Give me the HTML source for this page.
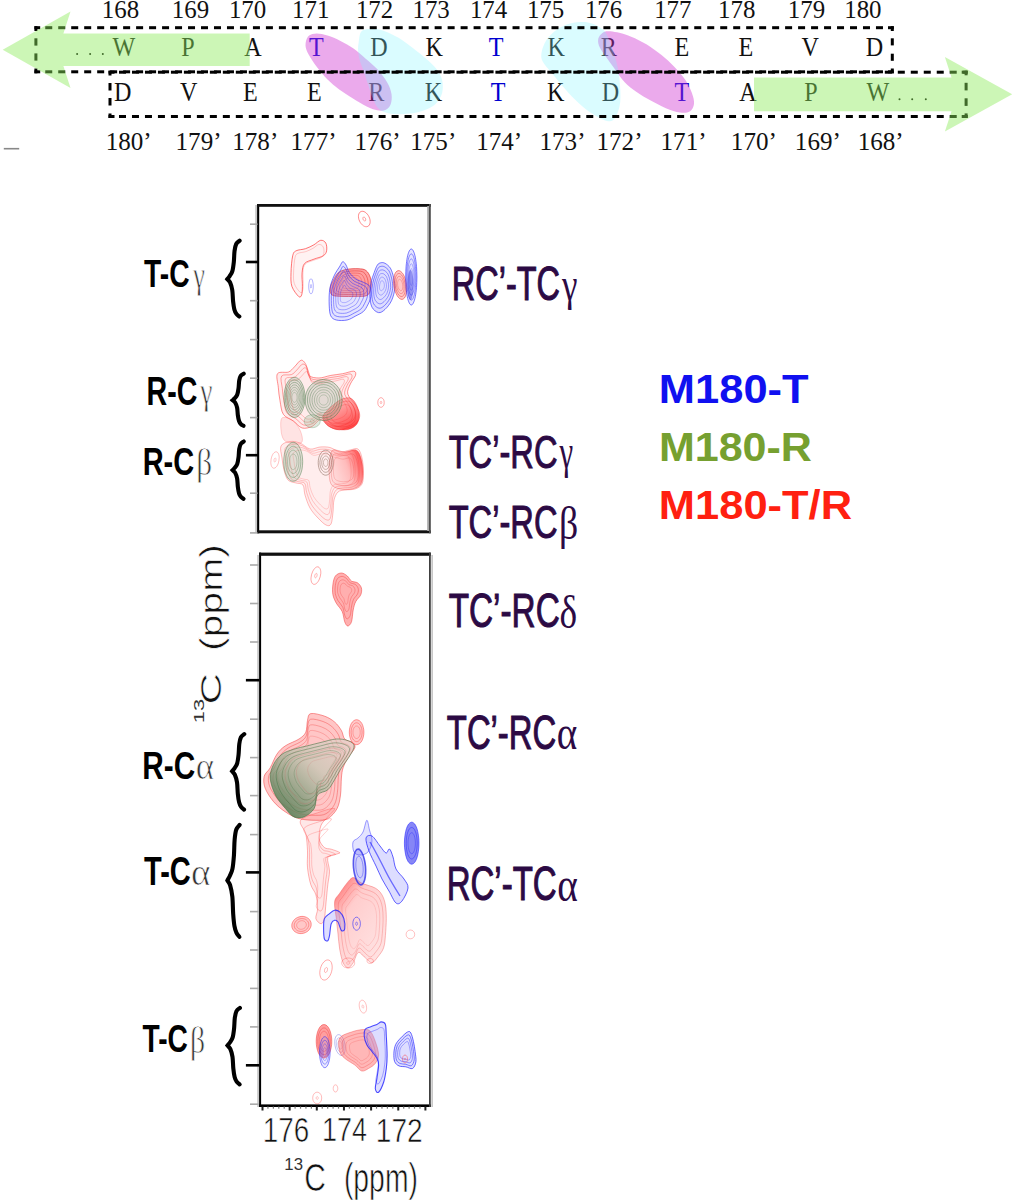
<!DOCTYPE html>
<html><head><meta charset="utf-8"><style>
html,body{margin:0;padding:0;background:#fff;}
body{width:1015px;height:1200px;position:relative;overflow:hidden;}
.t{position:absolute;left:0;top:0;white-space:pre;line-height:1;font-size:100px;transform-origin:0 0;}
svg{position:absolute;left:0;top:0;}
</style></head><body>
<svg width="1015" height="1200" viewBox="0 0 1015 1200"><rect x="255.2" y="205" width="1.9" height="328" fill="#c8c8c8"/><rect x="257.1" y="204" width="2.1" height="329.3" fill="#000"/><rect x="257.1" y="204" width="173.7" height="2.8" fill="#111"/><rect x="257.1" y="530.3" width="173.7" height="3" fill="#111"/><rect x="427.2" y="206" width="1.8" height="325" fill="#a8a8a8"/><rect x="429" y="204" width="1.8" height="329.3" fill="#505050"/><rect x="257.2" y="555" width="1.9" height="552" fill="#c8c8c8"/><rect x="259.1" y="552.6" width="2.0" height="554.4" fill="#000"/><rect x="259.1" y="552.6" width="171.7" height="3.2" fill="#111"/><rect x="259.1" y="1104.4" width="171.7" height="2.6" fill="#000"/><rect x="429" y="552.6" width="1.8" height="554.4" fill="#404040"/><rect x="431.3" y="555" width="1.7" height="552" fill="#c8c8c8"/><rect x="250" y="223.40" width="7.5" height="1.6" fill="#aaa"/><rect x="250" y="299.90" width="7.5" height="1.6" fill="#aaa"/><rect x="250" y="338.80" width="7.5" height="1.6" fill="#aaa"/><rect x="250" y="377.40" width="7.5" height="1.6" fill="#aaa"/><rect x="250" y="416.80" width="7.5" height="1.6" fill="#aaa"/><rect x="250" y="492.40" width="7.5" height="1.6" fill="#aaa"/><rect x="250" y="532.10" width="7.5" height="1.6" fill="#aaa"/><rect x="245.9" y="260.70" width="12" height="2.6" fill="#000"/><rect x="245.9" y="453.90" width="12" height="2.6" fill="#000"/><rect x="250" y="564.20" width="8.5" height="1.6" fill="#aaa"/><rect x="250" y="602.70" width="8.5" height="1.6" fill="#aaa"/><rect x="250" y="641.20" width="8.5" height="1.6" fill="#aaa"/><rect x="250" y="718.40" width="8.5" height="1.6" fill="#aaa"/><rect x="250" y="756.80" width="8.5" height="1.6" fill="#aaa"/><rect x="250" y="794.80" width="8.5" height="1.6" fill="#aaa"/><rect x="250" y="833.80" width="8.5" height="1.6" fill="#aaa"/><rect x="250" y="910.80" width="8.5" height="1.6" fill="#aaa"/><rect x="250" y="949.20" width="8.5" height="1.6" fill="#aaa"/><rect x="250" y="987.60" width="8.5" height="1.6" fill="#aaa"/><rect x="250" y="1026.10" width="8.5" height="1.6" fill="#aaa"/><rect x="250" y="1103.40" width="8.5" height="1.6" fill="#aaa"/><rect x="245.9" y="678.90" width="13.5" height="2.6" fill="#000"/><rect x="245.9" y="871.10" width="13.5" height="2.6" fill="#000"/><rect x="245.9" y="1064.00" width="13.5" height="2.6" fill="#000"/><rect x="261.50" y="1106.5" width="2" height="4" fill="#222"/><rect x="267.33" y="1106.5" width="1.2" height="2.2" fill="#777"/><rect x="272.76" y="1106.5" width="1.2" height="2.2" fill="#777"/><rect x="278.19" y="1106.5" width="1.2" height="2.2" fill="#777"/><rect x="283.62" y="1106.5" width="1.2" height="2.2" fill="#777"/><rect x="288.65" y="1106.5" width="2" height="4" fill="#222"/><rect x="294.48" y="1106.5" width="1.2" height="2.2" fill="#777"/><rect x="299.91" y="1106.5" width="1.2" height="2.2" fill="#777"/><rect x="305.34" y="1106.5" width="1.2" height="2.2" fill="#777"/><rect x="310.77" y="1106.5" width="1.2" height="2.2" fill="#777"/><rect x="315.80" y="1106.5" width="2" height="4" fill="#222"/><rect x="321.63" y="1106.5" width="1.2" height="2.2" fill="#777"/><rect x="327.06" y="1106.5" width="1.2" height="2.2" fill="#777"/><rect x="332.49" y="1106.5" width="1.2" height="2.2" fill="#777"/><rect x="337.92" y="1106.5" width="1.2" height="2.2" fill="#777"/><rect x="342.95" y="1106.5" width="2" height="4" fill="#222"/><rect x="348.78" y="1106.5" width="1.2" height="2.2" fill="#777"/><rect x="354.21" y="1106.5" width="1.2" height="2.2" fill="#777"/><rect x="359.64" y="1106.5" width="1.2" height="2.2" fill="#777"/><rect x="365.07" y="1106.5" width="1.2" height="2.2" fill="#777"/><rect x="370.10" y="1106.5" width="2" height="4" fill="#222"/><rect x="375.93" y="1106.5" width="1.2" height="2.2" fill="#777"/><rect x="381.36" y="1106.5" width="1.2" height="2.2" fill="#777"/><rect x="386.79" y="1106.5" width="1.2" height="2.2" fill="#777"/><rect x="392.22" y="1106.5" width="1.2" height="2.2" fill="#777"/><rect x="397.25" y="1106.5" width="2" height="4" fill="#222"/><rect x="403.08" y="1106.5" width="1.2" height="2.2" fill="#777"/><rect x="408.51" y="1106.5" width="1.2" height="2.2" fill="#777"/><rect x="413.94" y="1106.5" width="1.2" height="2.2" fill="#777"/><rect x="419.37" y="1106.5" width="1.2" height="2.2" fill="#777"/><rect x="424.40" y="1106.5" width="2" height="4" fill="#222"/><path d="M369.0,216.8 C369.5,217.8 369.8,218.8 370.0,219.8 C370.2,220.8 370.2,221.8 370.1,222.7 C370.0,223.6 369.7,224.4 369.3,225.0 C368.9,225.6 368.4,226.2 367.8,226.4 C367.2,226.7 366.4,226.8 365.7,226.7 C365.0,226.6 364.2,226.3 363.4,225.8 C362.7,225.3 361.9,224.6 361.3,223.9 C360.6,223.1 360.0,222.1 359.6,221.2 C359.1,220.2 358.8,219.2 358.6,218.2 C358.4,217.2 358.4,216.2 358.5,215.3 C358.6,214.4 358.9,213.6 359.3,213.0 C359.7,212.4 360.2,211.8 360.8,211.6 C361.4,211.3 362.2,211.2 362.9,211.3 C363.6,211.4 364.4,211.7 365.2,212.2 C365.9,212.7 366.7,213.4 367.3,214.1 C368.0,214.9 368.6,215.9 369.0,216.8Z" fill="none" stroke="#ff3030" stroke-width="0.8" stroke-opacity="0.70"/><path d="M365.5,218.5 C365.6,218.7 365.7,219.0 365.7,219.2 C365.8,219.4 365.8,219.7 365.7,219.9 C365.7,220.1 365.6,220.4 365.6,220.5 C365.5,220.7 365.3,220.8 365.2,220.9 C365.0,220.9 364.8,221.0 364.6,220.9 C364.5,220.9 364.3,220.8 364.1,220.7 C363.9,220.6 363.7,220.4 363.5,220.2 C363.4,220.0 363.2,219.8 363.1,219.5 C363.0,219.3 362.9,219.0 362.9,218.8 C362.8,218.6 362.8,218.3 362.9,218.1 C362.9,217.9 363.0,217.6 363.0,217.5 C363.1,217.3 363.3,217.2 363.4,217.1 C363.6,217.1 363.8,217.0 364.0,217.1 C364.1,217.1 364.3,217.2 364.5,217.3 C364.7,217.4 364.9,217.6 365.1,217.8 C365.2,218.0 365.4,218.2 365.5,218.5Z" fill="none" stroke="#ff3030" stroke-width="0.8" stroke-opacity="0.56"/><path d="M298.7,296.5 C297.1,295.1 293.2,290.3 291.9,286.4 C290.6,282.4 290.9,277.9 291.0,272.8 C291.1,267.7 291.8,259.5 292.7,255.8 C293.6,252.1 294.0,252.0 296.1,250.8 C298.2,249.6 302.5,249.7 305.5,248.7 C308.5,247.7 311.4,246.2 313.9,244.8 C316.4,243.4 318.7,240.6 320.7,240.3 C322.7,240.0 324.8,241.3 325.8,243.1 C326.8,244.8 327.0,248.7 326.6,250.8 C326.2,252.9 325.4,254.4 323.3,255.8 C321.2,257.2 317.0,257.9 313.9,259.2 C310.8,260.5 306.6,261.2 304.6,263.5 C302.6,265.8 302.5,269.0 302.1,272.8 C301.7,276.6 302.5,282.7 302.4,286.4 C302.3,290.1 302.3,293.1 301.7,294.8 C301.1,296.5 300.3,297.9 298.7,296.5Z" fill="#ff9090" fill-opacity="0.12" stroke="#ff3030" stroke-width="0.9" stroke-opacity="0.75"/><path d="M300.1,292.2 C298.7,291.0 295.4,287.0 294.3,283.6 C293.2,280.3 293.4,276.4 293.6,272.1 C293.7,267.7 294.3,260.7 295.0,257.6 C295.7,254.5 296.1,254.4 297.9,253.4 C299.7,252.4 303.4,252.4 305.9,251.6 C308.4,250.7 310.9,249.5 313.0,248.3 C315.2,247.1 317.1,244.7 318.8,244.5 C320.5,244.2 322.3,245.3 323.1,246.8 C324.0,248.3 324.2,251.6 323.8,253.4 C323.5,255.2 322.8,256.4 321.0,257.6 C319.2,258.8 315.7,259.4 313.0,260.5 C310.4,261.6 306.8,262.2 305.1,264.2 C303.4,266.1 303.3,268.8 303.0,272.1 C302.7,275.3 303.3,280.5 303.2,283.6 C303.2,286.8 303.2,289.3 302.6,290.8 C302.1,292.2 301.5,293.4 300.1,292.2Z" fill="none" stroke="#ff3030" stroke-width="0.6" stroke-opacity="0.4"/><path d="M313.3,286.3 C313.3,287.3 313.2,288.3 313.1,289.2 C313.0,290.1 312.8,290.9 312.6,291.6 C312.4,292.3 312.2,292.9 311.9,293.2 C311.6,293.6 311.3,293.8 311.0,293.8 C310.7,293.8 310.4,293.6 310.1,293.2 C309.8,292.9 309.6,292.3 309.4,291.6 C309.2,290.9 309.0,290.1 308.9,289.2 C308.8,288.3 308.7,287.3 308.7,286.3 C308.7,285.3 308.8,284.3 308.9,283.4 C309.0,282.5 309.2,281.7 309.4,281.0 C309.6,280.3 309.8,279.7 310.1,279.4 C310.4,279.0 310.7,278.8 311.0,278.8 C311.3,278.8 311.6,279.0 311.9,279.4 C312.2,279.7 312.4,280.3 312.6,281.0 C312.8,281.7 313.0,282.5 313.1,283.4 C313.2,284.3 313.3,285.3 313.3,286.3Z" fill="none" stroke="#2020ff" stroke-width="0.7" stroke-opacity="0.50"/><path d="M311.6,286.3 C311.6,286.5 311.6,286.8 311.5,287.0 C311.5,287.2 311.5,287.5 311.4,287.6 C311.4,287.8 311.3,287.9 311.2,288.0 C311.2,288.1 311.1,288.2 311.0,288.2 C310.9,288.2 310.8,288.1 310.8,288.0 C310.7,287.9 310.6,287.8 310.6,287.6 C310.5,287.5 310.5,287.2 310.5,287.0 C310.4,286.8 310.4,286.5 310.4,286.3 C310.4,286.1 310.4,285.8 310.5,285.6 C310.5,285.4 310.5,285.1 310.6,285.0 C310.6,284.8 310.7,284.7 310.8,284.6 C310.8,284.5 310.9,284.4 311.0,284.4 C311.1,284.4 311.2,284.5 311.2,284.6 C311.3,284.7 311.4,284.8 311.4,285.0 C311.5,285.1 311.5,285.4 311.5,285.6 C311.6,285.8 311.6,286.1 311.6,286.3Z" fill="none" stroke="#2020ff" stroke-width="0.7" stroke-opacity="0.40"/><path d="M333.0,281.0 C334.3,278.5 335.8,274.9 338.0,273.0 C340.2,271.1 342.7,270.2 346.0,269.5 C349.3,268.8 354.7,268.5 358.0,268.7 C361.3,268.9 363.9,268.9 366.0,270.5 C368.1,272.1 369.7,275.1 370.5,278.0 C371.3,280.9 371.6,285.1 371.0,288.0 C370.4,290.9 369.7,294.1 367.0,295.5 C364.3,296.9 359.2,296.2 355.0,296.4 C350.8,296.5 345.8,296.6 342.0,296.4 C338.2,296.2 333.9,296.4 332.0,295.0 C330.1,293.6 330.1,290.3 330.3,288.0 C330.5,285.7 331.7,283.5 333.0,281.0Z" fill="#ff5050" fill-opacity="0.55"/><path d="M333.0,281.0 C334.3,278.5 335.8,274.9 338.0,273.0 C340.2,271.1 342.7,270.2 346.0,269.5 C349.3,268.8 354.7,268.5 358.0,268.7 C361.3,268.9 363.9,268.9 366.0,270.5 C368.1,272.1 369.7,275.1 370.5,278.0 C371.3,280.9 371.6,285.1 371.0,288.0 C370.4,290.9 369.7,294.1 367.0,295.5 C364.3,296.9 359.2,296.2 355.0,296.4 C350.8,296.5 345.8,296.6 342.0,296.4 C338.2,296.2 333.9,296.4 332.0,295.0 C330.1,293.6 330.1,290.3 330.3,288.0 C330.5,285.7 331.7,283.5 333.0,281.0Z" fill="none" stroke="#e02020" stroke-width="0.8" stroke-opacity="0.80"/><path d="M335.7,281.4 C336.8,279.2 338.1,276.2 339.9,274.6 C341.8,272.9 343.9,272.2 346.7,271.6 C349.5,271.0 354.1,270.8 356.9,270.9 C359.7,271.0 361.9,271.1 363.7,272.4 C365.5,273.7 366.8,276.3 367.5,278.8 C368.2,281.3 368.5,284.8 368.0,287.3 C367.5,289.8 366.8,292.5 364.6,293.7 C362.3,294.9 357.9,294.3 354.4,294.4 C350.8,294.6 346.6,294.6 343.3,294.4 C340.1,294.2 336.5,294.4 334.8,293.2 C333.2,292.1 333.2,289.3 333.4,287.3 C333.5,285.3 334.6,283.5 335.7,281.4Z" fill="none" stroke="#e02020" stroke-width="0.8" stroke-opacity="0.60"/><path d="M338.3,281.7 C339.2,279.9 340.3,277.4 341.8,276.1 C343.3,274.8 345.1,274.2 347.4,273.6 C349.8,273.1 353.5,273.0 355.8,273.1 C358.2,273.2 360.0,273.3 361.4,274.4 C362.9,275.4 364.0,277.6 364.6,279.6 C365.2,281.6 365.3,284.6 364.9,286.6 C364.5,288.6 364.0,290.9 362.1,291.9 C360.3,292.8 356.6,292.4 353.7,292.5 C350.8,292.6 347.3,292.6 344.6,292.5 C341.9,292.3 339.0,292.5 337.6,291.5 C336.3,290.5 336.3,288.2 336.4,286.6 C336.5,285.0 337.4,283.4 338.3,281.7Z" fill="none" stroke="#e02020" stroke-width="0.8" stroke-opacity="0.45"/><path d="M341.0,282.1 C341.7,280.7 342.5,278.7 343.7,277.6 C344.9,276.6 346.3,276.1 348.1,275.7 C350.0,275.3 352.9,275.2 354.7,275.3 C356.6,275.4 358.0,275.4 359.1,276.3 C360.3,277.1 361.1,278.8 361.6,280.4 C362.1,282.0 362.2,284.3 361.9,285.9 C361.6,287.5 361.1,289.3 359.7,290.0 C358.2,290.8 355.4,290.4 353.1,290.5 C350.8,290.6 348.0,290.6 345.9,290.5 C343.8,290.4 341.5,290.5 340.4,289.8 C339.4,289.0 339.4,287.2 339.5,285.9 C339.6,284.6 340.3,283.4 341.0,282.1Z" fill="none" stroke="#e02020" stroke-width="0.8" stroke-opacity="0.34"/><path d="M343.6,282.4 C344.2,281.4 344.8,280.0 345.6,279.2 C346.5,278.4 347.5,278.1 348.8,277.8 C350.2,277.5 352.3,277.4 353.6,277.5 C355.0,277.5 356.0,277.6 356.8,278.2 C357.7,278.8 358.3,280.0 358.6,281.2 C359.0,282.4 359.1,284.0 358.8,285.2 C358.6,286.4 358.3,287.6 357.2,288.2 C356.2,288.8 354.1,288.5 352.4,288.6 C350.8,288.6 348.8,288.7 347.2,288.6 C345.7,288.5 344.0,288.6 343.2,288.0 C342.5,287.4 342.5,286.1 342.6,285.2 C342.6,284.3 343.1,283.4 343.6,282.4Z" fill="none" stroke="#e02020" stroke-width="0.8" stroke-opacity="0.25"/><path d="M329.2,305.0 C329.0,300.5 329.0,293.7 329.8,288.8 C330.6,283.9 332.4,279.6 334.1,275.8 C335.8,272.0 338.6,268.4 340.0,266.0 C341.4,263.6 341.8,261.9 342.8,261.7 C343.8,261.5 344.9,263.2 346.0,265.0 C347.1,266.8 347.7,270.2 349.3,272.5 C350.9,274.8 353.5,277.4 355.8,279.0 C358.1,280.6 361.0,281.0 363.4,282.3 C365.8,283.6 368.6,284.2 369.9,286.6 C371.2,289.0 371.4,293.3 371.0,296.4 C370.6,299.5 369.0,302.5 367.7,305.0 C366.4,307.5 365.4,309.7 363.4,311.5 C361.4,313.3 358.5,314.5 355.8,315.9 C353.1,317.3 350.4,319.3 347.1,320.0 C343.9,320.7 339.0,320.7 336.3,320.0 C333.6,319.3 332.0,318.4 330.8,315.9 C329.6,313.4 329.4,309.5 329.2,305.0Z" fill="#9090ff" fill-opacity="0.25"/><path d="M329.2,305.0 C329.0,300.5 329.0,293.7 329.8,288.8 C330.6,283.9 332.4,279.6 334.1,275.8 C335.8,272.0 338.6,268.4 340.0,266.0 C341.4,263.6 341.8,261.9 342.8,261.7 C343.8,261.5 344.9,263.2 346.0,265.0 C347.1,266.8 347.7,270.2 349.3,272.5 C350.9,274.8 353.5,277.4 355.8,279.0 C358.1,280.6 361.0,281.0 363.4,282.3 C365.8,283.6 368.6,284.2 369.9,286.6 C371.2,289.0 371.4,293.3 371.0,296.4 C370.6,299.5 369.0,302.5 367.7,305.0 C366.4,307.5 365.4,309.7 363.4,311.5 C361.4,313.3 358.5,314.5 355.8,315.9 C353.1,317.3 350.4,319.3 347.1,320.0 C343.9,320.7 339.0,320.7 336.3,320.0 C333.6,319.3 332.0,318.4 330.8,315.9 C329.6,313.4 329.4,309.5 329.2,305.0Z" fill="none" stroke="#2020ff" stroke-width="0.7" stroke-opacity="0.85"/><path d="M331.4,303.6 C331.3,299.7 331.2,293.9 331.9,289.7 C332.6,285.5 334.2,281.8 335.6,278.5 C337.1,275.2 339.5,272.1 340.7,270.1 C341.9,268.0 342.2,266.5 343.1,266.4 C344.0,266.2 344.9,267.7 345.9,269.2 C346.8,270.7 347.3,273.6 348.7,275.6 C350.1,277.7 352.3,279.8 354.3,281.2 C356.3,282.6 358.8,283.0 360.8,284.1 C362.8,285.2 365.3,285.8 366.4,287.8 C367.5,289.8 367.7,293.6 367.4,296.2 C367.0,298.8 365.6,301.4 364.5,303.6 C363.4,305.8 362.5,307.6 360.8,309.2 C359.1,310.8 356.6,311.8 354.3,313.0 C352.0,314.2 349.6,315.9 346.8,316.5 C344.0,317.1 339.9,317.1 337.5,316.5 C335.2,315.9 333.8,315.1 332.8,313.0 C331.8,310.8 331.6,307.5 331.4,303.6Z" fill="none" stroke="#2020ff" stroke-width="0.7" stroke-opacity="0.72"/><path d="M333.6,302.2 C333.5,298.9 333.5,294.0 334.1,290.5 C334.6,287.0 335.9,283.9 337.2,281.2 C338.4,278.4 340.4,275.8 341.4,274.1 C342.4,272.4 342.7,271.1 343.4,271.0 C344.1,270.9 344.9,272.1 345.7,273.4 C346.5,274.7 346.9,277.1 348.1,278.8 C349.3,280.5 351.1,282.3 352.8,283.5 C354.5,284.7 356.6,284.9 358.2,285.9 C359.9,286.8 362.0,287.3 362.9,289.0 C363.8,290.6 364.0,293.8 363.7,296.0 C363.5,298.2 362.3,300.4 361.3,302.2 C360.4,304.0 359.7,305.6 358.2,306.9 C356.8,308.2 354.7,309.0 352.8,310.0 C350.8,311.1 348.9,312.5 346.5,313.0 C344.2,313.5 340.7,313.5 338.7,313.0 C336.8,312.5 335.6,311.8 334.8,310.0 C333.9,308.2 333.7,305.5 333.6,302.2Z" fill="none" stroke="#2020ff" stroke-width="0.7" stroke-opacity="0.61"/><path d="M335.8,300.8 C335.7,298.2 335.7,294.2 336.2,291.4 C336.7,288.6 337.7,286.1 338.7,283.9 C339.7,281.7 341.3,279.5 342.1,278.2 C342.9,276.8 343.1,275.8 343.7,275.7 C344.3,275.6 345.0,276.6 345.6,277.6 C346.2,278.6 346.5,280.6 347.5,281.9 C348.4,283.3 349.9,284.8 351.3,285.7 C352.6,286.7 354.3,286.9 355.7,287.6 C357.0,288.4 358.7,288.8 359.4,290.1 C360.2,291.5 360.3,294.0 360.1,295.8 C359.9,297.6 358.9,299.3 358.2,300.8 C357.4,302.3 356.8,303.5 355.7,304.6 C354.5,305.6 352.8,306.3 351.3,307.1 C349.7,307.9 348.1,309.1 346.2,309.5 C344.3,309.9 341.5,309.9 340.0,309.5 C338.4,309.1 337.5,308.6 336.8,307.1 C336.1,305.7 335.9,303.4 335.8,300.8Z" fill="none" stroke="#2020ff" stroke-width="0.7" stroke-opacity="0.52"/><path d="M338.0,299.4 C338.0,297.4 338.0,294.4 338.3,292.3 C338.7,290.1 339.5,288.2 340.2,286.6 C341.0,284.9 342.2,283.3 342.8,282.2 C343.4,281.2 343.6,280.4 344.0,280.3 C344.5,280.3 345.0,281.0 345.4,281.8 C345.9,282.6 346.2,284.1 346.9,285.1 C347.6,286.1 348.7,287.2 349.8,288.0 C350.8,288.7 352.1,288.9 353.1,289.4 C354.1,290.0 355.4,290.3 356.0,291.3 C356.5,292.3 356.6,294.3 356.4,295.6 C356.3,297.0 355.5,298.3 355.0,299.4 C354.4,300.5 354.0,301.5 353.1,302.3 C352.2,303.1 350.9,303.6 349.8,304.2 C348.6,304.8 347.4,305.7 345.9,306.0 C344.5,306.3 342.4,306.3 341.2,306.0 C340.0,305.7 339.3,305.3 338.8,304.2 C338.2,303.1 338.1,301.4 338.0,299.4Z" fill="none" stroke="#2020ff" stroke-width="0.7" stroke-opacity="0.44"/><path d="M340.3,298.0 C340.2,296.6 340.2,294.6 340.4,293.1 C340.7,291.7 341.2,290.4 341.7,289.2 C342.2,288.1 343.1,287.0 343.5,286.3 C343.9,285.6 344.0,285.1 344.3,285.0 C344.6,285.0 345.0,285.5 345.3,286.0 C345.6,286.5 345.8,287.6 346.3,288.2 C346.8,288.9 347.5,289.7 348.2,290.2 C348.9,290.7 349.8,290.8 350.5,291.2 C351.2,291.6 352.1,291.8 352.5,292.5 C352.8,293.2 352.9,294.5 352.8,295.4 C352.7,296.3 352.2,297.2 351.8,298.0 C351.4,298.8 351.1,299.4 350.5,299.9 C349.9,300.5 349.1,300.8 348.2,301.3 C347.4,301.7 346.6,302.3 345.6,302.5 C344.7,302.7 343.2,302.7 342.4,302.5 C341.6,302.3 341.1,302.0 340.7,301.3 C340.4,300.5 340.3,299.4 340.3,298.0Z" fill="none" stroke="#2020ff" stroke-width="0.7" stroke-opacity="0.38"/><path d="M380.7,262.8 C382.0,262.5 383.4,262.4 385.0,263.3 C386.6,264.2 388.9,265.8 390.4,268.2 C391.8,270.6 393.0,274.5 393.7,277.9 C394.4,281.3 395.2,285.0 394.8,288.8 C394.4,292.6 393.1,297.3 391.5,300.7 C389.9,304.1 387.2,307.4 385.0,309.4 C382.8,311.4 380.7,313.0 378.5,312.6 C376.3,312.2 373.4,309.9 372.0,307.2 C370.6,304.5 370.1,300.4 369.9,296.4 C369.7,292.4 370.2,287.4 370.9,283.4 C371.6,279.4 373.1,275.6 374.2,272.5 C375.3,269.4 376.3,266.6 377.4,265.0 C378.5,263.4 379.4,263.1 380.7,262.8Z" fill="#9090ff" fill-opacity="0.3"/><path d="M380.7,262.8 C382.0,262.5 383.4,262.4 385.0,263.3 C386.6,264.2 388.9,265.8 390.4,268.2 C391.8,270.6 393.0,274.5 393.7,277.9 C394.4,281.3 395.2,285.0 394.8,288.8 C394.4,292.6 393.1,297.3 391.5,300.7 C389.9,304.1 387.2,307.4 385.0,309.4 C382.8,311.4 380.7,313.0 378.5,312.6 C376.3,312.2 373.4,309.9 372.0,307.2 C370.6,304.5 370.1,300.4 369.9,296.4 C369.7,292.4 370.2,287.4 370.9,283.4 C371.6,279.4 373.1,275.6 374.2,272.5 C375.3,269.4 376.3,266.6 377.4,265.0 C378.5,263.4 379.4,263.1 380.7,262.8Z" fill="none" stroke="#2020ff" stroke-width="0.7" stroke-opacity="0.85"/><path d="M380.9,266.4 C381.9,266.2 383.1,266.1 384.5,266.8 C385.9,267.6 387.8,268.9 389.0,270.9 C390.2,273.0 391.2,276.2 391.8,279.1 C392.4,282.0 393.0,285.0 392.7,288.2 C392.4,291.4 391.3,295.3 390.0,298.2 C388.6,301.1 386.3,303.9 384.5,305.5 C382.7,307.2 380.9,308.5 379.0,308.2 C377.2,307.9 374.8,306.0 373.6,303.7 C372.4,301.4 372.0,297.9 371.8,294.6 C371.7,291.3 372.0,287.0 372.7,283.7 C373.3,280.3 374.5,277.1 375.4,274.5 C376.3,272.0 377.2,269.6 378.1,268.2 C379.0,266.9 379.8,266.6 380.9,266.4Z" fill="none" stroke="#2020ff" stroke-width="0.7" stroke-opacity="0.72"/><path d="M381.1,270.0 C381.9,269.8 382.9,269.7 384.0,270.3 C385.1,270.9 386.7,272.0 387.7,273.7 C388.6,275.3 389.4,277.9 389.9,280.3 C390.4,282.6 390.9,285.1 390.7,287.7 C390.4,290.2 389.5,293.4 388.4,295.8 C387.3,298.1 385.5,300.3 384.0,301.7 C382.5,303.0 381.0,304.1 379.6,303.8 C378.1,303.6 376.1,302.0 375.2,300.2 C374.2,298.3 373.8,295.5 373.7,292.8 C373.6,290.1 373.9,286.7 374.4,284.0 C374.9,281.3 375.9,278.7 376.6,276.6 C377.4,274.5 378.1,272.6 378.8,271.5 C379.6,270.4 380.2,270.2 381.1,270.0Z" fill="none" stroke="#2020ff" stroke-width="0.7" stroke-opacity="0.61"/><path d="M381.3,273.6 C381.9,273.4 382.6,273.4 383.5,273.8 C384.3,274.3 385.5,275.1 386.3,276.4 C387.0,277.6 387.6,279.6 388.0,281.4 C388.4,283.2 388.8,285.1 388.6,287.1 C388.4,289.1 387.7,291.5 386.9,293.3 C386.0,295.1 384.6,296.8 383.5,297.8 C382.4,298.8 381.2,299.7 380.1,299.5 C379.0,299.3 377.5,298.1 376.7,296.7 C376.0,295.3 375.7,293.1 375.6,291.0 C375.5,289.0 375.8,286.4 376.2,284.3 C376.5,282.2 377.3,280.2 377.9,278.6 C378.4,277.0 379.0,275.6 379.5,274.7 C380.1,273.9 380.6,273.7 381.3,273.6Z" fill="none" stroke="#2020ff" stroke-width="0.7" stroke-opacity="0.52"/><path d="M381.4,277.2 C381.9,277.1 382.4,277.0 383.0,277.3 C383.6,277.7 384.4,278.2 384.9,279.1 C385.4,280.0 385.8,281.4 386.1,282.6 C386.4,283.8 386.6,285.2 386.5,286.5 C386.4,287.9 385.9,289.6 385.3,290.8 C384.7,292.0 383.8,293.2 383.0,293.9 C382.2,294.7 381.4,295.2 380.6,295.1 C379.9,295.0 378.8,294.1 378.3,293.1 C377.8,292.2 377.6,290.7 377.5,289.3 C377.5,287.8 377.6,286.0 377.9,284.6 C378.2,283.1 378.7,281.8 379.1,280.7 C379.5,279.6 379.9,278.5 380.2,278.0 C380.6,277.4 381.0,277.3 381.4,277.2Z" fill="none" stroke="#2020ff" stroke-width="0.7" stroke-opacity="0.44"/><path d="M381.6,280.8 C381.9,280.7 382.2,280.7 382.5,280.9 C382.8,281.0 383.3,281.4 383.6,281.8 C383.8,282.3 384.1,283.1 384.2,283.8 C384.4,284.5 384.5,285.2 384.4,286.0 C384.4,286.7 384.1,287.7 383.8,288.3 C383.5,289.0 382.9,289.7 382.5,290.1 C382.0,290.5 381.6,290.8 381.2,290.7 C380.7,290.6 380.2,290.2 379.9,289.6 C379.6,289.1 379.5,288.3 379.5,287.5 C379.4,286.7 379.5,285.7 379.7,284.9 C379.8,284.1 380.1,283.3 380.3,282.7 C380.5,282.1 380.7,281.5 381.0,281.2 C381.2,280.9 381.4,280.8 381.6,280.8Z" fill="none" stroke="#2020ff" stroke-width="0.7" stroke-opacity="0.38"/><path d="M406.4,284.1 C406.7,286.0 406.8,287.9 406.7,289.7 C406.7,291.4 406.4,293.2 406.0,294.5 C405.7,295.9 405.1,297.1 404.5,297.9 C403.8,298.7 403.0,299.2 402.2,299.4 C401.4,299.5 400.5,299.2 399.7,298.6 C398.8,298.0 398.0,297.0 397.2,295.8 C396.5,294.6 395.8,293.0 395.2,291.3 C394.7,289.7 394.2,287.7 394.0,285.9 C393.7,284.0 393.6,282.1 393.7,280.3 C393.7,278.6 394.0,276.8 394.4,275.5 C394.7,274.1 395.3,272.9 395.9,272.1 C396.6,271.3 397.4,270.8 398.2,270.6 C399.0,270.5 399.9,270.8 400.7,271.4 C401.6,272.0 402.4,273.0 403.2,274.2 C403.9,275.4 404.6,277.0 405.2,278.7 C405.7,280.3 406.2,282.3 406.4,284.1Z" fill="#ff6060" fill-opacity="0.35"/><path d="M406.4,284.1 C406.7,286.0 406.8,287.9 406.7,289.7 C406.7,291.4 406.4,293.2 406.0,294.5 C405.7,295.9 405.1,297.1 404.5,297.9 C403.8,298.7 403.0,299.2 402.2,299.4 C401.4,299.5 400.5,299.2 399.7,298.6 C398.8,298.0 398.0,297.0 397.2,295.8 C396.5,294.6 395.8,293.0 395.2,291.3 C394.7,289.7 394.2,287.7 394.0,285.9 C393.7,284.0 393.6,282.1 393.7,280.3 C393.7,278.6 394.0,276.8 394.4,275.5 C394.7,274.1 395.3,272.9 395.9,272.1 C396.6,271.3 397.4,270.8 398.2,270.6 C399.0,270.5 399.9,270.8 400.7,271.4 C401.6,272.0 402.4,273.0 403.2,274.2 C403.9,275.4 404.6,277.0 405.2,278.7 C405.7,280.3 406.2,282.3 406.4,284.1Z" fill="none" stroke="#e83030" stroke-width="0.7" stroke-opacity="0.80"/><path d="M405.2,284.3 C405.4,285.8 405.5,287.4 405.4,288.7 C405.4,290.1 405.2,291.5 404.9,292.6 C404.6,293.7 404.1,294.7 403.6,295.3 C403.1,296.0 402.5,296.4 401.8,296.5 C401.2,296.6 400.4,296.4 399.8,295.9 C399.1,295.4 398.4,294.6 397.8,293.6 C397.2,292.6 396.6,291.4 396.2,290.0 C395.8,288.7 395.4,287.2 395.2,285.7 C395.0,284.2 394.9,282.6 395.0,281.3 C395.0,279.9 395.2,278.5 395.5,277.4 C395.8,276.3 396.3,275.3 396.8,274.7 C397.3,274.0 397.9,273.6 398.6,273.5 C399.2,273.4 400.0,273.6 400.6,274.1 C401.3,274.6 402.0,275.4 402.6,276.4 C403.2,277.4 403.8,278.6 404.2,280.0 C404.6,281.3 405.0,282.8 405.2,284.3Z" fill="none" stroke="#e83030" stroke-width="0.7" stroke-opacity="0.64"/><path d="M403.9,284.5 C404.1,285.6 404.2,286.8 404.1,287.8 C404.1,288.9 403.9,289.9 403.7,290.7 C403.5,291.5 403.1,292.3 402.8,292.8 C402.4,293.2 401.9,293.5 401.4,293.6 C400.9,293.7 400.4,293.5 399.9,293.2 C399.4,292.8 398.9,292.2 398.4,291.5 C398.0,290.7 397.5,289.8 397.2,288.8 C396.9,287.8 396.6,286.6 396.5,285.5 C396.3,284.4 396.2,283.2 396.3,282.2 C396.3,281.1 396.5,280.1 396.7,279.3 C396.9,278.5 397.3,277.7 397.6,277.2 C398.0,276.8 398.5,276.5 399.0,276.4 C399.5,276.3 400.0,276.5 400.5,276.8 C401.0,277.2 401.5,277.8 402.0,278.5 C402.4,279.3 402.9,280.2 403.2,281.2 C403.5,282.2 403.8,283.4 403.9,284.5Z" fill="none" stroke="#e83030" stroke-width="0.7" stroke-opacity="0.51"/><path d="M402.7,284.6 C402.8,285.4 402.8,286.2 402.8,286.9 C402.8,287.6 402.7,288.3 402.5,288.8 C402.4,289.4 402.2,289.9 401.9,290.2 C401.6,290.5 401.3,290.7 401.0,290.7 C400.7,290.8 400.3,290.7 400.0,290.4 C399.7,290.2 399.3,289.8 399.0,289.3 C398.7,288.8 398.4,288.2 398.2,287.5 C398.0,286.9 397.8,286.1 397.7,285.4 C397.6,284.6 397.6,283.8 397.6,283.1 C397.6,282.4 397.7,281.7 397.9,281.2 C398.0,280.6 398.2,280.1 398.5,279.8 C398.8,279.5 399.1,279.3 399.4,279.3 C399.7,279.2 400.1,279.3 400.4,279.6 C400.7,279.8 401.1,280.2 401.4,280.7 C401.7,281.2 402.0,281.8 402.2,282.5 C402.4,283.1 402.6,283.9 402.7,284.6Z" fill="none" stroke="#e83030" stroke-width="0.7" stroke-opacity="0.41"/><path d="M416.9,277.0 C416.9,280.6 416.7,284.4 416.5,287.7 C416.2,291.0 415.8,294.3 415.3,296.8 C414.8,299.3 414.1,301.5 413.4,302.9 C412.8,304.2 412.0,305.0 411.3,305.0 C410.6,305.0 409.8,304.2 409.2,302.9 C408.5,301.5 407.8,299.3 407.3,296.8 C406.8,294.3 406.4,291.0 406.1,287.7 C405.9,284.4 405.7,280.6 405.7,277.0 C405.7,273.4 405.9,269.6 406.1,266.3 C406.4,263.0 406.8,259.7 407.3,257.2 C407.8,254.7 408.5,252.5 409.2,251.1 C409.8,249.8 410.6,249.0 411.3,249.0 C412.0,249.0 412.8,249.8 413.4,251.1 C414.1,252.5 414.8,254.7 415.3,257.2 C415.8,259.7 416.2,263.0 416.5,266.3 C416.7,269.6 416.9,273.4 416.9,277.0Z" fill="#9090ff" fill-opacity="0.25"/><path d="M416.9,277.0 C416.9,280.6 416.7,284.4 416.5,287.7 C416.2,291.0 415.8,294.3 415.3,296.8 C414.8,299.3 414.1,301.5 413.4,302.9 C412.8,304.2 412.0,305.0 411.3,305.0 C410.6,305.0 409.8,304.2 409.2,302.9 C408.5,301.5 407.8,299.3 407.3,296.8 C406.8,294.3 406.4,291.0 406.1,287.7 C405.9,284.4 405.7,280.6 405.7,277.0 C405.7,273.4 405.9,269.6 406.1,266.3 C406.4,263.0 406.8,259.7 407.3,257.2 C407.8,254.7 408.5,252.5 409.2,251.1 C409.8,249.8 410.6,249.0 411.3,249.0 C412.0,249.0 412.8,249.8 413.4,251.1 C414.1,252.5 414.8,254.7 415.3,257.2 C415.8,259.7 416.2,263.0 416.5,266.3 C416.7,269.6 416.9,273.4 416.9,277.0Z" fill="none" stroke="#2020ff" stroke-width="0.7" stroke-opacity="0.85"/><path d="M415.9,277.0 C415.9,279.9 415.8,283.1 415.6,285.8 C415.3,288.6 415.0,291.3 414.6,293.3 C414.2,295.4 413.6,297.2 413.1,298.3 C412.5,299.5 411.9,300.1 411.3,300.1 C410.7,300.1 410.1,299.5 409.5,298.3 C409.0,297.2 408.4,295.4 408.0,293.3 C407.6,291.3 407.3,288.6 407.0,285.8 C406.8,283.1 406.7,279.9 406.7,277.0 C406.7,274.1 406.8,270.9 407.0,268.2 C407.3,265.4 407.6,262.7 408.0,260.7 C408.4,258.6 409.0,256.8 409.5,255.7 C410.1,254.5 410.7,253.9 411.3,253.9 C411.9,253.9 412.5,254.5 413.1,255.7 C413.6,256.8 414.2,258.6 414.6,260.7 C415.0,262.7 415.3,265.4 415.6,268.2 C415.8,270.9 415.9,274.1 415.9,277.0Z" fill="none" stroke="#2020ff" stroke-width="0.7" stroke-opacity="0.68"/><path d="M414.9,277.0 C414.9,279.3 414.8,281.8 414.7,284.0 C414.5,286.1 414.2,288.2 413.9,289.9 C413.5,291.5 413.1,292.9 412.7,293.8 C412.3,294.7 411.8,295.2 411.3,295.2 C410.8,295.2 410.3,294.7 409.9,293.8 C409.5,292.9 409.1,291.5 408.7,289.9 C408.4,288.2 408.1,286.1 407.9,284.0 C407.8,281.8 407.7,279.3 407.7,277.0 C407.7,274.7 407.8,272.2 407.9,270.0 C408.1,267.9 408.4,265.8 408.7,264.1 C409.1,262.5 409.5,261.1 409.9,260.2 C410.3,259.3 410.8,258.8 411.3,258.8 C411.8,258.8 412.3,259.3 412.7,260.2 C413.1,261.1 413.5,262.5 413.9,264.1 C414.2,265.8 414.5,267.9 414.7,270.0 C414.8,272.2 414.9,274.7 414.9,277.0Z" fill="none" stroke="#2020ff" stroke-width="0.7" stroke-opacity="0.54"/><path d="M414.0,277.0 C414.0,278.7 413.9,280.5 413.8,282.1 C413.6,283.7 413.4,285.2 413.2,286.4 C412.9,287.6 412.6,288.6 412.3,289.3 C412.0,289.9 411.6,290.3 411.3,290.3 C411.0,290.3 410.6,289.9 410.3,289.3 C410.0,288.6 409.7,287.6 409.4,286.4 C409.2,285.2 409.0,283.7 408.8,282.1 C408.7,280.5 408.6,278.7 408.6,277.0 C408.6,275.3 408.7,273.5 408.8,271.9 C409.0,270.3 409.2,268.8 409.4,267.6 C409.7,266.4 410.0,265.4 410.3,264.7 C410.6,264.1 411.0,263.7 411.3,263.7 C411.6,263.7 412.0,264.1 412.3,264.7 C412.6,265.4 412.9,266.4 413.2,267.6 C413.4,268.8 413.6,270.3 413.8,271.9 C413.9,273.5 414.0,275.3 414.0,277.0Z" fill="none" stroke="#2020ff" stroke-width="0.7" stroke-opacity="0.44"/><path d="M413.0,277.0 C413.0,278.1 412.9,279.2 412.9,280.2 C412.8,281.2 412.6,282.2 412.5,282.9 C412.3,283.7 412.1,284.4 411.9,284.8 C411.7,285.2 411.5,285.4 411.3,285.4 C411.1,285.4 410.9,285.2 410.7,284.8 C410.5,284.4 410.3,283.7 410.1,282.9 C410.0,282.2 409.8,281.2 409.7,280.2 C409.7,279.2 409.6,278.1 409.6,277.0 C409.6,275.9 409.7,274.8 409.7,273.8 C409.8,272.8 410.0,271.8 410.1,271.1 C410.3,270.3 410.5,269.6 410.7,269.2 C410.9,268.8 411.1,268.6 411.3,268.6 C411.5,268.6 411.7,268.8 411.9,269.2 C412.1,269.6 412.3,270.3 412.5,271.1 C412.6,271.8 412.8,272.8 412.9,273.8 C412.9,274.8 413.0,275.9 413.0,277.0Z" fill="none" stroke="#2020ff" stroke-width="0.7" stroke-opacity="0.35"/><path d="M413.5,285.0 C413.5,286.9 413.4,289.0 413.3,290.7 C413.1,292.5 412.9,294.3 412.6,295.6 C412.4,297.0 412.0,298.1 411.6,298.9 C411.3,299.6 410.9,300.0 410.5,300.0 C410.1,300.0 409.7,299.6 409.4,298.9 C409.0,298.1 408.6,297.0 408.4,295.6 C408.1,294.3 407.9,292.5 407.7,290.7 C407.6,289.0 407.5,286.9 407.5,285.0 C407.5,283.1 407.6,281.0 407.7,279.3 C407.9,277.5 408.1,275.7 408.4,274.4 C408.6,273.0 409.0,271.9 409.4,271.1 C409.7,270.4 410.1,270.0 410.5,270.0 C410.9,270.0 411.3,270.4 411.6,271.1 C412.0,271.9 412.4,273.0 412.6,274.4 C412.9,275.7 413.1,277.5 413.3,279.3 C413.4,281.0 413.5,283.1 413.5,285.0Z" fill="#3030e0" fill-opacity="0.45"/><path d="M277.5,373.7 C279.2,371.1 285.7,373.1 288.5,372.0 C291.3,370.9 292.3,368.9 294.4,366.9 C296.5,364.9 299.2,360.5 301.2,360.2 C303.2,359.9 305.0,362.8 306.3,365.3 C307.6,367.8 306.7,373.3 308.8,375.4 C310.9,377.5 315.3,378.0 319.0,378.0 C322.7,378.0 326.9,376.1 330.9,375.4 C334.8,374.7 338.9,374.4 342.7,373.7 C346.5,373.0 351.7,370.9 353.8,371.2 C355.9,371.5 356.1,373.3 355.5,375.4 C354.9,377.5 351.7,380.8 350.4,383.9 C349.1,387.0 346.8,390.4 347.8,394.1 C348.8,397.8 354.3,402.2 356.3,405.9 C358.3,409.6 360.0,413.0 359.7,416.1 C359.4,419.2 358.0,422.3 354.6,424.6 C351.2,426.9 343.6,429.4 339.4,429.7 C335.2,430.0 332.3,428.0 329.2,426.3 C326.1,424.6 323.5,419.5 320.7,419.5 C317.9,419.5 315.3,424.9 312.2,426.3 C309.1,427.7 305.2,428.9 302.1,428.0 C299.0,427.1 296.7,423.5 293.6,421.2 C290.5,418.9 285.7,417.8 283.4,414.4 C281.1,411.0 280.9,405.3 280.0,400.8 C279.1,396.3 278.7,391.8 278.3,387.3 C277.9,382.8 275.8,376.2 277.5,373.7Z" fill="#ff9090" fill-opacity="0.18"/><path d="M277.5,373.7 C279.2,371.1 285.7,373.1 288.5,372.0 C291.3,370.9 292.3,368.9 294.4,366.9 C296.5,364.9 299.2,360.5 301.2,360.2 C303.2,359.9 305.0,362.8 306.3,365.3 C307.6,367.8 306.7,373.3 308.8,375.4 C310.9,377.5 315.3,378.0 319.0,378.0 C322.7,378.0 326.9,376.1 330.9,375.4 C334.8,374.7 338.9,374.4 342.7,373.7 C346.5,373.0 351.7,370.9 353.8,371.2 C355.9,371.5 356.1,373.3 355.5,375.4 C354.9,377.5 351.7,380.8 350.4,383.9 C349.1,387.0 346.8,390.4 347.8,394.1 C348.8,397.8 354.3,402.2 356.3,405.9 C358.3,409.6 360.0,413.0 359.7,416.1 C359.4,419.2 358.0,422.3 354.6,424.6 C351.2,426.9 343.6,429.4 339.4,429.7 C335.2,430.0 332.3,428.0 329.2,426.3 C326.1,424.6 323.5,419.5 320.7,419.5 C317.9,419.5 315.3,424.9 312.2,426.3 C309.1,427.7 305.2,428.9 302.1,428.0 C299.0,427.1 296.7,423.5 293.6,421.2 C290.5,418.9 285.7,417.8 283.4,414.4 C281.1,411.0 280.9,405.3 280.0,400.8 C279.1,396.3 278.7,391.8 278.3,387.3 C277.9,382.8 275.8,376.2 277.5,373.7Z" fill="none" stroke="#ff3030" stroke-width="0.7" stroke-opacity="0.75"/><path d="M281.6,376.1 C283.1,373.8 288.9,375.6 291.4,374.6 C294.0,373.6 294.9,371.8 296.8,370.0 C298.7,368.2 301.1,364.2 302.9,364.0 C304.7,363.7 306.3,366.3 307.5,368.6 C308.6,370.8 307.8,375.8 309.7,377.7 C311.6,379.6 315.6,380.0 318.9,380.0 C322.2,380.0 326.1,378.3 329.6,377.7 C333.2,377.0 336.8,376.8 340.2,376.1 C343.7,375.5 348.3,373.6 350.2,373.9 C352.1,374.1 352.3,375.8 351.8,377.7 C351.2,379.6 348.3,382.5 347.2,385.3 C346.0,388.1 343.9,391.2 344.8,394.5 C345.7,397.8 350.7,401.8 352.5,405.1 C354.3,408.4 355.8,411.5 355.5,414.3 C355.3,417.1 354.0,419.9 350.9,421.9 C347.9,424.0 341.1,426.3 337.3,426.5 C333.4,426.8 330.9,425.0 328.1,423.5 C325.3,421.9 323.0,417.4 320.4,417.4 C317.9,417.4 315.6,422.2 312.8,423.5 C310.0,424.7 306.5,425.8 303.7,425.0 C300.9,424.2 298.8,420.9 296.0,418.9 C293.2,416.8 288.9,415.8 286.9,412.8 C284.8,409.7 284.6,404.6 283.8,400.5 C283.0,396.5 282.6,392.4 282.3,388.4 C281.9,384.3 280.0,378.4 281.6,376.1Z" fill="none" stroke="#ff3030" stroke-width="0.7" stroke-opacity="0.60"/><path d="M285.6,378.6 C287.0,376.5 292.1,378.1 294.4,377.2 C296.7,376.3 297.4,374.7 299.1,373.1 C300.8,371.5 303.0,368.0 304.6,367.8 C306.1,367.5 307.6,369.8 308.6,371.8 C309.7,373.9 308.9,378.2 310.6,379.9 C312.3,381.6 315.9,382.0 318.8,382.0 C321.7,382.0 325.2,380.5 328.3,379.9 C331.5,379.3 334.7,379.1 337.8,378.6 C340.8,378.0 344.9,376.3 346.6,376.6 C348.3,376.8 348.5,378.2 348.0,379.9 C347.5,381.6 344.9,384.2 343.9,386.7 C342.9,389.2 341.1,391.9 341.8,394.9 C342.6,397.8 347.1,401.4 348.6,404.3 C350.2,407.3 351.6,410.0 351.4,412.5 C351.1,415.0 350.0,417.5 347.3,419.3 C344.6,421.1 338.5,423.1 335.1,423.4 C331.7,423.6 329.5,422.0 327.0,420.6 C324.5,419.3 322.4,415.2 320.2,415.2 C317.9,415.2 315.8,419.5 313.4,420.6 C310.9,421.8 307.8,422.7 305.3,422.0 C302.8,421.3 301.0,418.4 298.5,416.6 C296.0,414.7 292.1,413.8 290.3,411.1 C288.5,408.4 288.3,403.9 287.6,400.2 C286.9,396.6 286.6,393.1 286.2,389.4 C285.9,385.8 284.2,380.6 285.6,378.6Z" fill="none" stroke="#ff3030" stroke-width="0.7" stroke-opacity="0.48"/><path d="M289.6,381.0 C290.8,379.2 295.4,380.6 297.4,379.8 C299.3,379.0 300.0,377.6 301.5,376.2 C303.0,374.9 304.9,371.7 306.2,371.5 C307.6,371.4 308.9,373.3 309.8,375.1 C310.7,376.9 310.1,380.7 311.6,382.2 C313.0,383.7 316.1,384.0 318.7,384.0 C321.3,384.0 324.3,382.7 327.0,382.2 C329.8,381.7 332.6,381.5 335.3,381.0 C338.0,380.5 341.6,379.0 343.1,379.2 C344.6,379.4 344.6,380.7 344.2,382.2 C343.9,383.7 341.6,385.9 340.7,388.1 C339.8,390.3 338.2,392.7 338.9,395.3 C339.5,397.8 343.4,401.0 344.8,403.5 C346.2,406.1 347.4,408.5 347.2,410.7 C347.0,412.9 346.0,415.0 343.6,416.6 C341.3,418.2 335.9,420.0 333.0,420.2 C330.0,420.4 328.0,419.0 325.8,417.8 C323.7,416.6 321.9,413.1 319.9,413.1 C317.9,413.1 316.1,416.8 313.9,417.8 C311.8,418.8 309.0,419.6 306.9,419.0 C304.7,418.4 303.1,415.8 300.9,414.2 C298.7,412.7 295.4,411.9 293.8,409.5 C292.2,407.1 292.0,403.1 291.4,400.0 C290.8,396.8 290.5,393.7 290.2,390.5 C289.9,387.3 288.5,382.8 289.6,381.0Z" fill="none" stroke="#ff3030" stroke-width="0.7" stroke-opacity="0.38"/><defs><linearGradient id="gg" x1="0.2" y1="0" x2="0.8" y2="1"><stop offset="0" stop-color="#ff6060" stop-opacity="0.3"/><stop offset="1" stop-color="#ff2020" stop-opacity="0.85"/></linearGradient></defs><path d="M340.0,400.0 C343.3,398.3 347.3,397.3 350.0,398.0 C352.7,398.7 354.5,401.3 356.0,404.0 C357.5,406.7 358.8,410.7 359.0,414.0 C359.2,417.3 358.8,421.4 357.0,424.0 C355.2,426.6 351.7,428.7 348.0,429.5 C344.3,430.3 338.7,429.9 335.0,429.0 C331.3,428.1 328.0,426.2 326.0,424.0 C324.0,421.8 322.3,418.7 323.0,416.0 C323.7,413.3 327.2,410.7 330.0,408.0 C332.8,405.3 336.7,401.7 340.0,400.0Z" fill="url(#gg)"/><path d="M340.0,400.0 C343.3,398.3 347.3,397.3 350.0,398.0 C352.7,398.7 354.5,401.3 356.0,404.0 C357.5,406.7 358.8,410.7 359.0,414.0 C359.2,417.3 358.8,421.4 357.0,424.0 C355.2,426.6 351.7,428.7 348.0,429.5 C344.3,430.3 338.7,429.9 335.0,429.0 C331.3,428.1 328.0,426.2 326.0,424.0 C324.0,421.8 322.3,418.7 323.0,416.0 C323.7,413.3 327.2,410.7 330.0,408.0 C332.8,405.3 336.7,401.7 340.0,400.0Z" fill="none" stroke="#e82020" stroke-width="0.6" stroke-opacity="0.60"/><path d="M340.5,402.9 C343.1,401.6 346.3,400.8 348.5,401.3 C350.6,401.9 352.1,404.0 353.3,406.1 C354.5,408.3 355.5,411.5 355.7,414.1 C355.8,416.8 355.5,420.1 354.1,422.1 C352.6,424.2 349.8,425.9 346.9,426.5 C343.9,427.2 339.4,426.9 336.5,426.1 C333.5,425.4 330.9,423.9 329.3,422.1 C327.7,420.4 326.3,417.9 326.9,415.7 C327.4,413.6 330.2,411.5 332.5,409.3 C334.7,407.2 337.8,404.3 340.5,402.9Z" fill="none" stroke="#e82020" stroke-width="0.6" stroke-opacity="0.48"/><path d="M341.0,405.9 C343.0,404.9 345.4,404.3 347.0,404.7 C348.6,405.1 349.7,406.7 350.6,408.3 C351.5,409.9 352.3,412.3 352.4,414.3 C352.5,416.3 352.3,418.7 351.2,420.3 C350.1,421.8 348.0,423.1 345.8,423.6 C343.6,424.1 340.2,423.8 338.0,423.3 C335.8,422.7 333.8,421.6 332.6,420.3 C331.4,419.0 330.4,417.1 330.8,415.5 C331.2,413.9 333.3,412.3 335.0,410.7 C336.7,409.1 339.0,406.9 341.0,405.9Z" fill="none" stroke="#e82020" stroke-width="0.6" stroke-opacity="0.38"/><path d="M305.0,397.4 C305.0,400.0 304.7,402.7 304.2,405.1 C303.7,407.4 302.9,409.7 301.9,411.5 C301.0,413.3 299.8,414.9 298.5,415.9 C297.3,416.9 295.8,417.4 294.5,417.4 C293.2,417.4 291.7,416.9 290.5,415.9 C289.2,414.9 288.0,413.3 287.1,411.5 C286.1,409.7 285.3,407.4 284.8,405.1 C284.3,402.7 284.0,400.0 284.0,397.4 C284.0,394.8 284.3,392.1 284.8,389.7 C285.3,387.4 286.1,385.1 287.1,383.3 C288.0,381.5 289.2,379.9 290.5,378.9 C291.7,377.9 293.2,377.4 294.5,377.4 C295.8,377.4 297.3,377.9 298.5,378.9 C299.8,379.9 301.0,381.5 301.9,383.3 C302.9,385.1 303.7,387.4 304.2,389.7 C304.7,392.1 305.0,394.8 305.0,397.4Z" fill="#90a890" fill-opacity="0.25"/><path d="M305.0,397.4 C305.0,400.0 304.7,402.7 304.2,405.1 C303.7,407.4 302.9,409.7 301.9,411.5 C301.0,413.3 299.8,414.9 298.5,415.9 C297.3,416.9 295.8,417.4 294.5,417.4 C293.2,417.4 291.7,416.9 290.5,415.9 C289.2,414.9 288.0,413.3 287.1,411.5 C286.1,409.7 285.3,407.4 284.8,405.1 C284.3,402.7 284.0,400.0 284.0,397.4 C284.0,394.8 284.3,392.1 284.8,389.7 C285.3,387.4 286.1,385.1 287.1,383.3 C288.0,381.5 289.2,379.9 290.5,378.9 C291.7,377.9 293.2,377.4 294.5,377.4 C295.8,377.4 297.3,377.9 298.5,378.9 C299.8,379.9 301.0,381.5 301.9,383.3 C302.9,385.1 303.7,387.4 304.2,389.7 C304.7,392.1 305.0,394.8 305.0,397.4Z" fill="none" stroke="#4f7f4f" stroke-width="0.7" stroke-opacity="0.75"/><path d="M303.7,397.4 C303.7,399.6 303.4,402.0 303.0,404.1 C302.5,406.2 301.8,408.2 301.0,409.8 C300.2,411.4 299.1,412.7 298.0,413.6 C296.9,414.4 295.7,414.9 294.5,414.9 C293.3,414.9 292.1,414.4 291.0,413.6 C289.9,412.7 288.8,411.4 288.0,409.8 C287.2,408.2 286.5,406.2 286.0,404.1 C285.6,402.0 285.3,399.6 285.3,397.4 C285.3,395.2 285.6,392.8 286.0,390.7 C286.5,388.6 287.2,386.6 288.0,385.0 C288.8,383.4 289.9,382.1 291.0,381.2 C292.1,380.4 293.3,379.9 294.5,379.9 C295.7,379.9 296.9,380.4 298.0,381.2 C299.1,382.1 300.2,383.4 301.0,385.0 C301.8,386.6 302.5,388.6 303.0,390.7 C303.4,392.8 303.7,395.2 303.7,397.4Z" fill="none" stroke="#4f7f4f" stroke-width="0.7" stroke-opacity="0.68"/><path d="M302.4,397.4 C302.4,399.3 302.2,401.4 301.8,403.1 C301.4,404.9 300.8,406.7 300.1,408.0 C299.4,409.4 298.4,410.5 297.5,411.3 C296.6,412.0 295.5,412.4 294.5,412.4 C293.5,412.4 292.4,412.0 291.5,411.3 C290.6,410.5 289.6,409.4 288.9,408.0 C288.2,406.7 287.6,404.9 287.2,403.1 C286.8,401.4 286.6,399.3 286.6,397.4 C286.6,395.5 286.8,393.4 287.2,391.7 C287.6,389.9 288.2,388.1 288.9,386.8 C289.6,385.4 290.6,384.3 291.5,383.5 C292.4,382.8 293.5,382.4 294.5,382.4 C295.5,382.4 296.6,382.8 297.5,383.5 C298.4,384.3 299.4,385.4 300.1,386.8 C300.8,388.1 301.4,389.9 301.8,391.7 C302.2,393.4 302.4,395.5 302.4,397.4Z" fill="none" stroke="#4f7f4f" stroke-width="0.7" stroke-opacity="0.61"/><path d="M301.1,397.4 C301.1,399.0 300.9,400.7 300.6,402.2 C300.2,403.7 299.7,405.1 299.1,406.2 C298.5,407.4 297.8,408.3 297.0,408.9 C296.2,409.6 295.3,409.9 294.5,409.9 C293.7,409.9 292.8,409.6 292.0,408.9 C291.2,408.3 290.5,407.4 289.9,406.2 C289.3,405.1 288.8,403.7 288.4,402.2 C288.1,400.7 287.9,399.0 287.9,397.4 C287.9,395.8 288.1,394.1 288.4,392.6 C288.8,391.1 289.3,389.7 289.9,388.6 C290.5,387.4 291.2,386.5 292.0,385.9 C292.8,385.2 293.7,384.9 294.5,384.9 C295.3,384.9 296.2,385.2 297.0,385.9 C297.8,386.5 298.5,387.4 299.1,388.6 C299.7,389.7 300.2,391.1 300.6,392.6 C300.9,394.1 301.1,395.8 301.1,397.4Z" fill="none" stroke="#4f7f4f" stroke-width="0.7" stroke-opacity="0.55"/><path d="M299.8,397.4 C299.8,398.7 299.6,400.0 299.4,401.2 C299.1,402.4 298.7,403.6 298.2,404.5 C297.7,405.4 297.1,406.2 296.5,406.6 C295.9,407.1 295.2,407.4 294.5,407.4 C293.8,407.4 293.1,407.1 292.5,406.6 C291.9,406.2 291.3,405.4 290.8,404.5 C290.3,403.6 289.9,402.4 289.6,401.2 C289.4,400.0 289.2,398.7 289.2,397.4 C289.2,396.1 289.4,394.8 289.6,393.6 C289.9,392.4 290.3,391.2 290.8,390.3 C291.3,389.4 291.9,388.6 292.5,388.2 C293.1,387.7 293.8,387.4 294.5,387.4 C295.2,387.4 295.9,387.7 296.5,388.2 C297.1,388.6 297.7,389.4 298.2,390.3 C298.7,391.2 299.1,392.4 299.4,393.6 C299.6,394.8 299.8,396.1 299.8,397.4Z" fill="none" stroke="#4f7f4f" stroke-width="0.7" stroke-opacity="0.49"/><path d="M298.4,397.4 C298.4,398.4 298.3,399.4 298.1,400.3 C297.9,401.2 297.6,402.0 297.3,402.7 C296.9,403.4 296.5,404.0 296.0,404.3 C295.5,404.7 295.0,404.9 294.5,404.9 C294.0,404.9 293.5,404.7 293.0,404.3 C292.5,404.0 292.1,403.4 291.7,402.7 C291.4,402.0 291.1,401.2 290.9,400.3 C290.7,399.4 290.6,398.4 290.6,397.4 C290.6,396.4 290.7,395.4 290.9,394.5 C291.1,393.6 291.4,392.8 291.7,392.1 C292.1,391.4 292.5,390.8 293.0,390.5 C293.5,390.1 294.0,389.9 294.5,389.9 C295.0,389.9 295.5,390.1 296.0,390.5 C296.5,390.8 296.9,391.4 297.3,392.1 C297.6,392.8 297.9,393.6 298.1,394.5 C298.3,395.4 298.4,396.4 298.4,397.4Z" fill="none" stroke="#4f7f4f" stroke-width="0.7" stroke-opacity="0.44"/><path d="M297.1,397.4 C297.1,398.0 297.1,398.7 296.9,399.3 C296.8,399.9 296.6,400.5 296.4,400.9 C296.1,401.4 295.8,401.8 295.5,402.0 C295.2,402.3 294.8,402.4 294.5,402.4 C294.2,402.4 293.8,402.3 293.5,402.0 C293.2,401.8 292.9,401.4 292.6,400.9 C292.4,400.5 292.2,399.9 292.1,399.3 C291.9,398.7 291.9,398.0 291.9,397.4 C291.9,396.8 291.9,396.1 292.1,395.5 C292.2,394.9 292.4,394.3 292.6,393.9 C292.9,393.4 293.2,393.0 293.5,392.8 C293.8,392.5 294.2,392.4 294.5,392.4 C294.8,392.4 295.2,392.5 295.5,392.8 C295.8,393.0 296.1,393.4 296.4,393.9 C296.6,394.3 296.8,394.9 296.9,395.5 C297.1,396.1 297.1,396.8 297.1,397.4Z" fill="none" stroke="#4f7f4f" stroke-width="0.7" stroke-opacity="0.40"/><path d="M342.1,400.0 C342.1,402.6 341.6,405.4 340.7,407.8 C339.8,410.3 338.4,412.6 336.7,414.5 C335.0,416.3 332.9,417.9 330.7,418.9 C328.5,419.9 326.0,420.5 323.6,420.5 C321.2,420.5 318.7,419.9 316.5,418.9 C314.3,417.9 312.2,416.3 310.5,414.5 C308.8,412.6 307.4,410.3 306.5,407.8 C305.6,405.4 305.1,402.6 305.1,400.0 C305.1,397.4 305.6,394.6 306.5,392.2 C307.4,389.7 308.8,387.4 310.5,385.5 C312.2,383.7 314.3,382.1 316.5,381.1 C318.7,380.1 321.2,379.5 323.6,379.5 C326.0,379.5 328.5,380.1 330.7,381.1 C332.9,382.1 335.0,383.7 336.7,385.5 C338.4,387.4 339.8,389.7 340.7,392.2 C341.6,394.6 342.1,397.4 342.1,400.0Z" fill="#90a890" fill-opacity="0.25"/><path d="M342.1,400.0 C342.1,402.6 341.6,405.4 340.7,407.8 C339.8,410.3 338.4,412.6 336.7,414.5 C335.0,416.3 332.9,417.9 330.7,418.9 C328.5,419.9 326.0,420.5 323.6,420.5 C321.2,420.5 318.7,419.9 316.5,418.9 C314.3,417.9 312.2,416.3 310.5,414.5 C308.8,412.6 307.4,410.3 306.5,407.8 C305.6,405.4 305.1,402.6 305.1,400.0 C305.1,397.4 305.6,394.6 306.5,392.2 C307.4,389.7 308.8,387.4 310.5,385.5 C312.2,383.7 314.3,382.1 316.5,381.1 C318.7,380.1 321.2,379.5 323.6,379.5 C326.0,379.5 328.5,380.1 330.7,381.1 C332.9,382.1 335.0,383.7 336.7,385.5 C338.4,387.4 339.8,389.7 340.7,392.2 C341.6,394.6 342.1,397.4 342.1,400.0Z" fill="none" stroke="#4f7f4f" stroke-width="0.7" stroke-opacity="0.75"/><path d="M339.8,400.0 C339.8,402.3 339.3,404.8 338.6,406.9 C337.8,409.0 336.5,411.1 335.0,412.7 C333.6,414.3 331.7,415.7 329.8,416.6 C327.9,417.4 325.7,417.9 323.6,417.9 C321.5,417.9 319.3,417.4 317.4,416.6 C315.5,415.7 313.6,414.3 312.2,412.7 C310.7,411.1 309.4,409.0 308.6,406.9 C307.9,404.8 307.4,402.3 307.4,400.0 C307.4,397.7 307.9,395.2 308.6,393.1 C309.4,391.0 310.7,388.9 312.2,387.3 C313.6,385.7 315.5,384.3 317.4,383.4 C319.3,382.6 321.5,382.1 323.6,382.1 C325.7,382.1 327.9,382.6 329.8,383.4 C331.7,384.3 333.6,385.7 335.0,387.3 C336.5,388.9 337.8,391.0 338.6,393.1 C339.3,395.2 339.8,397.7 339.8,400.0Z" fill="none" stroke="#4f7f4f" stroke-width="0.7" stroke-opacity="0.68"/><path d="M337.5,400.0 C337.5,402.0 337.1,404.1 336.4,405.9 C335.7,407.7 334.7,409.5 333.4,410.9 C332.2,412.3 330.5,413.5 328.9,414.2 C327.3,415.0 325.4,415.4 323.6,415.4 C321.8,415.4 319.9,415.0 318.3,414.2 C316.7,413.5 315.0,412.3 313.8,410.9 C312.5,409.5 311.5,407.7 310.8,405.9 C310.1,404.1 309.7,402.0 309.7,400.0 C309.7,398.0 310.1,395.9 310.8,394.1 C311.5,392.3 312.5,390.5 313.8,389.1 C315.0,387.7 316.7,386.5 318.3,385.8 C319.9,385.0 321.8,384.6 323.6,384.6 C325.4,384.6 327.3,385.0 328.9,385.8 C330.5,386.5 332.2,387.7 333.4,389.1 C334.7,390.5 335.7,392.3 336.4,394.1 C337.1,395.9 337.5,398.0 337.5,400.0Z" fill="none" stroke="#4f7f4f" stroke-width="0.7" stroke-opacity="0.61"/><path d="M335.2,400.0 C335.2,401.6 334.8,403.4 334.3,404.9 C333.7,406.4 332.8,407.9 331.8,409.1 C330.7,410.2 329.4,411.2 328.0,411.8 C326.7,412.5 325.1,412.8 323.6,412.8 C322.1,412.8 320.5,412.5 319.2,411.8 C317.8,411.2 316.5,410.2 315.4,409.1 C314.4,407.9 313.5,406.4 312.9,404.9 C312.4,403.4 312.0,401.6 312.0,400.0 C312.0,398.4 312.4,396.6 312.9,395.1 C313.5,393.6 314.4,392.1 315.4,390.9 C316.5,389.8 317.8,388.8 319.2,388.2 C320.5,387.5 322.1,387.2 323.6,387.2 C325.1,387.2 326.7,387.5 328.0,388.2 C329.4,388.8 330.7,389.8 331.8,390.9 C332.8,392.1 333.7,393.6 334.3,395.1 C334.8,396.6 335.2,398.4 335.2,400.0Z" fill="none" stroke="#4f7f4f" stroke-width="0.7" stroke-opacity="0.55"/><path d="M332.9,400.0 C332.9,401.3 332.6,402.7 332.1,403.9 C331.7,405.1 331.0,406.3 330.1,407.2 C329.3,408.2 328.2,409.0 327.1,409.5 C326.0,410.0 324.8,410.2 323.6,410.2 C322.4,410.2 321.2,410.0 320.1,409.5 C319.0,409.0 317.9,408.2 317.1,407.2 C316.2,406.3 315.5,405.1 315.1,403.9 C314.6,402.7 314.4,401.3 314.4,400.0 C314.4,398.7 314.6,397.3 315.1,396.1 C315.5,394.9 316.2,393.7 317.1,392.8 C317.9,391.8 319.0,391.0 320.1,390.5 C321.2,390.0 322.4,389.8 323.6,389.8 C324.8,389.8 326.0,390.0 327.1,390.5 C328.2,391.0 329.3,391.8 330.1,392.8 C331.0,393.7 331.7,394.9 332.1,396.1 C332.6,397.3 332.9,398.7 332.9,400.0Z" fill="none" stroke="#4f7f4f" stroke-width="0.7" stroke-opacity="0.49"/><path d="M330.5,400.0 C330.5,401.0 330.3,402.0 330.0,402.9 C329.7,403.8 329.1,404.7 328.5,405.4 C327.9,406.1 327.1,406.7 326.3,407.1 C325.4,407.5 324.5,407.7 323.6,407.7 C322.7,407.7 321.8,407.5 320.9,407.1 C320.1,406.7 319.3,406.1 318.7,405.4 C318.1,404.7 317.5,403.8 317.2,402.9 C316.9,402.0 316.7,401.0 316.7,400.0 C316.7,399.0 316.9,398.0 317.2,397.1 C317.5,396.2 318.1,395.3 318.7,394.6 C319.3,393.9 320.1,393.3 320.9,392.9 C321.8,392.5 322.7,392.3 323.6,392.3 C324.5,392.3 325.4,392.5 326.3,392.9 C327.1,393.3 327.9,393.9 328.5,394.6 C329.1,395.3 329.7,396.2 330.0,397.1 C330.3,398.0 330.5,399.0 330.5,400.0Z" fill="none" stroke="#4f7f4f" stroke-width="0.7" stroke-opacity="0.44"/><path d="M328.2,400.0 C328.2,400.7 328.1,401.4 327.9,402.0 C327.6,402.6 327.3,403.2 326.9,403.6 C326.5,404.1 325.9,404.5 325.4,404.7 C324.8,405.0 324.2,405.1 323.6,405.1 C323.0,405.1 322.4,405.0 321.8,404.7 C321.3,404.5 320.7,404.1 320.3,403.6 C319.9,403.2 319.6,402.6 319.3,402.0 C319.1,401.4 319.0,400.7 319.0,400.0 C319.0,399.3 319.1,398.6 319.3,398.0 C319.6,397.4 319.9,396.8 320.3,396.4 C320.7,395.9 321.3,395.5 321.8,395.3 C322.4,395.0 323.0,394.9 323.6,394.9 C324.2,394.9 324.8,395.0 325.4,395.3 C325.9,395.5 326.5,395.9 326.9,396.4 C327.3,396.8 327.6,397.4 327.9,398.0 C328.1,398.6 328.2,399.3 328.2,400.0Z" fill="none" stroke="#4f7f4f" stroke-width="0.7" stroke-opacity="0.40"/><path d="M320.2,421.2 C320.2,422.0 320.0,422.9 319.6,423.7 C319.2,424.5 318.6,425.2 317.9,425.8 C317.1,426.4 316.2,426.9 315.3,427.2 C314.3,427.5 313.2,427.7 312.2,427.7 C311.2,427.7 310.1,427.5 309.1,427.2 C308.2,426.9 307.3,426.4 306.5,425.8 C305.8,425.2 305.2,424.5 304.8,423.7 C304.4,422.9 304.2,422.0 304.2,421.2 C304.2,420.4 304.4,419.5 304.8,418.7 C305.2,417.9 305.8,417.2 306.5,416.6 C307.3,416.0 308.2,415.5 309.1,415.2 C310.1,414.9 311.2,414.7 312.2,414.7 C313.2,414.7 314.3,414.9 315.3,415.2 C316.2,415.5 317.1,416.0 317.9,416.6 C318.6,417.2 319.2,417.9 319.6,418.7 C320.0,419.5 320.2,420.4 320.2,421.2Z" fill="#a0c0a0" fill-opacity="0.35"/><path d="M320.2,421.2 C320.2,422.0 320.0,422.9 319.6,423.7 C319.2,424.5 318.6,425.2 317.9,425.8 C317.1,426.4 316.2,426.9 315.3,427.2 C314.3,427.5 313.2,427.7 312.2,427.7 C311.2,427.7 310.1,427.5 309.1,427.2 C308.2,426.9 307.3,426.4 306.5,425.8 C305.8,425.2 305.2,424.5 304.8,423.7 C304.4,422.9 304.2,422.0 304.2,421.2 C304.2,420.4 304.4,419.5 304.8,418.7 C305.2,417.9 305.8,417.2 306.5,416.6 C307.3,416.0 308.2,415.5 309.1,415.2 C310.1,414.9 311.2,414.7 312.2,414.7 C313.2,414.7 314.3,414.9 315.3,415.2 C316.2,415.5 317.1,416.0 317.9,416.6 C318.6,417.2 319.2,417.9 319.6,418.7 C320.0,419.5 320.2,420.4 320.2,421.2Z" fill="none" stroke="#4f7f4f" stroke-width="0.6" stroke-opacity="0.50"/><path d="M314.2,421.2 C314.2,421.4 314.1,421.6 314.0,421.8 C314.0,422.0 313.8,422.2 313.6,422.3 C313.4,422.5 313.2,422.6 313.0,422.7 C312.7,422.8 312.5,422.8 312.2,422.8 C311.9,422.8 311.7,422.8 311.4,422.7 C311.2,422.6 311.0,422.5 310.8,422.3 C310.6,422.2 310.4,422.0 310.4,421.8 C310.3,421.6 310.2,421.4 310.2,421.2 C310.2,421.0 310.3,420.8 310.4,420.6 C310.4,420.4 310.6,420.2 310.8,420.1 C311.0,419.9 311.2,419.8 311.4,419.7 C311.7,419.6 311.9,419.6 312.2,419.6 C312.5,419.6 312.7,419.6 313.0,419.7 C313.2,419.8 313.4,419.9 313.6,420.1 C313.8,420.2 314.0,420.4 314.0,420.6 C314.1,420.8 314.2,421.0 314.2,421.2Z" fill="none" stroke="#4f7f4f" stroke-width="0.6" stroke-opacity="0.40"/><path d="M384.2,402.5 C384.2,403.1 384.1,403.8 384.0,404.3 C383.8,404.9 383.6,405.5 383.3,405.9 C383.0,406.3 382.6,406.7 382.2,406.9 C381.8,407.2 381.4,407.3 381.0,407.3 C380.6,407.3 380.2,407.2 379.8,406.9 C379.4,406.7 379.0,406.3 378.7,405.9 C378.4,405.5 378.2,404.9 378.0,404.3 C377.9,403.8 377.8,403.1 377.8,402.5 C377.8,401.9 377.9,401.2 378.0,400.7 C378.2,400.1 378.4,399.5 378.7,399.1 C379.0,398.7 379.4,398.3 379.8,398.1 C380.2,397.8 380.6,397.7 381.0,397.7 C381.4,397.7 381.8,397.8 382.2,398.1 C382.6,398.3 383.0,398.7 383.3,399.1 C383.6,399.5 383.8,400.1 384.0,400.7 C384.1,401.2 384.2,401.9 384.2,402.5Z" fill="none" stroke="#ff3030" stroke-width="0.7" stroke-opacity="0.60"/><path d="M381.8,402.5 C381.8,402.7 381.8,402.8 381.7,403.0 C381.7,403.1 381.6,403.2 381.6,403.3 C381.5,403.5 381.4,403.6 381.3,403.6 C381.2,403.7 381.1,403.7 381.0,403.7 C380.9,403.7 380.8,403.7 380.7,403.6 C380.6,403.6 380.5,403.5 380.4,403.3 C380.4,403.2 380.3,403.1 380.3,403.0 C380.2,402.8 380.2,402.7 380.2,402.5 C380.2,402.3 380.2,402.2 380.3,402.0 C380.3,401.9 380.4,401.8 380.4,401.7 C380.5,401.5 380.6,401.4 380.7,401.4 C380.8,401.3 380.9,401.3 381.0,401.3 C381.1,401.3 381.2,401.3 381.3,401.4 C381.4,401.4 381.5,401.5 381.6,401.7 C381.6,401.8 381.7,401.9 381.7,402.0 C381.8,402.2 381.8,402.3 381.8,402.5Z" fill="none" stroke="#ff3030" stroke-width="0.7" stroke-opacity="0.48"/><path d="M281.0,446.0 C282.3,443.2 286.8,442.0 290.0,441.5 C293.2,441.0 296.7,441.8 300.0,443.0 C303.3,444.2 306.7,448.3 310.0,449.0 C313.3,449.7 316.7,447.2 320.0,447.0 C323.3,446.8 326.7,446.7 330.0,447.5 C333.3,448.3 336.7,451.6 340.0,452.0 C343.3,452.4 347.0,450.5 350.0,450.0 C353.0,449.5 356.0,447.7 358.0,449.0 C360.0,450.3 361.1,454.2 362.0,458.0 C362.9,461.8 363.5,467.7 363.5,472.0 C363.5,476.3 363.4,481.2 362.0,484.0 C360.6,486.8 357.8,488.0 355.0,489.0 C352.2,490.0 347.8,489.5 345.0,490.0 C342.2,490.5 339.8,490.3 338.0,492.0 C336.2,493.7 334.8,496.7 334.0,500.0 C333.2,503.3 333.5,508.0 333.0,512.0 C332.5,516.0 332.2,521.8 331.0,524.0 C329.8,526.2 328.2,526.0 326.0,525.0 C323.8,524.0 320.7,520.8 318.0,518.0 C315.3,515.2 312.2,511.8 310.0,508.0 C307.8,504.2 306.2,498.8 305.0,495.0 C303.8,491.2 304.5,487.0 303.0,485.0 C301.5,483.0 298.5,483.8 296.0,483.0 C293.5,482.2 290.0,482.2 288.0,480.0 C286.0,477.8 285.0,473.7 284.0,470.0 C283.0,466.3 282.5,462.0 282.0,458.0 C281.5,454.0 279.7,448.8 281.0,446.0Z" fill="#ff9090" fill-opacity="0.16"/><path d="M281.0,446.0 C282.3,443.2 286.8,442.0 290.0,441.5 C293.2,441.0 296.7,441.8 300.0,443.0 C303.3,444.2 306.7,448.3 310.0,449.0 C313.3,449.7 316.7,447.2 320.0,447.0 C323.3,446.8 326.7,446.7 330.0,447.5 C333.3,448.3 336.7,451.6 340.0,452.0 C343.3,452.4 347.0,450.5 350.0,450.0 C353.0,449.5 356.0,447.7 358.0,449.0 C360.0,450.3 361.1,454.2 362.0,458.0 C362.9,461.8 363.5,467.7 363.5,472.0 C363.5,476.3 363.4,481.2 362.0,484.0 C360.6,486.8 357.8,488.0 355.0,489.0 C352.2,490.0 347.8,489.5 345.0,490.0 C342.2,490.5 339.8,490.3 338.0,492.0 C336.2,493.7 334.8,496.7 334.0,500.0 C333.2,503.3 333.5,508.0 333.0,512.0 C332.5,516.0 332.2,521.8 331.0,524.0 C329.8,526.2 328.2,526.0 326.0,525.0 C323.8,524.0 320.7,520.8 318.0,518.0 C315.3,515.2 312.2,511.8 310.0,508.0 C307.8,504.2 306.2,498.8 305.0,495.0 C303.8,491.2 304.5,487.0 303.0,485.0 C301.5,483.0 298.5,483.8 296.0,483.0 C293.5,482.2 290.0,482.2 288.0,480.0 C286.0,477.8 285.0,473.7 284.0,470.0 C283.0,466.3 282.5,462.0 282.0,458.0 C281.5,454.0 279.7,448.8 281.0,446.0Z" fill="none" stroke="#ff3030" stroke-width="0.6" stroke-opacity="0.55"/><path d="M285.1,448.4 C286.3,445.9 290.4,444.8 293.2,444.4 C296.0,443.9 299.2,444.6 302.2,445.7 C305.2,446.8 308.2,450.5 311.2,451.1 C314.2,451.7 317.2,449.5 320.2,449.3 C323.2,449.1 326.2,449.0 329.2,449.8 C332.2,450.5 335.2,453.4 338.2,453.8 C341.2,454.2 344.5,452.4 347.2,452.0 C349.9,451.6 352.6,449.9 354.4,451.1 C356.2,452.3 357.2,455.8 358.0,459.2 C358.8,462.6 359.4,467.9 359.4,471.8 C359.4,475.7 359.3,480.1 358.0,482.6 C356.7,485.2 354.2,486.2 351.7,487.1 C349.1,488.0 345.2,487.6 342.7,488.0 C340.1,488.4 338.0,488.3 336.4,489.8 C334.8,491.3 333.6,494.0 332.8,497.0 C332.1,500.0 332.3,504.2 331.9,507.8 C331.4,511.4 331.2,516.6 330.1,518.6 C329.1,520.6 327.6,520.4 325.6,519.5 C323.7,518.6 320.8,515.8 318.4,513.2 C316.0,510.7 313.1,507.6 311.2,504.2 C309.2,500.8 307.8,495.9 306.7,492.5 C305.6,489.1 306.2,485.3 304.9,483.5 C303.5,481.7 300.9,482.4 298.6,481.7 C296.4,480.9 293.2,480.9 291.4,479.0 C289.6,477.1 288.7,473.3 287.8,470.0 C286.9,466.7 286.4,462.8 286.0,459.2 C285.6,455.6 283.9,450.9 285.1,448.4Z" fill="none" stroke="#ff3030" stroke-width="0.6" stroke-opacity="0.47"/><path d="M289.2,450.8 C290.3,448.6 293.9,447.6 296.4,447.2 C298.9,446.8 301.7,447.4 304.4,448.4 C307.1,449.4 309.7,452.7 312.4,453.2 C315.1,453.7 317.7,451.8 320.4,451.6 C323.1,451.4 325.7,451.3 328.4,452.0 C331.1,452.7 333.7,455.3 336.4,455.6 C339.1,455.9 342.0,454.4 344.4,454.0 C346.8,453.6 349.2,452.1 350.8,453.2 C352.4,454.3 353.3,457.3 354.0,460.4 C354.7,463.5 355.2,468.1 355.2,471.6 C355.2,475.1 355.1,478.9 354.0,481.2 C352.9,483.5 350.7,484.4 348.4,485.2 C346.1,486.0 342.7,485.6 340.4,486.0 C338.1,486.4 336.3,486.3 334.8,487.6 C333.3,488.9 332.3,491.3 331.6,494.0 C330.9,496.7 331.2,500.4 330.8,503.6 C330.4,506.8 330.1,511.5 329.2,513.2 C328.3,514.9 326.9,514.8 325.2,514.0 C323.5,513.2 320.9,510.7 318.8,508.4 C316.7,506.1 314.1,503.5 312.4,500.4 C310.7,497.3 309.3,493.1 308.4,490.0 C307.5,486.9 308.0,483.6 306.8,482.0 C305.6,480.4 303.2,481.1 301.2,480.4 C299.2,479.7 296.4,479.7 294.8,478.0 C293.2,476.3 292.4,472.9 291.6,470.0 C290.8,467.1 290.4,463.6 290.0,460.4 C289.6,457.2 288.1,453.0 289.2,450.8Z" fill="none" stroke="#ff3030" stroke-width="0.6" stroke-opacity="0.40"/><path d="M293.3,453.2 C294.2,451.3 297.4,450.4 299.6,450.1 C301.8,449.7 304.3,450.2 306.6,451.1 C308.9,452.0 311.3,454.8 313.6,455.3 C315.9,455.8 318.3,454.1 320.6,453.9 C322.9,453.7 325.3,453.7 327.6,454.2 C329.9,454.8 332.3,457.1 334.6,457.4 C336.9,457.7 339.5,456.4 341.6,456.0 C343.7,455.6 345.8,454.4 347.2,455.3 C348.6,456.2 349.4,458.9 350.0,461.6 C350.6,464.3 351.1,468.4 351.1,471.4 C351.1,474.4 351.0,477.8 350.0,479.8 C349.0,481.8 347.1,482.6 345.1,483.3 C343.1,484.0 340.1,483.6 338.1,484.0 C336.1,484.4 334.5,484.2 333.2,485.4 C331.9,486.6 331.0,488.7 330.4,491.0 C329.8,493.3 330.0,496.6 329.7,499.4 C329.4,502.2 329.1,506.3 328.3,507.8 C327.5,509.3 326.3,509.2 324.8,508.5 C323.3,507.8 321.1,505.6 319.2,503.6 C317.3,501.6 315.1,499.3 313.6,496.6 C312.1,493.9 310.9,490.2 310.1,487.5 C309.3,484.8 309.8,481.9 308.7,480.5 C307.6,479.1 305.6,479.7 303.8,479.1 C302.1,478.5 299.6,478.5 298.2,477.0 C296.8,475.5 296.1,472.6 295.4,470.0 C294.7,467.4 294.4,464.4 294.0,461.6 C293.6,458.8 292.4,455.1 293.3,453.2Z" fill="none" stroke="#ff3030" stroke-width="0.6" stroke-opacity="0.34"/><path d="M282.0,418.0 C283.8,416.3 289.0,418.0 292.0,420.0 C295.0,422.0 298.3,426.3 300.0,430.0 C301.7,433.7 303.3,439.8 302.0,442.0 C300.7,444.2 295.0,443.3 292.0,443.0 C289.0,442.7 285.8,442.2 284.0,440.0 C282.2,437.8 281.3,433.7 281.0,430.0 C280.7,426.3 280.2,419.7 282.0,418.0Z" fill="#ff9090" fill-opacity="0.25" stroke="#ff3030" stroke-width="0.5" stroke-opacity="0.4"/><defs><linearGradient id="gj" x1="1" y1="0.3" x2="0" y2="0.7"><stop offset="0" stop-color="#ff2a2a" stop-opacity="0.8"/><stop offset="0.45" stop-color="#ff6060" stop-opacity="0.35"/><stop offset="1" stop-color="#ff9090" stop-opacity="0.15"/></linearGradient></defs><path d="M333.0,450.0 C335.5,449.0 341.2,452.0 345.0,452.0 C348.8,452.0 353.3,449.0 356.0,450.0 C358.7,451.0 359.8,454.3 361.0,458.0 C362.2,461.7 363.0,467.7 363.0,472.0 C363.0,476.3 362.8,481.2 361.0,484.0 C359.2,486.8 355.5,488.2 352.0,489.0 C348.5,489.8 343.5,489.8 340.0,489.0 C336.5,488.2 332.8,487.2 331.0,484.0 C329.2,480.8 329.2,474.3 329.0,470.0 C328.8,465.7 329.3,461.3 330.0,458.0 C330.7,454.7 330.5,451.0 333.0,450.0Z" fill="url(#gj)"/><path d="M333.0,450.0 C335.5,449.0 341.2,452.0 345.0,452.0 C348.8,452.0 353.3,449.0 356.0,450.0 C358.7,451.0 359.8,454.3 361.0,458.0 C362.2,461.7 363.0,467.7 363.0,472.0 C363.0,476.3 362.8,481.2 361.0,484.0 C359.2,486.8 355.5,488.2 352.0,489.0 C348.5,489.8 343.5,489.8 340.0,489.0 C336.5,488.2 332.8,487.2 331.0,484.0 C329.2,480.8 329.2,474.3 329.0,470.0 C328.8,465.7 329.3,461.3 330.0,458.0 C330.7,454.7 330.5,451.0 333.0,450.0Z" fill="none" stroke="#e83030" stroke-width="0.6" stroke-opacity="0.50"/><path d="M334.4,454.0 C336.4,453.2 340.9,455.6 344.0,455.6 C347.1,455.6 350.7,453.2 352.8,454.0 C354.9,454.8 355.9,457.5 356.8,460.4 C357.7,463.3 358.4,468.1 358.4,471.6 C358.4,475.1 358.3,478.9 356.8,481.2 C355.3,483.5 352.4,484.5 349.6,485.2 C346.8,485.9 342.8,485.9 340.0,485.2 C337.2,484.5 334.3,483.7 332.8,481.2 C331.3,478.7 331.3,473.5 331.2,470.0 C331.1,466.5 331.5,463.1 332.0,460.4 C332.5,457.7 332.4,454.8 334.4,454.0Z" fill="none" stroke="#e83030" stroke-width="0.6" stroke-opacity="0.40"/><path d="M335.8,458.0 C337.3,457.4 340.7,459.2 343.0,459.2 C345.3,459.2 348.0,457.4 349.6,458.0 C351.2,458.6 351.9,460.6 352.6,462.8 C353.3,465.0 353.8,468.6 353.8,471.2 C353.8,473.8 353.7,476.7 352.6,478.4 C351.5,480.1 349.3,480.9 347.2,481.4 C345.1,481.9 342.1,481.9 340.0,481.4 C337.9,480.9 335.7,480.3 334.6,478.4 C333.5,476.5 333.5,472.6 333.4,470.0 C333.3,467.4 333.6,464.8 334.0,462.8 C334.4,460.8 334.3,458.6 335.8,458.0Z" fill="none" stroke="#e83030" stroke-width="0.6" stroke-opacity="0.32"/><path d="M302.7,461.8 C302.7,464.3 302.4,467.0 302.0,469.3 C301.5,471.6 300.8,473.8 299.9,475.6 C299.1,477.3 298.0,478.9 296.8,479.8 C295.7,480.8 294.4,481.3 293.2,481.3 C292.0,481.3 290.7,480.8 289.6,479.8 C288.4,478.9 287.3,477.3 286.5,475.6 C285.6,473.8 284.9,471.6 284.4,469.3 C284.0,467.0 283.7,464.3 283.7,461.8 C283.7,459.3 284.0,456.6 284.4,454.3 C284.9,452.0 285.6,449.8 286.5,448.0 C287.3,446.3 288.4,444.7 289.6,443.8 C290.7,442.8 292.0,442.3 293.2,442.3 C294.4,442.3 295.7,442.8 296.8,443.8 C298.0,444.7 299.1,446.3 299.9,448.0 C300.8,449.8 301.5,452.0 302.0,454.3 C302.4,456.6 302.7,459.3 302.7,461.8Z" fill="#a0b8a0" fill-opacity="0.3"/><path d="M302.7,461.8 C302.7,464.3 302.4,467.0 302.0,469.3 C301.5,471.6 300.8,473.8 299.9,475.6 C299.1,477.3 298.0,478.9 296.8,479.8 C295.7,480.8 294.4,481.3 293.2,481.3 C292.0,481.3 290.7,480.8 289.6,479.8 C288.4,478.9 287.3,477.3 286.5,475.6 C285.6,473.8 284.9,471.6 284.4,469.3 C284.0,467.0 283.7,464.3 283.7,461.8 C283.7,459.3 284.0,456.6 284.4,454.3 C284.9,452.0 285.6,449.8 286.5,448.0 C287.3,446.3 288.4,444.7 289.6,443.8 C290.7,442.8 292.0,442.3 293.2,442.3 C294.4,442.3 295.7,442.8 296.8,443.8 C298.0,444.7 299.1,446.3 299.9,448.0 C300.8,449.8 301.5,452.0 302.0,454.3 C302.4,456.6 302.7,459.3 302.7,461.8Z" fill="none" stroke="#4f7f4f" stroke-width="0.7" stroke-opacity="0.70"/><path d="M300.8,461.8 C300.8,463.8 300.6,465.9 300.2,467.8 C299.9,469.6 299.3,471.4 298.6,472.8 C297.9,474.2 297.0,475.5 296.1,476.2 C295.2,477.0 294.2,477.4 293.2,477.4 C292.2,477.4 291.2,477.0 290.3,476.2 C289.4,475.5 288.5,474.2 287.8,472.8 C287.1,471.4 286.5,469.6 286.2,467.8 C285.8,465.9 285.6,463.8 285.6,461.8 C285.6,459.8 285.8,457.7 286.2,455.8 C286.5,454.0 287.1,452.2 287.8,450.8 C288.5,449.4 289.4,448.1 290.3,447.4 C291.2,446.6 292.2,446.2 293.2,446.2 C294.2,446.2 295.2,446.6 296.1,447.4 C297.0,448.1 297.9,449.4 298.6,450.8 C299.3,452.2 299.9,454.0 300.2,455.8 C300.6,457.7 300.8,459.8 300.8,461.8Z" fill="none" stroke="#4f7f4f" stroke-width="0.7" stroke-opacity="0.59"/><path d="M298.9,461.8 C298.9,463.3 298.7,464.9 298.5,466.3 C298.2,467.7 297.7,469.0 297.2,470.1 C296.7,471.1 296.1,472.0 295.4,472.6 C294.7,473.2 293.9,473.5 293.2,473.5 C292.5,473.5 291.7,473.2 291.0,472.6 C290.3,472.0 289.7,471.1 289.2,470.1 C288.7,469.0 288.2,467.7 287.9,466.3 C287.7,464.9 287.5,463.3 287.5,461.8 C287.5,460.3 287.7,458.7 287.9,457.3 C288.2,455.9 288.7,454.6 289.2,453.5 C289.7,452.5 290.3,451.6 291.0,451.0 C291.7,450.4 292.5,450.1 293.2,450.1 C293.9,450.1 294.7,450.4 295.4,451.0 C296.1,451.6 296.7,452.5 297.2,453.5 C297.7,454.6 298.2,455.9 298.5,457.3 C298.7,458.7 298.9,460.3 298.9,461.8Z" fill="none" stroke="#4f7f4f" stroke-width="0.7" stroke-opacity="0.51"/><path d="M297.0,461.8 C297.0,462.8 296.9,463.9 296.7,464.8 C296.5,465.7 296.2,466.6 295.9,467.3 C295.5,468.0 295.1,468.6 294.7,469.0 C294.2,469.4 293.7,469.6 293.2,469.6 C292.7,469.6 292.2,469.4 291.7,469.0 C291.3,468.6 290.9,468.0 290.5,467.3 C290.2,466.6 289.9,465.7 289.7,464.8 C289.5,463.9 289.4,462.8 289.4,461.8 C289.4,460.8 289.5,459.7 289.7,458.8 C289.9,457.9 290.2,457.0 290.5,456.3 C290.9,455.6 291.3,455.0 291.7,454.6 C292.2,454.2 292.7,454.0 293.2,454.0 C293.7,454.0 294.2,454.2 294.7,454.6 C295.1,455.0 295.5,455.6 295.9,456.3 C296.2,457.0 296.5,457.9 296.7,458.8 C296.9,459.7 297.0,460.8 297.0,461.8Z" fill="none" stroke="#4f7f4f" stroke-width="0.7" stroke-opacity="0.43"/><path d="M333.2,462.7 C333.2,464.3 333.0,466.0 332.6,467.5 C332.3,469.0 331.7,470.4 331.0,471.5 C330.3,472.7 329.5,473.6 328.6,474.2 C327.7,474.9 326.7,475.2 325.7,475.2 C324.7,475.2 323.7,474.9 322.8,474.2 C321.9,473.6 321.1,472.7 320.4,471.5 C319.7,470.4 319.1,469.0 318.8,467.5 C318.4,466.0 318.2,464.3 318.2,462.7 C318.2,461.1 318.4,459.4 318.8,457.9 C319.1,456.4 319.7,455.0 320.4,453.9 C321.1,452.7 321.9,451.8 322.8,451.2 C323.7,450.5 324.7,450.2 325.7,450.2 C326.7,450.2 327.7,450.5 328.6,451.2 C329.5,451.8 330.3,452.7 331.0,453.9 C331.7,455.0 332.3,456.4 332.6,457.9 C333.0,459.4 333.2,461.1 333.2,462.7Z" fill="none" stroke="#806050" stroke-width="0.7" stroke-opacity="0.75"/><path d="M331.4,462.7 C331.4,463.9 331.3,465.2 331.0,466.4 C330.7,467.5 330.3,468.6 329.8,469.5 C329.2,470.3 328.6,471.1 327.9,471.6 C327.2,472.0 326.4,472.3 325.7,472.3 C325.0,472.3 324.2,472.0 323.5,471.6 C322.8,471.1 322.2,470.3 321.6,469.5 C321.1,468.6 320.7,467.5 320.4,466.4 C320.1,465.2 319.9,463.9 319.9,462.7 C319.9,461.5 320.1,460.2 320.4,459.0 C320.7,457.9 321.1,456.8 321.6,455.9 C322.2,455.1 322.8,454.3 323.5,453.8 C324.2,453.4 325.0,453.1 325.7,453.1 C326.4,453.1 327.2,453.4 327.9,453.8 C328.6,454.3 329.2,455.1 329.8,455.9 C330.3,456.8 330.7,457.9 331.0,459.0 C331.3,460.2 331.4,461.5 331.4,462.7Z" fill="none" stroke="#806050" stroke-width="0.7" stroke-opacity="0.68"/><path d="M329.7,462.7 C329.7,463.6 329.6,464.5 329.4,465.3 C329.2,466.0 328.9,466.8 328.5,467.4 C328.2,468.0 327.7,468.5 327.2,468.9 C326.8,469.2 326.2,469.4 325.7,469.4 C325.2,469.4 324.6,469.2 324.2,468.9 C323.7,468.5 323.2,468.0 322.9,467.4 C322.5,466.8 322.2,466.0 322.0,465.3 C321.8,464.5 321.7,463.6 321.7,462.7 C321.7,461.8 321.8,460.9 322.0,460.1 C322.2,459.4 322.5,458.6 322.9,458.0 C323.2,457.4 323.7,456.9 324.2,456.5 C324.6,456.2 325.2,456.0 325.7,456.0 C326.2,456.0 326.8,456.2 327.2,456.5 C327.7,456.9 328.2,457.4 328.5,458.0 C328.9,458.6 329.2,459.4 329.4,460.1 C329.6,460.9 329.7,461.8 329.7,462.7Z" fill="none" stroke="#806050" stroke-width="0.7" stroke-opacity="0.61"/><path d="M327.9,462.7 C327.9,463.2 327.9,463.7 327.8,464.1 C327.7,464.6 327.5,465.0 327.3,465.4 C327.1,465.7 326.8,466.0 326.6,466.2 C326.3,466.3 326.0,466.4 325.7,466.4 C325.4,466.4 325.1,466.3 324.8,466.2 C324.6,466.0 324.3,465.7 324.1,465.4 C323.9,465.0 323.7,464.6 323.6,464.1 C323.5,463.7 323.4,463.2 323.4,462.7 C323.4,462.2 323.5,461.7 323.6,461.3 C323.7,460.8 323.9,460.4 324.1,460.0 C324.3,459.7 324.6,459.4 324.8,459.2 C325.1,459.1 325.4,458.9 325.7,458.9 C326.0,458.9 326.3,459.1 326.6,459.2 C326.8,459.4 327.1,459.7 327.3,460.0 C327.5,460.4 327.7,460.8 327.8,461.3 C327.9,461.7 327.9,462.2 327.9,462.7Z" fill="none" stroke="#806050" stroke-width="0.7" stroke-opacity="0.55"/><path d="M278.9,460.7 C278.8,461.7 278.4,462.8 278.1,463.8 C277.7,464.7 277.3,465.6 276.8,466.3 C276.3,466.9 275.7,467.5 275.2,467.8 C274.6,468.1 274.1,468.3 273.6,468.2 C273.1,468.1 272.6,467.8 272.2,467.3 C271.8,466.8 271.4,466.1 271.2,465.3 C271.0,464.5 270.8,463.5 270.8,462.5 C270.8,461.5 270.9,460.3 271.1,459.3 C271.2,458.3 271.6,457.2 271.9,456.2 C272.3,455.3 272.7,454.4 273.2,453.7 C273.7,453.1 274.3,452.5 274.8,452.2 C275.4,451.9 275.9,451.7 276.4,451.8 C276.9,451.9 277.4,452.2 277.8,452.7 C278.2,453.2 278.6,453.9 278.8,454.7 C279.0,455.5 279.2,456.5 279.2,457.5 C279.2,458.5 279.1,459.7 278.9,460.7Z" fill="none" stroke="#ff3030" stroke-width="0.6" stroke-opacity="0.50"/><path d="M276.0,460.2 C275.9,460.4 275.9,460.7 275.8,460.9 C275.7,461.2 275.6,461.4 275.4,461.6 C275.3,461.7 275.2,461.9 275.0,462.0 C274.9,462.0 274.8,462.1 274.6,462.0 C274.5,462.0 274.4,461.9 274.3,461.8 C274.2,461.7 274.1,461.5 274.0,461.3 C274.0,461.1 274.0,460.9 274.0,460.6 C273.9,460.4 274.0,460.1 274.0,459.8 C274.1,459.6 274.1,459.3 274.2,459.1 C274.3,458.8 274.4,458.6 274.6,458.4 C274.7,458.3 274.8,458.1 275.0,458.0 C275.1,458.0 275.2,457.9 275.4,458.0 C275.5,458.0 275.6,458.1 275.7,458.2 C275.8,458.3 275.9,458.5 276.0,458.7 C276.0,458.9 276.0,459.1 276.0,459.4 C276.1,459.6 276.0,459.9 276.0,460.2Z" fill="none" stroke="#ff3030" stroke-width="0.6" stroke-opacity="0.40"/><path d="M320.2,576.8 C319.9,577.9 319.5,579.0 319.0,580.0 C318.5,581.0 317.9,581.9 317.3,582.6 C316.7,583.2 316.0,583.8 315.4,584.1 C314.8,584.4 314.1,584.4 313.6,584.3 C313.0,584.1 312.5,583.7 312.1,583.2 C311.7,582.6 311.4,581.8 311.2,580.9 C311.0,580.0 310.9,578.9 311.0,577.9 C311.1,576.8 311.3,575.5 311.6,574.4 C311.9,573.3 312.3,572.2 312.8,571.2 C313.3,570.2 313.9,569.3 314.5,568.6 C315.1,568.0 315.8,567.4 316.4,567.1 C317.0,566.8 317.7,566.8 318.2,566.9 C318.8,567.1 319.3,567.5 319.7,568.0 C320.1,568.6 320.4,569.4 320.6,570.3 C320.8,571.2 320.9,572.3 320.8,573.3 C320.7,574.4 320.5,575.7 320.2,576.8Z" fill="none" stroke="#ff3030" stroke-width="0.7" stroke-opacity="0.60"/><path d="M317.0,575.9 C316.9,576.2 316.8,576.5 316.7,576.7 C316.6,576.9 316.4,577.2 316.3,577.3 C316.1,577.5 315.9,577.6 315.8,577.7 C315.6,577.8 315.5,577.8 315.3,577.8 C315.2,577.7 315.0,577.6 314.9,577.5 C314.8,577.4 314.8,577.2 314.7,576.9 C314.7,576.7 314.7,576.4 314.7,576.2 C314.7,575.9 314.7,575.6 314.8,575.3 C314.9,575.0 315.0,574.7 315.1,574.5 C315.2,574.3 315.4,574.0 315.5,573.9 C315.7,573.7 315.9,573.6 316.0,573.5 C316.2,573.4 316.3,573.4 316.5,573.4 C316.6,573.5 316.8,573.6 316.9,573.7 C317.0,573.8 317.0,574.0 317.1,574.3 C317.1,574.5 317.1,574.8 317.1,575.0 C317.1,575.3 317.1,575.6 317.0,575.9Z" fill="none" stroke="#ff3030" stroke-width="0.7" stroke-opacity="0.48"/><path d="M332.9,584.5 C333.3,581.4 334.0,577.9 335.4,576.0 C336.8,574.1 339.4,573.0 341.4,573.0 C343.4,573.0 345.6,574.6 347.3,576.0 C349.0,577.4 349.8,580.0 351.5,581.1 C353.2,582.2 355.9,581.7 357.5,582.8 C359.1,583.9 360.8,585.9 361.4,587.9 C361.9,589.9 361.7,592.4 360.8,594.7 C359.9,597.0 357.1,599.0 355.8,601.5 C354.5,604.0 353.9,606.6 353.2,610.0 C352.5,613.4 352.4,619.1 351.5,621.8 C350.6,624.5 348.9,626.0 347.8,626.0 C346.7,626.0 345.6,624.2 344.7,621.8 C343.8,619.4 343.6,614.7 342.2,611.6 C340.8,608.5 337.9,606.0 336.3,603.2 C334.8,600.4 333.5,597.8 332.9,594.7 C332.3,591.6 332.5,587.6 332.9,584.5Z" fill="#ff6060" fill-opacity="0.5"/><path d="M332.9,584.5 C333.3,581.4 334.0,577.9 335.4,576.0 C336.8,574.1 339.4,573.0 341.4,573.0 C343.4,573.0 345.6,574.6 347.3,576.0 C349.0,577.4 349.8,580.0 351.5,581.1 C353.2,582.2 355.9,581.7 357.5,582.8 C359.1,583.9 360.8,585.9 361.4,587.9 C361.9,589.9 361.7,592.4 360.8,594.7 C359.9,597.0 357.1,599.0 355.8,601.5 C354.5,604.0 353.9,606.6 353.2,610.0 C352.5,613.4 352.4,619.1 351.5,621.8 C350.6,624.5 348.9,626.0 347.8,626.0 C346.7,626.0 345.6,624.2 344.7,621.8 C343.8,619.4 343.6,614.7 342.2,611.6 C340.8,608.5 337.9,606.0 336.3,603.2 C334.8,600.4 333.5,597.8 332.9,594.7 C332.3,591.6 332.5,587.6 332.9,584.5Z" fill="none" stroke="#f03030" stroke-width="0.7" stroke-opacity="0.70"/><path d="M335.3,585.6 C335.7,583.1 336.2,580.3 337.3,578.8 C338.5,577.3 340.5,576.4 342.1,576.4 C343.7,576.4 345.5,577.7 346.8,578.8 C348.2,579.9 348.8,582.0 350.2,582.9 C351.6,583.8 353.7,583.3 355.0,584.2 C356.3,585.1 357.7,586.7 358.1,588.3 C358.6,589.9 358.4,591.9 357.6,593.8 C356.9,595.6 354.7,597.2 353.6,599.2 C352.6,601.2 352.1,603.3 351.6,606.0 C351.0,608.7 350.9,613.3 350.2,615.4 C349.5,617.6 348.1,618.8 347.2,618.8 C346.3,618.8 345.5,617.4 344.8,615.4 C344.0,613.5 343.9,609.8 342.8,607.3 C341.6,604.8 339.3,602.8 338.0,600.6 C336.8,598.3 335.8,596.3 335.3,593.8 C334.9,591.3 335.0,588.1 335.3,585.6Z" fill="none" stroke="#f03030" stroke-width="0.7" stroke-opacity="0.56"/><path d="M337.7,586.7 C338.0,584.8 338.4,582.8 339.2,581.6 C340.1,580.5 341.6,579.8 342.8,579.8 C344.0,579.8 345.4,580.8 346.4,581.6 C347.4,582.4 347.9,584.0 348.9,584.7 C349.9,585.3 351.5,585.0 352.5,585.7 C353.5,586.4 354.5,587.5 354.8,588.7 C355.2,589.9 355.0,591.5 354.5,592.8 C353.9,594.2 352.2,595.4 351.5,596.9 C350.7,598.4 350.4,600.0 349.9,602.0 C349.5,604.0 349.4,607.5 348.9,609.1 C348.4,610.7 347.4,611.6 346.7,611.6 C346.0,611.6 345.4,610.5 344.8,609.1 C344.3,607.6 344.2,604.8 343.3,603.0 C342.5,601.1 340.7,599.6 339.8,597.9 C338.9,596.2 338.1,594.7 337.7,592.8 C337.4,591.0 337.5,588.6 337.7,586.7Z" fill="none" stroke="#f03030" stroke-width="0.7" stroke-opacity="0.45"/><path d="M340.2,587.8 C340.3,586.6 340.6,585.2 341.2,584.4 C341.7,583.6 342.8,583.2 343.6,583.2 C344.4,583.2 345.2,583.9 345.9,584.4 C346.6,584.9 346.9,586.0 347.6,586.4 C348.3,586.9 349.3,586.7 350.0,587.1 C350.7,587.6 351.3,588.4 351.6,589.2 C351.8,590.0 351.7,591.0 351.3,591.9 C350.9,592.8 349.8,593.6 349.3,594.6 C348.8,595.6 348.6,596.6 348.3,598.0 C348.0,599.4 348.0,601.7 347.6,602.7 C347.2,603.8 346.6,604.4 346.1,604.4 C345.7,604.4 345.3,603.7 344.9,602.7 C344.5,601.8 344.4,599.9 343.9,598.6 C343.3,597.4 342.1,596.4 341.5,595.3 C340.9,594.2 340.4,593.1 340.2,591.9 C339.9,590.6 340.0,589.0 340.2,587.8Z" fill="none" stroke="#f03030" stroke-width="0.7" stroke-opacity="0.36"/><path d="M300.7,820.3 C298.3,823.9 304.7,828.8 305.8,833.9 C306.9,839.0 307.2,845.1 307.5,850.8 C307.8,856.4 306.9,862.1 307.5,867.8 C308.1,873.4 309.4,880.2 310.8,884.7 C312.2,889.2 314.8,890.9 315.9,894.9 C317.0,898.9 317.6,904.5 317.6,908.5 C317.6,912.5 315.3,916.1 315.9,918.6 C316.5,921.1 319.6,923.7 321.0,923.7 C322.4,923.7 323.5,922.3 324.4,918.6 C325.2,914.9 325.5,907.4 326.1,901.7 C326.7,896.1 327.2,889.8 327.8,884.7 C328.4,879.6 329.5,875.7 329.5,871.2 C329.5,866.7 326.7,860.4 327.8,857.6 C328.9,854.8 334.3,855.1 336.3,854.2 C338.3,853.4 340.6,853.3 339.7,852.5 C338.8,851.7 333.8,850.0 331.2,849.2 C328.6,848.4 326.4,849.2 324.4,847.5 C322.4,845.8 319.9,842.7 319.3,839.0 C318.7,835.3 319.6,829.1 321.0,825.4 C322.4,821.7 325.5,819.7 327.8,816.9 C330.1,814.1 335.9,809.3 334.6,808.5 C333.3,807.7 325.6,810.0 320.0,812.0 C314.4,814.0 303.1,816.6 300.7,820.3Z" fill="#ff9090" fill-opacity="0.22"/><path d="M300.7,820.3 C298.3,823.9 304.7,828.8 305.8,833.9 C306.9,839.0 307.2,845.1 307.5,850.8 C307.8,856.4 306.9,862.1 307.5,867.8 C308.1,873.4 309.4,880.2 310.8,884.7 C312.2,889.2 314.8,890.9 315.9,894.9 C317.0,898.9 317.6,904.5 317.6,908.5 C317.6,912.5 315.3,916.1 315.9,918.6 C316.5,921.1 319.6,923.7 321.0,923.7 C322.4,923.7 323.5,922.3 324.4,918.6 C325.2,914.9 325.5,907.4 326.1,901.7 C326.7,896.1 327.2,889.8 327.8,884.7 C328.4,879.6 329.5,875.7 329.5,871.2 C329.5,866.7 326.7,860.4 327.8,857.6 C328.9,854.8 334.3,855.1 336.3,854.2 C338.3,853.4 340.6,853.3 339.7,852.5 C338.8,851.7 333.8,850.0 331.2,849.2 C328.6,848.4 326.4,849.2 324.4,847.5 C322.4,845.8 319.9,842.7 319.3,839.0 C318.7,835.3 319.6,829.1 321.0,825.4 C322.4,821.7 325.5,819.7 327.8,816.9 C330.1,814.1 335.9,809.3 334.6,808.5 C333.3,807.7 325.6,810.0 320.0,812.0 C314.4,814.0 303.1,816.6 300.7,820.3Z" fill="none" stroke="#ff3030" stroke-width="0.6" stroke-opacity="0.60"/><path d="M304.2,828.2 C302.3,831.2 307.3,835.1 308.2,839.1 C309.1,843.2 309.4,848.1 309.6,852.6 C309.8,857.2 309.2,861.7 309.6,866.2 C310.0,870.8 311.1,876.1 312.2,879.8 C313.4,883.4 315.4,884.7 316.3,887.9 C317.2,891.1 317.7,895.6 317.7,898.8 C317.7,902.0 315.9,904.9 316.3,906.9 C316.8,908.9 319.3,911.0 320.4,911.0 C321.5,911.0 322.4,909.8 323.1,906.9 C323.8,903.9 324.0,897.9 324.5,893.4 C324.9,888.8 325.4,883.8 325.8,879.8 C326.3,875.7 327.2,872.6 327.2,869.0 C327.2,865.3 324.9,860.3 325.8,858.1 C326.7,855.8 331.1,856.0 332.6,855.4 C334.2,854.7 336.0,854.7 335.4,854.0 C334.7,853.3 330.6,852.0 328.6,851.4 C326.5,850.7 324.7,851.4 323.1,850.0 C321.5,848.6 319.5,846.1 319.0,843.2 C318.6,840.3 319.3,835.3 320.4,832.3 C321.5,829.4 324.0,827.8 325.8,825.5 C327.7,823.3 332.3,819.5 331.3,818.8 C330.2,818.1 324.1,820.0 319.6,821.6 C315.1,823.2 306.1,825.3 304.2,828.2Z" fill="none" stroke="#ff3030" stroke-width="0.6" stroke-opacity="0.48"/><path d="M307.6,836.2 C306.2,838.4 310.0,841.3 310.7,844.3 C311.4,847.4 311.5,851.1 311.7,854.5 C311.9,857.9 311.4,861.3 311.7,864.7 C312.0,868.1 312.8,872.1 313.7,874.8 C314.5,877.5 316.1,878.6 316.7,880.9 C317.4,883.3 317.8,886.7 317.8,889.1 C317.8,891.5 316.4,893.6 316.7,895.2 C317.1,896.7 319.0,898.2 319.8,898.2 C320.6,898.2 321.3,897.4 321.8,895.2 C322.3,893.0 322.5,888.4 322.9,885.0 C323.2,881.6 323.5,877.9 323.9,874.8 C324.2,871.8 324.9,869.4 324.9,866.7 C324.9,864.0 323.2,860.3 323.9,858.6 C324.6,856.9 327.8,857.0 329.0,856.5 C330.2,856.0 331.5,856.0 331.0,855.5 C330.5,855.0 327.5,854.0 325.9,853.5 C324.4,853.0 323.0,853.5 321.8,852.5 C320.6,851.5 319.1,849.6 318.8,847.4 C318.4,845.2 319.0,841.5 319.8,839.2 C320.6,837.0 322.5,835.8 323.9,834.1 C325.2,832.5 328.7,829.6 328.0,829.1 C327.2,828.6 322.6,830.0 319.2,831.2 C315.8,832.4 309.0,834.0 307.6,836.2Z" fill="none" stroke="#ff3030" stroke-width="0.6" stroke-opacity="0.38"/><path d="M310.8,713.6 C313.6,712.9 320.4,714.7 324.4,716.1 C328.4,717.5 331.8,719.6 334.6,722.0 C337.4,724.4 339.7,727.7 341.4,730.5 C343.1,733.3 342.9,737.0 344.7,739.0 C346.5,741.0 350.7,741.0 352.4,742.4 C354.1,743.8 355.6,745.0 354.9,747.5 C354.2,750.0 350.1,754.2 348.1,757.6 C346.1,761.0 344.2,764.4 343.1,767.8 C342.0,771.2 341.8,773.5 341.4,778.0 C341.0,782.5 341.2,789.8 340.5,794.9 C339.8,800.0 339.2,804.5 337.1,808.5 C335.0,812.5 331.3,816.6 327.8,818.6 C324.3,820.6 320.7,820.3 315.9,820.3 C311.1,820.3 304.1,820.0 299.0,818.6 C293.9,817.2 289.6,814.7 285.4,811.9 C281.2,809.1 277.0,805.7 273.6,801.7 C270.2,797.7 266.7,792.3 265.1,788.1 C263.5,783.9 263.4,779.7 264.2,776.3 C265.0,772.9 268.1,771.5 270.2,767.8 C272.3,764.1 274.4,757.9 276.9,754.2 C279.4,750.5 281.7,748.3 285.4,745.8 C289.1,743.3 295.6,741.3 299.0,739.0 C302.4,736.7 304.4,735.3 305.8,732.2 C307.2,729.1 306.7,723.4 307.5,720.3 C308.3,717.2 308.0,714.3 310.8,713.6Z" fill="#ff7070" fill-opacity="0.4"/><path d="M310.8,713.6 C313.6,712.9 320.4,714.7 324.4,716.1 C328.4,717.5 331.8,719.6 334.6,722.0 C337.4,724.4 339.7,727.7 341.4,730.5 C343.1,733.3 342.9,737.0 344.7,739.0 C346.5,741.0 350.7,741.0 352.4,742.4 C354.1,743.8 355.6,745.0 354.9,747.5 C354.2,750.0 350.1,754.2 348.1,757.6 C346.1,761.0 344.2,764.4 343.1,767.8 C342.0,771.2 341.8,773.5 341.4,778.0 C341.0,782.5 341.2,789.8 340.5,794.9 C339.8,800.0 339.2,804.5 337.1,808.5 C335.0,812.5 331.3,816.6 327.8,818.6 C324.3,820.6 320.7,820.3 315.9,820.3 C311.1,820.3 304.1,820.0 299.0,818.6 C293.9,817.2 289.6,814.7 285.4,811.9 C281.2,809.1 277.0,805.7 273.6,801.7 C270.2,797.7 266.7,792.3 265.1,788.1 C263.5,783.9 263.4,779.7 264.2,776.3 C265.0,772.9 268.1,771.5 270.2,767.8 C272.3,764.1 274.4,757.9 276.9,754.2 C279.4,750.5 281.7,748.3 285.4,745.8 C289.1,743.3 295.6,741.3 299.0,739.0 C302.4,736.7 304.4,735.3 305.8,732.2 C307.2,729.1 306.7,723.4 307.5,720.3 C308.3,717.2 308.0,714.3 310.8,713.6Z" fill="none" stroke="#f03030" stroke-width="0.7" stroke-opacity="0.70"/><path d="M310.7,719.2 C313.3,718.6 319.4,720.2 323.0,721.5 C326.5,722.8 329.6,724.6 332.1,726.8 C334.7,729.0 336.7,731.9 338.3,734.5 C339.8,737.0 339.6,740.3 341.2,742.1 C342.9,743.9 346.6,743.9 348.2,745.2 C349.7,746.4 351.1,747.5 350.4,749.8 C349.8,752.0 346.1,755.8 344.3,758.8 C342.5,761.9 340.8,765.0 339.8,768.0 C338.8,771.1 338.6,773.1 338.3,777.2 C337.9,781.3 338.1,787.8 337.4,792.4 C336.8,797.0 336.3,801.1 334.4,804.6 C332.5,808.2 329.2,812.0 326.0,813.7 C322.8,815.5 319.6,815.3 315.3,815.3 C311.0,815.3 304.7,815.0 300.1,813.7 C295.5,812.5 291.7,810.2 287.9,807.7 C284.0,805.2 280.3,802.1 277.2,798.5 C274.2,795.0 271.0,790.1 269.6,786.3 C268.2,782.5 268.0,778.7 268.8,775.7 C269.5,772.6 272.3,771.3 274.2,768.0 C276.1,764.7 277.9,759.1 280.2,755.8 C282.5,752.5 284.5,750.5 287.9,748.2 C291.2,745.9 297.0,744.1 300.1,742.1 C303.2,740.1 304.9,738.8 306.2,736.0 C307.5,733.2 307.0,728.1 307.8,725.3 C308.5,722.5 308.2,719.9 310.7,719.2Z" fill="none" stroke="#f03030" stroke-width="0.7" stroke-opacity="0.56"/><path d="M310.6,724.9 C312.9,724.3 318.3,725.8 321.5,726.9 C324.7,728.0 327.4,729.7 329.7,731.6 C331.9,733.5 333.8,736.1 335.1,738.4 C336.5,740.7 336.3,743.6 337.8,745.2 C339.2,746.8 342.6,746.8 343.9,747.9 C345.3,749.1 346.5,750.0 345.9,752.0 C345.3,754.0 342.1,757.4 340.5,760.1 C338.9,762.8 337.4,765.5 336.5,768.2 C335.6,771.0 335.5,772.8 335.1,776.4 C334.8,780.0 335.0,785.9 334.4,789.9 C333.8,794.0 333.4,797.6 331.7,800.8 C330.0,804.0 327.1,807.3 324.2,808.9 C321.4,810.5 318.6,810.2 314.7,810.2 C310.9,810.2 305.3,810.0 301.2,808.9 C297.1,807.8 293.7,805.8 290.3,803.5 C286.9,801.3 283.6,798.5 280.9,795.4 C278.2,792.2 275.3,787.9 274.1,784.5 C272.8,781.1 272.7,777.7 273.4,775.0 C274.0,772.3 276.5,771.2 278.2,768.2 C279.9,765.3 281.5,760.3 283.5,757.4 C285.5,754.4 287.4,752.7 290.3,750.6 C293.3,748.6 298.5,747.0 301.2,745.2 C303.9,743.4 305.5,742.3 306.6,739.8 C307.8,737.3 307.3,732.7 308.0,730.2 C308.7,727.8 308.4,725.4 310.6,724.9Z" fill="none" stroke="#f03030" stroke-width="0.7" stroke-opacity="0.45"/><path d="M310.6,730.5 C312.5,730.0 317.3,731.3 320.1,732.3 C322.9,733.2 325.2,734.7 327.2,736.4 C329.2,738.1 330.8,740.4 332.0,742.4 C333.2,744.3 333.0,746.9 334.3,748.3 C335.6,749.7 338.5,749.7 339.7,750.7 C340.9,751.7 341.9,752.5 341.4,754.2 C340.9,756.0 338.0,759.0 336.7,761.3 C335.3,763.7 334.0,766.1 333.2,768.5 C332.4,770.8 332.3,772.4 332.0,775.6 C331.7,778.8 331.9,783.9 331.4,787.4 C330.8,791.0 330.5,794.2 329.0,797.0 C327.5,799.7 324.9,802.6 322.5,804.0 C320.0,805.4 317.5,805.2 314.1,805.2 C310.8,805.2 305.9,805.0 302.3,804.0 C298.7,803.0 295.7,801.3 292.8,799.3 C289.8,797.4 286.9,795.0 284.5,792.2 C282.2,789.4 279.7,785.6 278.6,782.7 C277.5,779.7 277.3,776.8 277.9,774.4 C278.5,772.0 280.7,771.0 282.1,768.5 C283.6,765.9 285.1,761.5 286.8,758.9 C288.6,756.4 290.2,754.8 292.8,753.1 C295.4,751.3 299.9,749.9 302.3,748.3 C304.7,746.7 306.1,745.7 307.1,743.5 C308.1,741.4 307.7,737.4 308.2,735.2 C308.8,733.0 308.6,731.0 310.6,730.5Z" fill="none" stroke="#f03030" stroke-width="0.7" stroke-opacity="0.36"/><path d="M310.5,736.2 C312.2,735.7 316.3,736.8 318.6,737.7 C321.0,738.5 323.1,739.8 324.8,741.2 C326.5,742.6 327.8,744.6 328.8,746.3 C329.8,748.0 329.7,750.2 330.8,751.4 C331.9,752.6 334.4,752.6 335.4,753.4 C336.5,754.3 337.4,755.0 336.9,756.5 C336.5,758.0 334.0,760.5 332.9,762.6 C331.7,764.6 330.5,766.6 329.9,768.7 C329.2,770.7 329.1,772.1 328.8,774.8 C328.6,777.5 328.7,781.9 328.3,784.9 C327.9,788.0 327.5,790.7 326.3,793.1 C325.0,795.5 322.8,798.0 320.7,799.2 C318.6,800.3 316.4,800.2 313.5,800.2 C310.7,800.2 306.4,800.0 303.4,799.2 C300.3,798.3 297.8,796.8 295.2,795.1 C292.7,793.5 290.2,791.4 288.2,789.0 C286.1,786.6 284.0,783.4 283.1,780.9 C282.1,778.3 282.0,775.8 282.5,773.8 C283.0,771.8 284.9,770.9 286.1,768.7 C287.4,766.5 288.6,762.7 290.1,760.5 C291.7,758.3 293.0,757.0 295.2,755.5 C297.4,754.0 301.4,752.8 303.4,751.4 C305.4,750.0 306.6,749.2 307.5,747.3 C308.3,745.5 308.0,742.0 308.5,740.2 C309.0,738.3 308.8,736.6 310.5,736.2Z" fill="none" stroke="#f03030" stroke-width="0.7" stroke-opacity="0.29"/><defs><linearGradient id="gq" x1="0" y1="1" x2="1" y2="0"><stop offset="0" stop-color="#3c6a3c" stop-opacity="0.95"/><stop offset="0.3" stop-color="#6f946f" stop-opacity="0.75"/><stop offset="0.6" stop-color="#b8c8b0" stop-opacity="0.6"/><stop offset="1" stop-color="#e0d8d0" stop-opacity="0.5"/></linearGradient></defs><path d="M282.0,754.2 C285.4,751.7 289.6,750.6 293.9,749.2 C298.1,747.8 303.0,746.9 307.5,745.8 C312.0,744.7 316.2,743.5 321.0,742.4 C325.8,741.3 331.8,739.3 336.3,739.0 C340.8,738.7 345.1,739.6 348.1,740.7 C351.1,741.8 353.8,743.3 354.1,745.8 C354.4,748.3 351.9,752.2 349.8,755.9 C347.7,759.6 343.9,763.8 341.4,767.8 C338.9,771.8 336.9,776.0 334.6,779.7 C332.3,783.4 330.6,787.3 327.8,789.8 C325.0,792.3 319.9,791.8 317.6,794.9 C315.3,798.0 316.4,804.8 314.2,808.5 C311.9,812.2 307.5,815.5 304.1,816.9 C300.7,818.3 297.0,818.3 293.9,816.9 C290.8,815.5 288.5,812.2 285.4,808.5 C282.3,804.8 277.8,800.0 275.3,794.9 C272.8,789.8 270.5,783.1 270.2,778.0 C269.9,772.9 271.6,768.4 273.6,764.4 C275.6,760.4 278.6,756.7 282.0,754.2Z" fill="url(#gq)"/><path d="M282.0,754.2 C285.4,751.7 289.6,750.6 293.9,749.2 C298.1,747.8 303.0,746.9 307.5,745.8 C312.0,744.7 316.2,743.5 321.0,742.4 C325.8,741.3 331.8,739.3 336.3,739.0 C340.8,738.7 345.1,739.6 348.1,740.7 C351.1,741.8 353.8,743.3 354.1,745.8 C354.4,748.3 351.9,752.2 349.8,755.9 C347.7,759.6 343.9,763.8 341.4,767.8 C338.9,771.8 336.9,776.0 334.6,779.7 C332.3,783.4 330.6,787.3 327.8,789.8 C325.0,792.3 319.9,791.8 317.6,794.9 C315.3,798.0 316.4,804.8 314.2,808.5 C311.9,812.2 307.5,815.5 304.1,816.9 C300.7,818.3 297.0,818.3 293.9,816.9 C290.8,815.5 288.5,812.2 285.4,808.5 C282.3,804.8 277.8,800.0 275.3,794.9 C272.8,789.8 270.5,783.1 270.2,778.0 C269.9,772.9 271.6,768.4 273.6,764.4 C275.6,760.4 278.6,756.7 282.0,754.2Z" fill="none" stroke="#3f6f3f" stroke-width="0.7" stroke-opacity="0.80"/><path d="M286.5,756.2 C289.5,754.0 293.2,753.0 296.9,751.8 C300.6,750.6 304.9,749.8 308.8,748.8 C312.8,747.8 316.4,746.8 320.6,745.9 C324.8,744.9 330.1,743.1 334.0,742.9 C338.0,742.6 341.7,743.4 344.3,744.4 C346.9,745.4 349.3,746.6 349.6,748.8 C349.8,751.0 347.7,754.5 345.8,757.7 C344.0,760.9 340.7,764.6 338.5,768.1 C336.3,771.5 334.5,775.3 332.5,778.5 C330.5,781.7 329.1,785.1 326.6,787.3 C324.1,789.5 319.6,789.1 317.7,791.8 C315.7,794.5 316.6,800.5 314.7,803.7 C312.7,806.9 308.8,809.8 305.8,811.0 C302.9,812.3 299.6,812.3 296.9,811.0 C294.2,809.8 292.2,806.9 289.5,803.7 C286.8,800.5 282.9,796.2 280.6,791.8 C278.4,787.3 276.4,781.4 276.2,777.0 C275.9,772.6 277.4,768.6 279.2,765.1 C280.9,761.6 283.5,758.4 286.5,756.2Z" fill="none" stroke="#3f6f3f" stroke-width="0.7" stroke-opacity="0.64"/><path d="M291.0,758.2 C293.5,756.3 296.7,755.5 299.9,754.4 C303.1,753.4 306.7,752.7 310.1,751.8 C313.5,751.0 316.6,750.1 320.2,749.3 C323.9,748.4 328.3,747.0 331.7,746.8 C335.1,746.5 338.4,747.2 340.6,748.0 C342.8,748.9 344.9,749.9 345.1,751.8 C345.3,753.7 343.4,756.7 341.9,759.4 C340.3,762.2 337.4,765.4 335.5,768.3 C333.6,771.3 332.2,774.5 330.5,777.3 C328.8,780.0 327.5,782.9 325.4,784.8 C323.2,786.7 319.4,786.3 317.7,788.7 C316.0,791.0 316.8,796.1 315.1,798.9 C313.5,801.6 310.1,804.1 307.6,805.2 C305.0,806.2 302.3,806.2 299.9,805.2 C297.6,804.1 295.9,801.6 293.5,798.9 C291.2,796.1 287.9,792.5 286.0,788.7 C284.1,784.9 282.4,779.8 282.1,776.0 C281.9,772.2 283.2,768.8 284.7,765.8 C286.2,762.8 288.5,760.1 291.0,758.2Z" fill="none" stroke="#3f6f3f" stroke-width="0.7" stroke-opacity="0.51"/><path d="M295.5,760.1 C297.6,758.5 300.3,757.9 302.9,757.0 C305.6,756.1 308.6,755.6 311.4,754.9 C314.3,754.2 316.9,753.5 319.9,752.8 C322.9,752.0 326.6,750.8 329.4,750.6 C332.3,750.4 335.0,751.0 336.8,751.7 C338.7,752.4 340.4,753.3 340.6,754.9 C340.7,756.5 339.2,758.9 337.9,761.2 C336.6,763.5 334.2,766.1 332.6,768.6 C331.0,771.1 329.8,773.8 328.4,776.1 C327.0,778.4 325.9,780.8 324.1,782.4 C322.4,784.0 319.2,783.6 317.8,785.6 C316.3,787.5 317.0,791.8 315.6,794.1 C314.2,796.4 311.4,798.4 309.3,799.3 C307.2,800.2 304.9,800.2 302.9,799.3 C301.0,798.4 299.6,796.4 297.6,794.1 C295.7,791.8 292.9,788.7 291.3,785.6 C289.7,782.4 288.3,778.2 288.1,775.0 C287.9,771.8 289.0,769.0 290.2,766.5 C291.5,764.0 293.4,761.7 295.5,760.1Z" fill="none" stroke="#3f6f3f" stroke-width="0.7" stroke-opacity="0.41"/><path d="M300.0,762.1 C301.7,760.8 303.8,760.3 305.9,759.6 C308.1,758.9 310.5,758.5 312.8,757.9 C315.0,757.3 317.1,756.8 319.5,756.2 C321.9,755.6 324.9,754.6 327.1,754.5 C329.4,754.4 331.6,754.8 333.1,755.4 C334.5,755.9 335.9,756.6 336.1,757.9 C336.2,759.2 335.0,761.1 333.9,763.0 C332.8,764.8 331.0,766.9 329.7,768.9 C328.4,770.9 327.4,773.0 326.3,774.9 C325.2,776.7 324.3,778.6 322.9,779.9 C321.5,781.2 318.9,780.9 317.8,782.5 C316.7,784.0 317.2,787.4 316.1,789.2 C315.0,791.1 312.7,792.8 311.1,793.5 C309.4,794.2 307.5,794.2 305.9,793.5 C304.4,792.8 303.2,791.1 301.7,789.2 C300.1,787.4 297.9,785.0 296.6,782.5 C295.4,779.9 294.2,776.5 294.1,774.0 C294.0,771.5 294.8,769.2 295.8,767.2 C296.8,765.2 298.3,763.4 300.0,762.1Z" fill="none" stroke="#3f6f3f" stroke-width="0.7" stroke-opacity="0.33"/><path d="M293.4,758.9 C295.8,757.2 298.8,756.4 301.7,755.4 C304.7,754.5 308.1,753.9 311.2,753.1 C314.4,752.3 317.3,751.5 320.7,750.7 C324.1,749.9 328.2,748.5 331.4,748.3 C334.6,748.1 337.6,748.7 339.7,749.5 C341.7,750.3 343.7,751.3 343.9,753.1 C344.1,754.8 342.3,757.6 340.9,760.1 C339.4,762.7 336.8,765.7 335.0,768.5 C333.2,771.2 331.8,774.2 330.2,776.8 C328.6,779.4 327.4,782.1 325.5,783.9 C323.5,785.6 319.9,785.2 318.3,787.4 C316.7,789.6 317.5,794.4 315.9,797.0 C314.4,799.5 311.2,801.8 308.9,802.8 C306.5,803.8 303.9,803.8 301.7,802.8 C299.5,801.8 297.9,799.5 295.8,797.0 C293.6,794.4 290.5,791.0 288.7,787.4 C286.9,783.9 285.3,779.2 285.1,775.6 C284.9,772.0 286.1,768.9 287.5,766.1 C288.9,763.3 291.0,760.7 293.4,758.9Z" fill="none" stroke="#d06060" stroke-width="0.6" stroke-opacity="0.35"/><path d="M302.5,760.5 C304.3,759.1 306.6,758.6 308.8,757.8 C311.0,757.1 313.6,756.6 315.9,756.0 C318.3,755.4 320.5,754.9 323.0,754.3 C325.5,753.7 328.7,752.6 331.1,752.5 C333.4,752.3 335.7,752.8 337.3,753.4 C338.8,754.0 340.3,754.7 340.4,756.0 C340.6,757.4 339.3,759.4 338.1,761.3 C337.0,763.3 335.1,765.5 333.7,767.6 C332.4,769.7 331.4,771.9 330.2,773.8 C329.0,775.8 328.1,777.8 326.6,779.1 C325.1,780.5 322.4,780.2 321.2,781.8 C320.1,783.5 320.6,787.0 319.5,789.0 C318.3,790.9 315.9,792.6 314.2,793.4 C312.4,794.1 310.4,794.1 308.8,793.4 C307.2,792.6 306.0,790.9 304.3,789.0 C302.7,787.0 300.4,784.5 299.0,781.8 C297.7,779.2 296.5,775.6 296.4,773.0 C296.2,770.3 297.1,767.9 298.1,765.8 C299.2,763.7 300.8,761.8 302.5,760.5Z" fill="none" stroke="#d06060" stroke-width="0.6" stroke-opacity="0.32"/><path d="M311.7,762.0 C312.9,761.1 314.4,760.7 315.9,760.2 C317.4,759.7 319.0,759.4 320.6,759.0 C322.2,758.6 323.7,758.2 325.4,757.8 C327.0,757.4 329.1,756.7 330.7,756.6 C332.3,756.6 333.8,756.8 334.8,757.2 C335.9,757.6 336.8,758.1 336.9,759.0 C337.0,759.9 336.2,761.3 335.4,762.6 C334.7,763.8 333.4,765.3 332.5,766.7 C331.6,768.1 330.9,769.6 330.1,770.9 C329.3,772.2 328.7,773.5 327.7,774.4 C326.7,775.3 325.0,775.1 324.2,776.2 C323.4,777.3 323.8,779.7 323.0,781.0 C322.2,782.3 320.6,783.4 319.4,783.9 C318.3,784.4 317.0,784.4 315.9,783.9 C314.8,783.4 314.0,782.3 312.9,781.0 C311.8,779.7 310.2,778.0 309.4,776.2 C308.5,774.4 307.7,772.1 307.6,770.3 C307.5,768.5 308.1,766.9 308.8,765.5 C309.4,764.2 310.5,762.9 311.7,762.0Z" fill="none" stroke="#d06060" stroke-width="0.6" stroke-opacity="0.28"/><path d="M363.9,732.2 C363.9,733.8 363.7,735.5 363.3,737.0 C363.0,738.5 362.4,739.9 361.8,741.0 C361.1,742.2 360.3,743.1 359.4,743.7 C358.5,744.4 357.5,744.7 356.6,744.7 C355.7,744.7 354.7,744.4 353.8,743.7 C352.9,743.1 352.1,742.2 351.4,741.0 C350.8,739.9 350.2,738.5 349.9,737.0 C349.5,735.5 349.3,733.8 349.3,732.2 C349.3,730.6 349.5,728.9 349.9,727.4 C350.2,725.9 350.8,724.5 351.4,723.4 C352.1,722.2 352.9,721.3 353.8,720.7 C354.7,720.0 355.7,719.7 356.6,719.7 C357.5,719.7 358.5,720.0 359.4,720.7 C360.3,721.3 361.1,722.2 361.8,723.4 C362.4,724.5 363.0,725.9 363.3,727.4 C363.7,728.9 363.9,730.6 363.9,732.2Z" fill="#ff6060" fill-opacity="0.35"/><path d="M363.9,732.2 C363.9,733.8 363.7,735.5 363.3,737.0 C363.0,738.5 362.4,739.9 361.8,741.0 C361.1,742.2 360.3,743.1 359.4,743.7 C358.5,744.4 357.5,744.7 356.6,744.7 C355.7,744.7 354.7,744.4 353.8,743.7 C352.9,743.1 352.1,742.2 351.4,741.0 C350.8,739.9 350.2,738.5 349.9,737.0 C349.5,735.5 349.3,733.8 349.3,732.2 C349.3,730.6 349.5,728.9 349.9,727.4 C350.2,725.9 350.8,724.5 351.4,723.4 C352.1,722.2 352.9,721.3 353.8,720.7 C354.7,720.0 355.7,719.7 356.6,719.7 C357.5,719.7 358.5,720.0 359.4,720.7 C360.3,721.3 361.1,722.2 361.8,723.4 C362.4,724.5 363.0,725.9 363.3,727.4 C363.7,728.9 363.9,730.6 363.9,732.2Z" fill="none" stroke="#ff3030" stroke-width="0.7" stroke-opacity="0.70"/><path d="M362.1,732.2 C362.1,733.4 361.9,734.7 361.7,735.8 C361.4,736.9 361.0,738.0 360.5,738.8 C360.0,739.7 359.3,740.4 358.7,740.9 C358.0,741.3 357.3,741.6 356.6,741.6 C355.9,741.6 355.2,741.3 354.5,740.9 C353.9,740.4 353.2,739.7 352.7,738.8 C352.2,738.0 351.8,736.9 351.5,735.8 C351.3,734.7 351.1,733.4 351.1,732.2 C351.1,731.0 351.3,729.7 351.5,728.6 C351.8,727.5 352.2,726.4 352.7,725.6 C353.2,724.7 353.9,724.0 354.5,723.5 C355.2,723.1 355.9,722.8 356.6,722.8 C357.3,722.8 358.0,723.1 358.7,723.5 C359.3,724.0 360.0,724.7 360.5,725.6 C361.0,726.4 361.4,727.5 361.7,728.6 C361.9,729.7 362.1,731.0 362.1,732.2Z" fill="none" stroke="#ff3030" stroke-width="0.7" stroke-opacity="0.56"/><path d="M360.2,732.2 C360.2,733.0 360.2,733.9 360.0,734.6 C359.8,735.3 359.5,736.1 359.2,736.6 C358.9,737.2 358.4,737.7 358.0,738.0 C357.6,738.3 357.1,738.5 356.6,738.5 C356.1,738.5 355.6,738.3 355.2,738.0 C354.8,737.7 354.3,737.2 354.0,736.6 C353.7,736.1 353.4,735.3 353.2,734.6 C353.0,733.9 353.0,733.0 353.0,732.2 C353.0,731.4 353.0,730.5 353.2,729.8 C353.4,729.1 353.7,728.3 354.0,727.8 C354.3,727.2 354.8,726.7 355.2,726.4 C355.6,726.1 356.1,726.0 356.6,726.0 C357.1,726.0 357.6,726.1 358.0,726.4 C358.4,726.7 358.9,727.2 359.2,727.8 C359.5,728.3 359.8,729.1 360.0,729.8 C360.2,730.5 360.2,731.4 360.2,732.2Z" fill="none" stroke="#ff3030" stroke-width="0.7" stroke-opacity="0.45"/><defs><linearGradient id="gv" x1="0" y1="0" x2="0.8" y2="1"><stop offset="0" stop-color="#ff3030" stop-opacity="0.85"/><stop offset="0.35" stop-color="#ff7070" stop-opacity="0.35"/><stop offset="1" stop-color="#ff9090" stop-opacity="0.25"/></linearGradient></defs><path d="M334.6,901.7 C335.2,897.5 337.2,896.9 339.7,893.2 C342.2,889.5 347.3,882.2 349.8,879.7 C352.3,877.2 352.9,877.4 354.9,878.0 C356.9,878.6 358.3,881.4 361.7,883.1 C365.1,884.8 371.9,886.1 375.3,888.1 C378.7,890.1 380.3,892.1 382.0,894.9 C383.7,897.7 384.7,901.1 385.4,905.1 C386.1,909.1 386.3,913.5 386.3,918.6 C386.3,923.7 385.8,930.8 385.4,935.6 C385.0,940.4 384.8,944.1 383.7,947.5 C382.6,950.9 380.6,953.4 378.6,955.9 C376.6,958.4 374.1,962.4 371.9,962.7 C369.6,963.0 367.4,959.3 365.1,957.6 C362.8,955.9 360.3,951.6 358.3,952.5 C356.3,953.4 354.9,960.2 353.2,962.7 C351.5,965.2 349.8,967.8 348.1,967.8 C346.4,967.8 344.5,965.8 343.1,962.7 C341.7,959.6 340.6,954.0 339.7,949.2 C338.8,944.4 338.6,939.0 338.0,933.9 C337.4,928.8 336.9,924.0 336.3,918.6 C335.7,913.2 334.0,905.9 334.6,901.7Z" fill="url(#gv)"/><path d="M334.6,901.7 C335.2,897.5 337.2,896.9 339.7,893.2 C342.2,889.5 347.3,882.2 349.8,879.7 C352.3,877.2 352.9,877.4 354.9,878.0 C356.9,878.6 358.3,881.4 361.7,883.1 C365.1,884.8 371.9,886.1 375.3,888.1 C378.7,890.1 380.3,892.1 382.0,894.9 C383.7,897.7 384.7,901.1 385.4,905.1 C386.1,909.1 386.3,913.5 386.3,918.6 C386.3,923.7 385.8,930.8 385.4,935.6 C385.0,940.4 384.8,944.1 383.7,947.5 C382.6,950.9 380.6,953.4 378.6,955.9 C376.6,958.4 374.1,962.4 371.9,962.7 C369.6,963.0 367.4,959.3 365.1,957.6 C362.8,955.9 360.3,951.6 358.3,952.5 C356.3,953.4 354.9,960.2 353.2,962.7 C351.5,965.2 349.8,967.8 348.1,967.8 C346.4,967.8 344.5,965.8 343.1,962.7 C341.7,959.6 340.6,954.0 339.7,949.2 C338.8,944.4 338.6,939.0 338.0,933.9 C337.4,928.8 336.9,924.0 336.3,918.6 C335.7,913.2 334.0,905.9 334.6,901.7Z" fill="none" stroke="#f04040" stroke-width="0.6" stroke-opacity="0.60"/><path d="M338.3,904.1 C338.7,900.5 340.5,900.0 342.7,896.8 C344.9,893.6 349.2,887.3 351.4,885.1 C353.6,882.9 354.1,883.1 355.8,883.6 C357.6,884.1 358.8,886.6 361.7,888.0 C364.7,889.5 370.6,890.6 373.5,892.4 C376.5,894.1 377.9,895.8 379.3,898.2 C380.8,900.7 381.7,903.7 382.3,907.1 C382.9,910.5 383.1,914.4 383.1,918.8 C383.1,923.2 382.7,929.3 382.3,933.5 C381.9,937.7 381.8,940.9 380.8,943.8 C379.8,946.8 378.1,948.9 376.4,951.1 C374.7,953.3 372.5,956.8 370.6,957.0 C368.6,957.3 366.7,954.1 364.7,952.6 C362.7,951.1 360.5,947.4 358.8,948.2 C357.1,948.9 355.8,954.8 354.4,957.0 C352.9,959.2 351.4,961.4 350.0,961.4 C348.5,961.4 346.8,959.7 345.6,957.0 C344.4,954.3 343.4,949.5 342.7,945.3 C341.9,941.1 341.7,936.5 341.2,932.0 C340.7,927.6 340.2,923.4 339.7,918.8 C339.2,914.1 337.8,907.8 338.3,904.1Z" fill="none" stroke="#f04040" stroke-width="0.6" stroke-opacity="0.45"/><path d="M341.9,906.6 C342.3,903.5 343.8,903.0 345.6,900.3 C347.5,897.7 351.2,892.3 353.1,890.4 C354.9,888.6 355.3,888.8 356.8,889.2 C358.2,889.6 359.3,891.7 361.8,892.9 C364.3,894.2 369.3,895.2 371.8,896.6 C374.2,898.0 375.4,899.5 376.7,901.6 C377.9,903.7 378.6,906.2 379.2,909.1 C379.7,912.0 379.8,915.2 379.8,919.0 C379.8,922.7 379.5,927.9 379.2,931.4 C378.8,935.0 378.7,937.7 377.9,940.2 C377.1,942.6 375.6,944.5 374.2,946.3 C372.7,948.2 370.9,951.1 369.3,951.3 C367.6,951.5 365.9,948.8 364.3,947.6 C362.6,946.3 360.7,943.2 359.3,943.8 C357.8,944.5 356.8,949.4 355.5,951.3 C354.3,953.2 353.0,955.1 351.8,955.1 C350.6,955.1 349.2,953.6 348.1,951.3 C347.1,949.0 346.3,944.9 345.6,941.4 C345.0,937.9 344.8,933.9 344.4,930.2 C344.0,926.5 343.6,922.9 343.2,919.0 C342.7,915.0 341.5,909.7 341.9,906.6Z" fill="none" stroke="#f04040" stroke-width="0.6" stroke-opacity="0.34"/><path d="M345.6,909.0 C345.9,906.5 347.1,906.1 348.6,903.9 C350.1,901.7 353.2,897.3 354.7,895.8 C356.2,894.3 356.6,894.5 357.7,894.8 C358.9,895.1 359.8,896.9 361.8,897.9 C363.9,898.9 368.0,899.7 370.0,900.9 C372.0,902.0 373.0,903.2 374.0,904.9 C375.0,906.6 375.6,908.7 376.0,911.1 C376.5,913.4 376.6,916.1 376.6,919.2 C376.6,922.2 376.3,926.5 376.0,929.4 C375.8,932.2 375.7,934.5 375.0,936.5 C374.3,938.5 373.1,940.0 372.0,941.5 C370.8,943.1 369.3,945.5 367.9,945.6 C366.6,945.8 365.2,943.6 363.9,942.6 C362.5,941.5 361.0,939.0 359.8,939.5 C358.6,940.0 357.7,944.1 356.7,945.6 C355.7,947.1 354.7,948.7 353.7,948.7 C352.7,948.7 351.5,947.5 350.7,945.6 C349.8,943.8 349.1,940.4 348.6,937.5 C348.1,934.6 347.9,931.4 347.6,928.3 C347.3,925.3 346.9,922.4 346.6,919.2 C346.2,915.9 345.2,911.6 345.6,909.0Z" fill="none" stroke="#f04040" stroke-width="0.6" stroke-opacity="0.25"/><path d="M353.0,842.0 C353.7,839.7 356.3,839.7 358.0,838.0 C359.7,836.3 361.5,835.0 363.0,832.0 C364.5,829.0 365.7,820.6 366.8,820.3 C367.9,820.0 368.6,826.5 369.5,830.0 C370.4,833.5 372.2,837.3 372.0,841.0 C371.8,844.7 370.0,849.7 368.0,852.0 C366.0,854.3 362.3,855.0 360.0,855.0 C357.7,855.0 355.2,854.2 354.0,852.0 C352.8,849.8 352.3,844.3 353.0,842.0Z" fill="#9090ff" fill-opacity="0.25" stroke="#2020ff" stroke-width="0.8" stroke-opacity="0.55"/><path d="M365.5,866.5 C365.7,868.8 365.7,871.2 365.6,873.4 C365.5,875.5 365.2,877.6 364.8,879.3 C364.4,881.0 363.9,882.4 363.2,883.4 C362.6,884.3 361.8,884.9 361.1,884.9 C360.3,885.0 359.4,884.6 358.7,883.8 C357.9,883.0 357.1,881.6 356.4,880.0 C355.7,878.5 355.1,876.4 354.6,874.3 C354.1,872.3 353.7,869.8 353.5,867.5 C353.3,865.2 353.3,862.8 353.4,860.6 C353.5,858.5 353.8,856.4 354.2,854.7 C354.6,853.0 355.1,851.6 355.8,850.6 C356.4,849.7 357.2,849.1 357.9,849.1 C358.7,849.0 359.6,849.4 360.3,850.2 C361.1,851.0 361.9,852.4 362.6,854.0 C363.3,855.5 363.9,857.6 364.4,859.7 C364.9,861.7 365.3,864.2 365.5,866.5Z" fill="#6060f0" fill-opacity="0.3" stroke="#2828e8" stroke-width="1.6" stroke-opacity="0.75"/><path d="M363.1,866.7 C363.2,868.1 363.2,869.5 363.2,870.8 C363.1,872.1 362.9,873.4 362.7,874.4 C362.5,875.4 362.1,876.3 361.7,876.8 C361.4,877.4 360.9,877.7 360.4,877.8 C360.0,877.8 359.5,877.5 359.0,877.1 C358.5,876.6 358.0,875.8 357.6,874.8 C357.2,873.9 356.8,872.7 356.5,871.4 C356.3,870.2 356.0,868.7 355.9,867.3 C355.8,865.9 355.8,864.5 355.8,863.2 C355.9,861.9 356.1,860.6 356.3,859.6 C356.5,858.6 356.9,857.7 357.3,857.2 C357.6,856.6 358.1,856.3 358.6,856.2 C359.0,856.2 359.5,856.5 360.0,856.9 C360.5,857.4 361.0,858.2 361.4,859.2 C361.8,860.1 362.2,861.3 362.5,862.6 C362.7,863.8 363.0,865.3 363.1,866.7Z" fill="none" stroke="#2020ff" stroke-width="0.8" stroke-opacity="0.5"/><path d="M366.0,838.0 C366.5,835.5 369.7,834.7 372.0,836.0 C374.3,837.3 377.7,843.2 380.0,846.0 C382.3,848.8 384.4,852.5 386.0,853.0 C387.6,853.5 388.3,848.3 389.5,849.0 C390.7,849.7 391.9,853.7 393.0,857.0 C394.1,860.3 394.2,865.3 396.0,869.0 C397.8,872.7 402.0,875.8 404.0,879.0 C406.0,882.2 408.3,884.3 408.0,888.0 C407.7,891.7 404.0,898.5 402.0,901.0 C400.0,903.5 398.2,904.7 396.0,903.0 C393.8,901.3 391.3,895.0 389.0,891.0 C386.7,887.0 384.2,883.2 382.0,879.0 C379.8,874.8 378.2,870.7 376.0,866.0 C373.8,861.3 370.7,855.7 369.0,851.0 C367.3,846.3 365.5,840.5 366.0,838.0Z" fill="#9090ff" fill-opacity="0.3" stroke="#2020ff" stroke-width="1.0" stroke-opacity="0.7"/><path d="M370,842 C376,852 381,862 386,872 C390,880 395,888 400,896" fill="none" stroke="#2020ff" stroke-width="1.4" stroke-opacity="0.6"/><path d="M419.0,843.2 C419.0,845.9 418.8,848.8 418.4,851.2 C418.1,853.7 417.5,856.2 416.9,858.0 C416.2,859.9 415.4,861.6 414.5,862.6 C413.6,863.6 412.6,864.2 411.7,864.2 C410.8,864.2 409.8,863.6 408.9,862.6 C408.0,861.6 407.2,859.9 406.5,858.0 C405.9,856.2 405.3,853.7 405.0,851.2 C404.6,848.8 404.4,845.9 404.4,843.2 C404.4,840.5 404.6,837.6 405.0,835.2 C405.3,832.7 405.9,830.2 406.5,828.4 C407.2,826.5 408.0,824.8 408.9,823.8 C409.8,822.8 410.8,822.2 411.7,822.2 C412.6,822.2 413.6,822.8 414.5,823.8 C415.4,824.8 416.2,826.5 416.9,828.4 C417.5,830.2 418.1,832.7 418.4,835.2 C418.8,837.6 419.0,840.5 419.0,843.2Z" fill="#3535f0" fill-opacity="0.6"/><path d="M419.0,843.2 C419.0,845.9 418.8,848.8 418.4,851.2 C418.1,853.7 417.5,856.2 416.9,858.0 C416.2,859.9 415.4,861.6 414.5,862.6 C413.6,863.6 412.6,864.2 411.7,864.2 C410.8,864.2 409.8,863.6 408.9,862.6 C408.0,861.6 407.2,859.9 406.5,858.0 C405.9,856.2 405.3,853.7 405.0,851.2 C404.6,848.8 404.4,845.9 404.4,843.2 C404.4,840.5 404.6,837.6 405.0,835.2 C405.3,832.7 405.9,830.2 406.5,828.4 C407.2,826.5 408.0,824.8 408.9,823.8 C409.8,822.8 410.8,822.2 411.7,822.2 C412.6,822.2 413.6,822.8 414.5,823.8 C415.4,824.8 416.2,826.5 416.9,828.4 C417.5,830.2 418.1,832.7 418.4,835.2 C418.8,837.6 419.0,840.5 419.0,843.2Z" fill="none" stroke="#2020ff" stroke-width="0.7" stroke-opacity="0.80"/><path d="M417.2,843.2 C417.2,845.2 417.0,847.4 416.8,849.2 C416.5,851.1 416.1,852.9 415.6,854.3 C415.1,855.8 414.4,857.0 413.8,857.8 C413.1,858.5 412.4,859.0 411.7,859.0 C411.0,859.0 410.3,858.5 409.6,857.8 C409.0,857.0 408.3,855.8 407.8,854.3 C407.3,852.9 406.9,851.1 406.6,849.2 C406.4,847.4 406.2,845.2 406.2,843.2 C406.2,841.2 406.4,839.0 406.6,837.2 C406.9,835.3 407.3,833.5 407.8,832.1 C408.3,830.6 409.0,829.4 409.6,828.6 C410.3,827.9 411.0,827.5 411.7,827.5 C412.4,827.5 413.1,827.9 413.8,828.6 C414.4,829.4 415.1,830.6 415.6,832.1 C416.1,833.5 416.5,835.3 416.8,837.2 C417.0,839.0 417.2,841.2 417.2,843.2Z" fill="none" stroke="#2020ff" stroke-width="0.7" stroke-opacity="0.64"/><path d="M415.4,843.2 C415.4,844.5 415.3,846.0 415.1,847.2 C414.9,848.5 414.6,849.7 414.3,850.6 C414.0,851.6 413.5,852.4 413.1,852.9 C412.7,853.4 412.2,853.7 411.7,853.7 C411.2,853.7 410.7,853.4 410.3,852.9 C409.9,852.4 409.4,851.6 409.1,850.6 C408.8,849.7 408.5,848.5 408.3,847.2 C408.1,846.0 408.0,844.5 408.0,843.2 C408.0,841.9 408.1,840.4 408.3,839.2 C408.5,837.9 408.8,836.7 409.1,835.8 C409.4,834.8 409.9,834.0 410.3,833.5 C410.7,833.0 411.2,832.7 411.7,832.7 C412.2,832.7 412.7,833.0 413.1,833.5 C413.5,834.0 414.0,834.8 414.3,835.8 C414.6,836.7 414.9,837.9 415.1,839.2 C415.3,840.4 415.4,841.9 415.4,843.2Z" fill="none" stroke="#2020ff" stroke-width="0.7" stroke-opacity="0.51"/><path d="M311.0,922.5 C311.2,923.5 311.3,924.7 311.1,925.8 C310.9,926.9 310.4,928.0 309.7,929.0 C309.1,930.0 308.2,930.9 307.2,931.6 C306.1,932.3 304.9,932.9 303.7,933.2 C302.5,933.5 301.1,933.7 299.9,933.6 C298.7,933.5 297.4,933.1 296.4,932.6 C295.3,932.1 294.3,931.3 293.6,930.5 C292.9,929.6 292.3,928.6 292.0,927.5 C291.8,926.5 291.7,925.3 291.9,924.2 C292.1,923.1 292.6,922.0 293.3,921.0 C293.9,920.0 294.8,919.1 295.8,918.4 C296.9,917.7 298.1,917.1 299.3,916.8 C300.5,916.5 301.9,916.3 303.1,916.4 C304.3,916.5 305.6,916.9 306.6,917.4 C307.7,917.9 308.7,918.7 309.4,919.5 C310.1,920.4 310.7,921.4 311.0,922.5Z" fill="#ff6060" fill-opacity="0.35"/><path d="M311.0,922.5 C311.2,923.5 311.3,924.7 311.1,925.8 C310.9,926.9 310.4,928.0 309.7,929.0 C309.1,930.0 308.2,930.9 307.2,931.6 C306.1,932.3 304.9,932.9 303.7,933.2 C302.5,933.5 301.1,933.7 299.9,933.6 C298.7,933.5 297.4,933.1 296.4,932.6 C295.3,932.1 294.3,931.3 293.6,930.5 C292.9,929.6 292.3,928.6 292.0,927.5 C291.8,926.5 291.7,925.3 291.9,924.2 C292.1,923.1 292.6,922.0 293.3,921.0 C293.9,920.0 294.8,919.1 295.8,918.4 C296.9,917.7 298.1,917.1 299.3,916.8 C300.5,916.5 301.9,916.3 303.1,916.4 C304.3,916.5 305.6,916.9 306.6,917.4 C307.7,917.9 308.7,918.7 309.4,919.5 C310.1,920.4 310.7,921.4 311.0,922.5Z" fill="none" stroke="#ff3030" stroke-width="0.7" stroke-opacity="0.70"/><path d="M308.6,923.1 C308.8,923.9 308.8,924.8 308.7,925.6 C308.5,926.4 308.2,927.3 307.7,928.0 C307.2,928.7 306.5,929.4 305.7,930.0 C305.0,930.5 304.1,930.9 303.1,931.2 C302.2,931.4 301.2,931.5 300.3,931.4 C299.4,931.3 298.4,931.1 297.6,930.7 C296.9,930.3 296.1,929.7 295.6,929.1 C295.0,928.5 294.6,927.7 294.4,926.9 C294.2,926.1 294.2,925.2 294.3,924.4 C294.5,923.6 294.8,922.7 295.3,922.0 C295.8,921.3 296.5,920.6 297.3,920.0 C298.0,919.5 298.9,919.1 299.9,918.8 C300.8,918.6 301.8,918.5 302.7,918.6 C303.6,918.7 304.6,918.9 305.4,919.3 C306.1,919.7 306.9,920.3 307.4,920.9 C308.0,921.5 308.4,922.3 308.6,923.1Z" fill="none" stroke="#ff3030" stroke-width="0.7" stroke-opacity="0.56"/><path d="M306.2,923.7 C306.4,924.3 306.4,924.9 306.3,925.4 C306.2,925.9 306.0,926.5 305.6,927.0 C305.3,927.5 304.8,928.0 304.3,928.3 C303.8,928.7 303.2,928.9 302.6,929.1 C302.0,929.3 301.3,929.3 300.7,929.3 C300.1,929.2 299.5,929.1 298.9,928.8 C298.4,928.5 297.9,928.2 297.5,927.7 C297.2,927.3 296.9,926.8 296.8,926.3 C296.6,925.7 296.6,925.1 296.7,924.6 C296.8,924.1 297.0,923.5 297.4,923.0 C297.7,922.5 298.2,922.0 298.7,921.7 C299.2,921.3 299.8,921.1 300.4,920.9 C301.0,920.7 301.7,920.7 302.3,920.7 C302.9,920.8 303.5,920.9 304.1,921.2 C304.6,921.5 305.1,921.8 305.5,922.3 C305.8,922.7 306.1,923.2 306.2,923.7Z" fill="none" stroke="#ff3030" stroke-width="0.7" stroke-opacity="0.45"/><path d="M323.6,928.8 C323.6,925.4 323.4,921.1 324.4,918.6 C325.4,916.1 327.8,915.0 329.5,913.6 C331.2,912.2 332.9,910.5 334.6,910.2 C336.3,909.9 338.1,910.5 339.7,911.9 C341.2,913.3 343.1,915.8 343.9,918.6 C344.7,921.4 345.1,926.8 344.7,928.8 C344.3,930.8 342.5,931.6 341.4,930.5 C340.3,929.4 339.1,923.7 338.0,922.0 C336.9,920.3 335.7,920.0 334.6,920.3 C333.5,920.6 332.1,921.2 331.2,923.7 C330.3,926.2 330.1,932.8 329.5,935.6 C328.9,938.4 328.7,940.1 327.8,940.7 C326.9,941.3 325.1,941.0 324.4,939.0 C323.7,937.0 323.6,932.2 323.6,928.8Z" fill="#9090ff" fill-opacity="0.3" stroke="#2020ff" stroke-width="1.1" stroke-opacity="0.8"/><path d="M360.4,923.7 C360.4,924.5 360.3,925.4 360.1,926.2 C359.9,927.0 359.6,927.7 359.3,928.3 C358.9,928.9 358.5,929.4 358.1,929.7 C357.6,930.0 357.1,930.2 356.6,930.2 C356.1,930.2 355.6,930.0 355.1,929.7 C354.7,929.4 354.3,928.9 353.9,928.3 C353.6,927.7 353.3,927.0 353.1,926.2 C352.9,925.4 352.8,924.5 352.8,923.7 C352.8,922.9 352.9,922.0 353.1,921.2 C353.3,920.4 353.6,919.7 353.9,919.1 C354.3,918.5 354.7,918.0 355.1,917.7 C355.6,917.4 356.1,917.2 356.6,917.2 C357.1,917.2 357.6,917.4 358.1,917.7 C358.5,918.0 358.9,918.5 359.3,919.1 C359.6,919.7 359.9,920.4 360.1,921.2 C360.3,922.0 360.4,922.9 360.4,923.7Z" fill="none" stroke="#2020ff" stroke-width="0.8" stroke-opacity="0.70"/><path d="M357.6,923.7 C357.6,923.9 357.5,924.1 357.5,924.3 C357.4,924.5 357.4,924.7 357.3,924.8 C357.2,925.0 357.1,925.1 357.0,925.2 C356.9,925.3 356.7,925.3 356.6,925.3 C356.5,925.3 356.3,925.3 356.2,925.2 C356.1,925.1 356.0,925.0 355.9,924.8 C355.8,924.7 355.8,924.5 355.7,924.3 C355.7,924.1 355.7,923.9 355.7,923.7 C355.7,923.5 355.7,923.3 355.7,923.1 C355.8,922.9 355.8,922.7 355.9,922.6 C356.0,922.4 356.1,922.3 356.2,922.2 C356.3,922.1 356.5,922.1 356.6,922.1 C356.7,922.1 356.9,922.1 357.0,922.2 C357.1,922.3 357.2,922.4 357.3,922.6 C357.4,922.7 357.4,922.9 357.5,923.1 C357.5,923.3 357.6,923.5 357.6,923.7Z" fill="none" stroke="#2020ff" stroke-width="0.8" stroke-opacity="0.56"/><path d="M414.7,934.4 C414.7,935.0 414.6,935.6 414.4,936.1 C414.2,936.6 413.8,937.1 413.4,937.5 C413.1,937.9 412.6,938.3 412.0,938.5 C411.5,938.7 410.9,938.8 410.4,938.8 C409.9,938.8 409.3,938.7 408.8,938.5 C408.2,938.3 407.7,937.9 407.4,937.5 C407.0,937.1 406.6,936.6 406.4,936.1 C406.2,935.6 406.1,935.0 406.1,934.4 C406.1,933.8 406.2,933.2 406.4,932.7 C406.6,932.2 407.0,931.7 407.4,931.3 C407.7,930.9 408.2,930.5 408.8,930.3 C409.3,930.1 409.9,930.0 410.4,930.0 C410.9,930.0 411.5,930.1 412.0,930.3 C412.6,930.5 413.1,930.9 413.4,931.3 C413.8,931.7 414.2,932.2 414.4,932.7 C414.6,933.2 414.7,933.8 414.7,934.4Z" fill="none" stroke="#ff3030" stroke-width="0.6" stroke-opacity="0.50"/><path d="M331.6,971.5 C331.3,972.8 330.7,974.1 330.2,975.2 C329.6,976.3 328.8,977.3 328.1,978.1 C327.3,978.9 326.5,979.5 325.7,979.8 C324.9,980.1 324.0,980.1 323.3,979.9 C322.6,979.8 321.9,979.3 321.4,978.6 C320.9,978.0 320.4,977.0 320.2,976.0 C319.9,974.9 319.8,973.7 319.8,972.4 C319.8,971.2 320.1,969.8 320.4,968.5 C320.7,967.2 321.3,965.9 321.8,964.8 C322.4,963.7 323.2,962.7 323.9,961.9 C324.7,961.1 325.5,960.5 326.3,960.2 C327.1,959.9 328.0,959.9 328.7,960.1 C329.4,960.2 330.1,960.7 330.6,961.4 C331.1,962.0 331.6,963.0 331.8,964.0 C332.1,965.1 332.2,966.3 332.2,967.6 C332.2,968.8 331.9,970.2 331.6,971.5Z" fill="none" stroke="#ff3030" stroke-width="0.7" stroke-opacity="0.60"/><path d="M327.4,970.4 C327.3,970.7 327.2,971.0 327.0,971.3 C326.9,971.6 326.7,971.8 326.5,972.0 C326.3,972.2 326.1,972.4 325.9,972.4 C325.7,972.5 325.5,972.5 325.3,972.5 C325.2,972.4 325.0,972.3 324.8,972.2 C324.7,972.0 324.6,971.8 324.5,971.5 C324.5,971.2 324.4,970.9 324.5,970.6 C324.5,970.3 324.5,969.9 324.6,969.6 C324.7,969.3 324.8,969.0 325.0,968.7 C325.1,968.4 325.3,968.2 325.5,968.0 C325.7,967.8 325.9,967.6 326.1,967.6 C326.3,967.5 326.5,967.5 326.7,967.5 C326.8,967.6 327.0,967.7 327.2,967.8 C327.3,968.0 327.4,968.2 327.5,968.5 C327.5,968.8 327.6,969.1 327.5,969.4 C327.5,969.7 327.5,970.1 327.4,970.4Z" fill="none" stroke="#ff3030" stroke-width="0.7" stroke-opacity="0.48"/><path d="M354.7,963.0 C354.7,963.6 354.5,964.3 354.2,964.9 C353.9,965.5 353.4,966.1 352.8,966.5 C352.2,967.0 351.5,967.4 350.7,967.6 C349.9,967.9 349.0,968.0 348.2,968.0 C347.4,968.0 346.5,967.9 345.7,967.6 C344.9,967.4 344.2,967.0 343.6,966.5 C343.0,966.1 342.5,965.5 342.2,964.9 C341.9,964.3 341.7,963.6 341.7,963.0 C341.7,962.4 341.9,961.7 342.2,961.1 C342.5,960.5 343.0,959.9 343.6,959.5 C344.2,959.0 344.9,958.6 345.7,958.4 C346.5,958.1 347.4,958.0 348.2,958.0 C349.0,958.0 349.9,958.1 350.7,958.4 C351.5,958.6 352.2,959.0 352.8,959.5 C353.4,959.9 353.9,960.5 354.2,961.1 C354.5,961.7 354.7,962.4 354.7,963.0Z" fill="none" stroke="#ff3030" stroke-width="0.6" stroke-opacity="0.50"/><path d="M349.8,963.0 C349.8,963.2 349.8,963.3 349.7,963.5 C349.6,963.6 349.5,963.8 349.3,963.9 C349.2,964.0 349.0,964.1 348.8,964.2 C348.6,964.2 348.4,964.2 348.2,964.2 C348.0,964.2 347.8,964.2 347.6,964.2 C347.4,964.1 347.2,964.0 347.1,963.9 C346.9,963.8 346.8,963.6 346.7,963.5 C346.6,963.3 346.6,963.2 346.6,963.0 C346.6,962.8 346.6,962.7 346.7,962.5 C346.8,962.4 346.9,962.2 347.1,962.1 C347.2,962.0 347.4,961.9 347.6,961.8 C347.8,961.8 348.0,961.8 348.2,961.8 C348.4,961.8 348.6,961.8 348.8,961.8 C349.0,961.9 349.2,962.0 349.3,962.1 C349.5,962.2 349.6,962.4 349.7,962.5 C349.8,962.7 349.8,962.8 349.8,963.0Z" fill="none" stroke="#ff3030" stroke-width="0.6" stroke-opacity="0.40"/><path d="M373.4,961.0 C373.4,961.3 373.3,961.7 373.2,962.0 C373.0,962.3 372.8,962.5 372.5,962.8 C372.2,963.0 371.8,963.2 371.4,963.3 C371.0,963.4 370.6,963.5 370.2,963.5 C369.8,963.5 369.4,963.4 369.0,963.3 C368.6,963.2 368.2,963.0 367.9,962.8 C367.6,962.5 367.4,962.3 367.2,962.0 C367.1,961.7 367.0,961.3 367.0,961.0 C367.0,960.7 367.1,960.3 367.2,960.0 C367.4,959.7 367.6,959.5 367.9,959.2 C368.2,959.0 368.6,958.8 369.0,958.7 C369.4,958.6 369.8,958.5 370.2,958.5 C370.6,958.5 371.0,958.6 371.4,958.7 C371.8,958.8 372.2,959.0 372.5,959.2 C372.8,959.5 373.0,959.7 373.2,960.0 C373.3,960.3 373.4,960.7 373.4,961.0Z" fill="none" stroke="#ff3030" stroke-width="0.6" stroke-opacity="0.50"/><path d="M331.8,1041.3 C331.8,1043.4 331.6,1045.7 331.2,1047.7 C330.8,1049.7 330.2,1051.7 329.5,1053.2 C328.8,1054.7 327.9,1056.0 327.0,1056.8 C326.1,1057.6 325.0,1058.1 324.0,1058.1 C323.0,1058.1 321.9,1057.6 321.0,1056.8 C320.1,1056.0 319.2,1054.7 318.5,1053.2 C317.8,1051.7 317.2,1049.7 316.8,1047.7 C316.4,1045.7 316.2,1043.4 316.2,1041.3 C316.2,1039.2 316.4,1036.9 316.8,1034.9 C317.2,1032.9 317.8,1030.9 318.5,1029.4 C319.2,1027.9 320.1,1026.6 321.0,1025.8 C321.9,1025.0 323.0,1024.5 324.0,1024.5 C325.0,1024.5 326.1,1025.0 327.0,1025.8 C327.9,1026.6 328.8,1027.9 329.5,1029.4 C330.2,1030.9 330.8,1032.9 331.2,1034.9 C331.6,1036.9 331.8,1039.2 331.8,1041.3Z" fill="#ff5050" fill-opacity="0.55"/><path d="M331.8,1041.3 C331.8,1043.4 331.6,1045.7 331.2,1047.7 C330.8,1049.7 330.2,1051.7 329.5,1053.2 C328.8,1054.7 327.9,1056.0 327.0,1056.8 C326.1,1057.6 325.0,1058.1 324.0,1058.1 C323.0,1058.1 321.9,1057.6 321.0,1056.8 C320.1,1056.0 319.2,1054.7 318.5,1053.2 C317.8,1051.7 317.2,1049.7 316.8,1047.7 C316.4,1045.7 316.2,1043.4 316.2,1041.3 C316.2,1039.2 316.4,1036.9 316.8,1034.9 C317.2,1032.9 317.8,1030.9 318.5,1029.4 C319.2,1027.9 320.1,1026.6 321.0,1025.8 C321.9,1025.0 323.0,1024.5 324.0,1024.5 C325.0,1024.5 326.1,1025.0 327.0,1025.8 C327.9,1026.6 328.8,1027.9 329.5,1029.4 C330.2,1030.9 330.8,1032.9 331.2,1034.9 C331.6,1036.9 331.8,1039.2 331.8,1041.3Z" fill="none" stroke="#f03030" stroke-width="0.7" stroke-opacity="0.70"/><path d="M330.2,1041.3 C330.2,1043.0 330.1,1044.9 329.8,1046.4 C329.5,1048.0 329.0,1049.6 328.4,1050.8 C327.8,1052.0 327.1,1053.1 326.4,1053.7 C325.7,1054.4 324.8,1054.7 324.0,1054.7 C323.2,1054.7 322.3,1054.4 321.6,1053.7 C320.9,1053.1 320.2,1052.0 319.6,1050.8 C319.0,1049.6 318.5,1048.0 318.2,1046.4 C317.9,1044.9 317.8,1043.0 317.8,1041.3 C317.8,1039.6 317.9,1037.7 318.2,1036.2 C318.5,1034.6 319.0,1033.0 319.6,1031.8 C320.2,1030.6 320.9,1029.5 321.6,1028.9 C322.3,1028.2 323.2,1027.9 324.0,1027.9 C324.8,1027.9 325.7,1028.2 326.4,1028.9 C327.1,1029.5 327.8,1030.6 328.4,1031.8 C329.0,1033.0 329.5,1034.6 329.8,1036.2 C330.1,1037.7 330.2,1039.6 330.2,1041.3Z" fill="none" stroke="#f03030" stroke-width="0.7" stroke-opacity="0.56"/><path d="M328.7,1041.3 C328.7,1042.6 328.6,1044.0 328.3,1045.2 C328.1,1046.3 327.7,1047.5 327.3,1048.4 C326.9,1049.3 326.3,1050.1 325.8,1050.6 C325.2,1051.1 324.6,1051.4 324.0,1051.4 C323.4,1051.4 322.8,1051.1 322.2,1050.6 C321.7,1050.1 321.1,1049.3 320.7,1048.4 C320.3,1047.5 319.9,1046.3 319.7,1045.2 C319.4,1044.0 319.3,1042.6 319.3,1041.3 C319.3,1040.0 319.4,1038.6 319.7,1037.4 C319.9,1036.3 320.3,1035.1 320.7,1034.2 C321.1,1033.3 321.7,1032.5 322.2,1032.0 C322.8,1031.5 323.4,1031.2 324.0,1031.2 C324.6,1031.2 325.2,1031.5 325.8,1032.0 C326.3,1032.5 326.9,1033.3 327.3,1034.2 C327.7,1035.1 328.1,1036.3 328.3,1037.4 C328.6,1038.6 328.7,1040.0 328.7,1041.3Z" fill="none" stroke="#f03030" stroke-width="0.7" stroke-opacity="0.45"/><path d="M330.1,1052.2 C330.1,1054.2 330.0,1056.3 329.7,1058.1 C329.4,1060.0 329.0,1061.8 328.5,1063.2 C328.1,1064.6 327.5,1065.8 326.8,1066.5 C326.2,1067.3 325.5,1067.7 324.8,1067.7 C324.1,1067.7 323.4,1067.3 322.8,1066.5 C322.1,1065.8 321.5,1064.6 321.1,1063.2 C320.6,1061.8 320.2,1060.0 319.9,1058.1 C319.6,1056.3 319.5,1054.2 319.5,1052.2 C319.5,1050.2 319.6,1048.1 319.9,1046.3 C320.2,1044.4 320.6,1042.6 321.1,1041.2 C321.5,1039.8 322.1,1038.6 322.8,1037.9 C323.4,1037.1 324.1,1036.7 324.8,1036.7 C325.5,1036.7 326.2,1037.1 326.8,1037.9 C327.5,1038.6 328.1,1039.8 328.5,1041.2 C329.0,1042.6 329.4,1044.4 329.7,1046.3 C330.0,1048.1 330.1,1050.2 330.1,1052.2Z" fill="#9090ff" fill-opacity="0.2"/><path d="M330.1,1052.2 C330.1,1054.2 330.0,1056.3 329.7,1058.1 C329.4,1060.0 329.0,1061.8 328.5,1063.2 C328.1,1064.6 327.5,1065.8 326.8,1066.5 C326.2,1067.3 325.5,1067.7 324.8,1067.7 C324.1,1067.7 323.4,1067.3 322.8,1066.5 C322.1,1065.8 321.5,1064.6 321.1,1063.2 C320.6,1061.8 320.2,1060.0 319.9,1058.1 C319.6,1056.3 319.5,1054.2 319.5,1052.2 C319.5,1050.2 319.6,1048.1 319.9,1046.3 C320.2,1044.4 320.6,1042.6 321.1,1041.2 C321.5,1039.8 322.1,1038.6 322.8,1037.9 C323.4,1037.1 324.1,1036.7 324.8,1036.7 C325.5,1036.7 326.2,1037.1 326.8,1037.9 C327.5,1038.6 328.1,1039.8 328.5,1041.2 C329.0,1042.6 329.4,1044.4 329.7,1046.3 C330.0,1048.1 330.1,1050.2 330.1,1052.2Z" fill="none" stroke="#2020ff" stroke-width="0.7" stroke-opacity="0.75"/><path d="M328.9,1052.2 C328.9,1053.7 328.8,1055.3 328.6,1056.7 C328.4,1058.1 328.0,1059.5 327.7,1060.6 C327.3,1061.7 326.8,1062.6 326.4,1063.2 C325.9,1063.8 325.3,1064.1 324.8,1064.1 C324.3,1064.1 323.7,1063.8 323.2,1063.2 C322.8,1062.6 322.3,1061.7 321.9,1060.6 C321.6,1059.5 321.2,1058.1 321.0,1056.7 C320.8,1055.3 320.7,1053.7 320.7,1052.2 C320.7,1050.7 320.8,1049.1 321.0,1047.7 C321.2,1046.3 321.6,1044.9 321.9,1043.8 C322.3,1042.7 322.8,1041.8 323.2,1041.2 C323.7,1040.6 324.3,1040.3 324.8,1040.3 C325.3,1040.3 325.9,1040.6 326.4,1041.2 C326.8,1041.8 327.3,1042.7 327.7,1043.8 C328.0,1044.9 328.4,1046.3 328.6,1047.7 C328.8,1049.1 328.9,1050.7 328.9,1052.2Z" fill="none" stroke="#2020ff" stroke-width="0.7" stroke-opacity="0.60"/><path d="M327.6,1052.2 C327.6,1053.3 327.5,1054.4 327.4,1055.4 C327.3,1056.3 327.1,1057.3 326.8,1058.0 C326.5,1058.8 326.2,1059.4 325.9,1059.8 C325.5,1060.2 325.2,1060.5 324.8,1060.5 C324.4,1060.5 324.1,1060.2 323.7,1059.8 C323.4,1059.4 323.1,1058.8 322.8,1058.0 C322.5,1057.3 322.3,1056.3 322.2,1055.4 C322.1,1054.4 322.0,1053.3 322.0,1052.2 C322.0,1051.1 322.1,1050.0 322.2,1049.0 C322.3,1048.1 322.5,1047.1 322.8,1046.4 C323.1,1045.6 323.4,1045.0 323.7,1044.6 C324.1,1044.2 324.4,1043.9 324.8,1043.9 C325.2,1043.9 325.5,1044.2 325.9,1044.6 C326.2,1045.0 326.5,1045.6 326.8,1046.4 C327.1,1047.1 327.3,1048.1 327.4,1049.0 C327.5,1050.0 327.6,1051.1 327.6,1052.2Z" fill="none" stroke="#2020ff" stroke-width="0.7" stroke-opacity="0.48"/><path d="M326.4,1052.2 C326.4,1052.8 326.3,1053.4 326.3,1054.0 C326.2,1054.5 326.1,1055.1 325.9,1055.5 C325.8,1055.9 325.6,1056.3 325.4,1056.5 C325.2,1056.7 325.0,1056.9 324.8,1056.9 C324.6,1056.9 324.4,1056.7 324.2,1056.5 C324.0,1056.3 323.8,1055.9 323.7,1055.5 C323.5,1055.1 323.4,1054.5 323.3,1054.0 C323.3,1053.4 323.2,1052.8 323.2,1052.2 C323.2,1051.6 323.3,1051.0 323.3,1050.4 C323.4,1049.9 323.5,1049.3 323.7,1048.9 C323.8,1048.5 324.0,1048.1 324.2,1047.9 C324.4,1047.7 324.6,1047.5 324.8,1047.5 C325.0,1047.5 325.2,1047.7 325.4,1047.9 C325.6,1048.1 325.8,1048.5 325.9,1048.9 C326.1,1049.3 326.2,1049.9 326.3,1050.4 C326.3,1051.0 326.4,1051.6 326.4,1052.2Z" fill="none" stroke="#2020ff" stroke-width="0.7" stroke-opacity="0.38"/><path d="M344.9,1044.1 C345.2,1045.5 345.3,1046.9 345.2,1048.2 C345.2,1049.4 345.1,1050.7 344.8,1051.7 C344.5,1052.7 344.1,1053.6 343.6,1054.2 C343.1,1054.8 342.5,1055.2 341.8,1055.3 C341.2,1055.5 340.5,1055.3 339.8,1054.9 C339.1,1054.5 338.4,1053.8 337.8,1052.9 C337.2,1052.1 336.6,1050.9 336.1,1049.8 C335.7,1048.6 335.3,1047.2 335.1,1045.9 C334.8,1044.5 334.7,1043.1 334.8,1041.8 C334.8,1040.6 334.9,1039.3 335.2,1038.3 C335.5,1037.3 335.9,1036.4 336.4,1035.8 C336.9,1035.2 337.5,1034.8 338.2,1034.7 C338.8,1034.5 339.5,1034.7 340.2,1035.1 C340.9,1035.5 341.6,1036.2 342.2,1037.1 C342.8,1037.9 343.4,1039.1 343.9,1040.2 C344.3,1041.4 344.7,1042.8 344.9,1044.1Z" fill="none" stroke="#6060e0" stroke-width="0.7" stroke-opacity="0.60"/><path d="M343.4,1044.4 C343.6,1045.3 343.7,1046.3 343.7,1047.2 C343.7,1048.1 343.5,1049.0 343.3,1049.7 C343.1,1050.4 342.8,1051.0 342.5,1051.5 C342.2,1051.9 341.7,1052.2 341.3,1052.2 C340.8,1052.3 340.3,1052.2 339.9,1051.9 C339.4,1051.6 338.9,1051.1 338.5,1050.5 C338.0,1049.9 337.6,1049.2 337.3,1048.3 C337.0,1047.5 336.7,1046.5 336.6,1045.6 C336.4,1044.7 336.3,1043.7 336.3,1042.8 C336.3,1041.9 336.5,1041.0 336.7,1040.3 C336.9,1039.6 337.2,1039.0 337.5,1038.5 C337.8,1038.1 338.3,1037.8 338.7,1037.8 C339.2,1037.7 339.7,1037.8 340.1,1038.1 C340.6,1038.4 341.1,1038.9 341.5,1039.5 C342.0,1040.1 342.4,1040.8 342.7,1041.7 C343.0,1042.5 343.3,1043.5 343.4,1044.4Z" fill="none" stroke="#6060e0" stroke-width="0.7" stroke-opacity="0.48"/><path d="M342.0,1044.7 C342.1,1045.2 342.1,1045.8 342.1,1046.3 C342.1,1046.8 342.0,1047.3 341.9,1047.7 C341.8,1048.1 341.6,1048.4 341.4,1048.7 C341.2,1048.9 341.0,1049.1 340.7,1049.1 C340.5,1049.2 340.2,1049.1 339.9,1049.0 C339.7,1048.8 339.4,1048.5 339.1,1048.2 C338.9,1047.8 338.6,1047.4 338.5,1046.9 C338.3,1046.4 338.1,1045.9 338.0,1045.3 C337.9,1044.8 337.9,1044.2 337.9,1043.7 C337.9,1043.2 338.0,1042.7 338.1,1042.3 C338.2,1041.9 338.4,1041.6 338.6,1041.3 C338.8,1041.1 339.0,1040.9 339.3,1040.9 C339.5,1040.8 339.8,1040.9 340.1,1041.0 C340.3,1041.2 340.6,1041.5 340.9,1041.8 C341.1,1042.2 341.4,1042.6 341.5,1043.1 C341.7,1043.6 341.9,1044.1 342.0,1044.7Z" fill="none" stroke="#6060e0" stroke-width="0.7" stroke-opacity="0.38"/><path d="M339.7,1038.0 C341.7,1034.8 347.6,1033.4 351.5,1032.0 C355.4,1030.6 360.3,1029.6 363.4,1029.5 C366.5,1029.4 368.2,1029.2 370.2,1031.2 C372.2,1033.2 373.9,1037.5 375.3,1041.4 C376.7,1045.4 378.6,1051.2 378.6,1054.9 C378.6,1058.6 377.0,1061.1 375.3,1063.4 C373.6,1065.7 370.8,1067.2 368.5,1068.5 C366.2,1069.8 364.0,1071.6 361.7,1071.0 C359.4,1070.4 357.7,1067.2 354.9,1065.1 C352.1,1063.0 347.2,1060.6 344.7,1058.3 C342.2,1056.0 340.5,1054.9 339.7,1051.5 C338.9,1048.1 337.7,1041.2 339.7,1038.0Z" fill="#ff6060" fill-opacity="0.45"/><path d="M339.7,1038.0 C341.7,1034.8 347.6,1033.4 351.5,1032.0 C355.4,1030.6 360.3,1029.6 363.4,1029.5 C366.5,1029.4 368.2,1029.2 370.2,1031.2 C372.2,1033.2 373.9,1037.5 375.3,1041.4 C376.7,1045.4 378.6,1051.2 378.6,1054.9 C378.6,1058.6 377.0,1061.1 375.3,1063.4 C373.6,1065.7 370.8,1067.2 368.5,1068.5 C366.2,1069.8 364.0,1071.6 361.7,1071.0 C359.4,1070.4 357.7,1067.2 354.9,1065.1 C352.1,1063.0 347.2,1060.6 344.7,1058.3 C342.2,1056.0 340.5,1054.9 339.7,1051.5 C338.9,1048.1 337.7,1041.2 339.7,1038.0Z" fill="none" stroke="#f03030" stroke-width="0.6" stroke-opacity="0.60"/><path d="M343.1,1040.1 C344.8,1037.4 349.7,1036.2 353.0,1035.1 C356.3,1033.9 360.3,1033.1 362.9,1033.0 C365.5,1032.9 366.9,1032.7 368.5,1034.4 C370.2,1036.1 371.6,1039.6 372.8,1042.9 C374.0,1046.2 375.5,1051.1 375.5,1054.2 C375.5,1057.2 374.2,1059.3 372.8,1061.2 C371.4,1063.1 369.0,1064.4 367.1,1065.5 C365.2,1066.5 363.4,1068.0 361.5,1067.6 C359.6,1067.1 358.2,1064.4 355.8,1062.6 C353.4,1060.9 349.4,1058.9 347.3,1057.0 C345.2,1055.1 343.8,1054.1 343.1,1051.3 C342.4,1048.5 341.5,1042.8 343.1,1040.1Z" fill="none" stroke="#f03030" stroke-width="0.6" stroke-opacity="0.48"/><path d="M346.6,1042.1 C347.9,1040.0 351.8,1039.1 354.4,1038.1 C357.1,1037.2 360.3,1036.6 362.4,1036.5 C364.4,1036.4 365.6,1036.3 366.9,1037.6 C368.2,1038.9 369.4,1041.8 370.3,1044.4 C371.2,1047.0 372.5,1051.0 372.5,1053.4 C372.5,1055.8 371.4,1057.6 370.3,1059.1 C369.2,1060.6 367.3,1061.6 365.8,1062.5 C364.3,1063.3 362.7,1064.5 361.2,1064.1 C359.7,1063.8 358.6,1061.6 356.7,1060.2 C354.8,1058.8 351.6,1057.2 349.9,1055.7 C348.2,1054.2 347.1,1053.4 346.6,1051.1 C346.0,1048.9 345.3,1044.3 346.6,1042.1Z" fill="none" stroke="#f03030" stroke-width="0.6" stroke-opacity="0.38"/><path d="M350.0,1044.2 C351.0,1042.6 353.9,1041.9 355.9,1041.2 C357.9,1040.5 360.3,1040.0 361.8,1039.9 C363.4,1039.9 364.3,1039.8 365.2,1040.8 C366.2,1041.8 367.1,1043.9 367.8,1045.9 C368.5,1047.9 369.4,1050.8 369.4,1052.7 C369.4,1054.5 368.6,1055.8 367.8,1056.9 C367.0,1058.0 365.5,1058.8 364.4,1059.4 C363.3,1060.1 362.1,1061.0 361.0,1060.7 C359.9,1060.4 359.0,1058.8 357.6,1057.8 C356.2,1056.7 353.8,1055.5 352.5,1054.3 C351.2,1053.2 350.4,1052.6 350.0,1050.9 C349.6,1049.3 349.0,1045.8 350.0,1044.2Z" fill="none" stroke="#f03030" stroke-width="0.6" stroke-opacity="0.31"/><path d="M365.1,1029.5 C366.1,1027.9 368.2,1027.8 370.2,1026.9 C372.2,1026.1 375.1,1025.2 376.9,1024.4 C378.7,1023.6 379.8,1021.9 381.2,1021.9 C382.6,1021.9 384.5,1022.0 385.4,1024.4 C386.2,1026.8 386.0,1031.2 386.3,1036.3 C386.6,1041.4 387.1,1049.5 387.1,1054.9 C387.1,1060.3 386.9,1064.0 386.3,1068.5 C385.7,1073.0 385.0,1078.0 383.7,1082.0 C382.4,1086.0 380.0,1091.1 378.6,1092.2 C377.2,1093.3 375.6,1091.1 375.3,1088.8 C375.0,1086.5 376.3,1082.5 376.9,1078.6 C377.4,1074.6 378.6,1068.5 378.6,1065.1 C378.6,1061.7 378.0,1060.6 376.9,1058.3 C375.8,1056.0 373.6,1053.8 371.9,1051.5 C370.2,1049.2 368.1,1047.2 366.8,1044.7 C365.5,1042.2 364.5,1038.8 364.2,1036.3 C363.9,1033.8 364.1,1031.1 365.1,1029.5Z" fill="#9090ff" fill-opacity="0.3" stroke="#2020ff" stroke-width="1.1" stroke-opacity="0.8"/><path d="M367.7,1033.6 C368.5,1032.3 370.2,1032.2 371.8,1031.5 C373.3,1030.8 375.7,1030.2 377.1,1029.5 C378.6,1028.9 379.4,1027.5 380.6,1027.5 C381.7,1027.5 383.2,1027.6 383.9,1029.5 C384.6,1031.4 384.4,1035.0 384.6,1039.0 C384.9,1043.1 385.3,1049.6 385.3,1053.9 C385.3,1058.2 385.1,1061.2 384.6,1064.8 C384.2,1068.4 383.6,1072.4 382.6,1075.6 C381.5,1078.8 379.6,1082.9 378.5,1083.8 C377.4,1084.7 376.1,1082.9 375.8,1081.0 C375.6,1079.2 376.7,1076.0 377.1,1072.9 C377.6,1069.7 378.5,1064.8 378.5,1062.1 C378.5,1059.4 378.0,1058.5 377.1,1056.6 C376.2,1054.8 374.5,1053.0 373.1,1051.2 C371.8,1049.4 370.1,1047.8 369.0,1045.8 C368.0,1043.7 367.2,1041.1 367.0,1039.0 C366.7,1037.0 366.9,1034.9 367.7,1033.6Z" fill="none" stroke="#2020ff" stroke-width="0.7" stroke-opacity="0.5"/><path d="M395.6,1044.7 C396.7,1042.2 398.7,1040.1 400.7,1038.0 C402.7,1035.9 405.8,1032.8 407.5,1032.0 C409.2,1031.2 409.8,1031.3 410.8,1032.9 C411.8,1034.5 412.7,1038.3 413.4,1041.4 C414.1,1044.5 414.7,1048.1 415.1,1051.5 C415.5,1054.9 416.3,1058.9 415.9,1061.7 C415.5,1064.5 414.2,1067.7 412.5,1068.5 C410.8,1069.3 408.1,1067.2 405.8,1066.8 C403.6,1066.4 400.9,1066.8 399.0,1065.9 C397.1,1065.1 395.6,1063.8 394.7,1061.7 C393.8,1059.6 393.8,1056.0 393.9,1053.2 C394.0,1050.4 394.5,1047.2 395.6,1044.7Z" fill="#9090ff" fill-opacity="0.3"/><path d="M395.6,1044.7 C396.7,1042.2 398.7,1040.1 400.7,1038.0 C402.7,1035.9 405.8,1032.8 407.5,1032.0 C409.2,1031.2 409.8,1031.3 410.8,1032.9 C411.8,1034.5 412.7,1038.3 413.4,1041.4 C414.1,1044.5 414.7,1048.1 415.1,1051.5 C415.5,1054.9 416.3,1058.9 415.9,1061.7 C415.5,1064.5 414.2,1067.7 412.5,1068.5 C410.8,1069.3 408.1,1067.2 405.8,1066.8 C403.6,1066.4 400.9,1066.8 399.0,1065.9 C397.1,1065.1 395.6,1063.8 394.7,1061.7 C393.8,1059.6 393.8,1056.0 393.9,1053.2 C394.0,1050.4 394.5,1047.2 395.6,1044.7Z" fill="none" stroke="#2020ff" stroke-width="0.8" stroke-opacity="0.85"/><path d="M397.2,1045.8 C398.2,1043.7 399.8,1042.0 401.5,1040.3 C403.1,1038.5 405.7,1036.0 407.2,1035.3 C408.6,1034.5 409.1,1034.7 409.9,1036.0 C410.7,1037.3 411.5,1040.5 412.1,1043.1 C412.7,1045.7 413.1,1048.7 413.5,1051.5 C413.8,1054.3 414.5,1057.6 414.2,1060.0 C413.8,1062.4 412.7,1065.0 411.3,1065.7 C409.9,1066.4 407.6,1064.6 405.7,1064.3 C403.9,1063.9 401.6,1064.2 400.1,1063.5 C398.5,1062.8 397.2,1061.8 396.5,1060.0 C395.8,1058.2 395.7,1055.3 395.8,1052.9 C395.9,1050.6 396.3,1047.9 397.2,1045.8Z" fill="none" stroke="#2020ff" stroke-width="0.8" stroke-opacity="0.68"/><path d="M398.9,1047.0 C399.6,1045.3 400.9,1043.9 402.3,1042.5 C403.6,1041.1 405.7,1039.1 406.8,1038.5 C407.9,1037.9 408.3,1038.1 409.0,1039.1 C409.7,1040.2 410.3,1042.7 410.7,1044.8 C411.2,1046.8 411.6,1049.3 411.9,1051.5 C412.1,1053.8 412.7,1056.4 412.4,1058.3 C412.1,1060.2 411.3,1062.3 410.1,1062.8 C409.0,1063.4 407.2,1062.0 405.7,1061.7 C404.2,1061.4 402.4,1061.7 401.1,1061.1 C399.9,1060.5 398.8,1059.7 398.3,1058.3 C397.7,1056.9 397.6,1054.5 397.7,1052.6 C397.8,1050.8 398.1,1048.7 398.9,1047.0Z" fill="none" stroke="#2020ff" stroke-width="0.8" stroke-opacity="0.54"/><path d="M400.5,1048.1 C401.1,1046.8 402.1,1045.8 403.1,1044.8 C404.0,1043.7 405.6,1042.2 406.5,1041.8 C407.3,1041.3 407.6,1041.4 408.1,1042.2 C408.6,1043.0 409.0,1044.9 409.4,1046.5 C409.8,1048.0 410.0,1049.8 410.3,1051.5 C410.5,1053.2 410.9,1055.2 410.7,1056.6 C410.4,1058.0 409.8,1059.6 409.0,1060.0 C408.1,1060.4 406.7,1059.4 405.6,1059.2 C404.5,1058.9 403.1,1059.1 402.2,1058.7 C401.3,1058.3 400.5,1057.7 400.1,1056.6 C399.6,1055.6 399.6,1053.8 399.7,1052.4 C399.7,1050.9 399.9,1049.4 400.5,1048.1Z" fill="none" stroke="#2020ff" stroke-width="0.8" stroke-opacity="0.44"/><path d="M407.5,1059.0 C407.5,1059.5 407.4,1060.1 407.3,1060.5 C407.2,1061.0 407.0,1061.5 406.8,1061.8 C406.5,1062.2 406.3,1062.5 406.0,1062.7 C405.7,1062.9 405.3,1063.0 405.0,1063.0 C404.7,1063.0 404.3,1062.9 404.0,1062.7 C403.7,1062.5 403.5,1062.2 403.2,1061.8 C403.0,1061.5 402.8,1061.0 402.7,1060.5 C402.6,1060.1 402.5,1059.5 402.5,1059.0 C402.5,1058.5 402.6,1057.9 402.7,1057.5 C402.8,1057.0 403.0,1056.5 403.2,1056.2 C403.5,1055.8 403.7,1055.5 404.0,1055.3 C404.3,1055.1 404.7,1055.0 405.0,1055.0 C405.3,1055.0 405.7,1055.1 406.0,1055.3 C406.3,1055.5 406.5,1055.8 406.8,1056.2 C407.0,1056.5 407.2,1057.0 407.3,1057.5 C407.4,1057.9 407.5,1058.5 407.5,1059.0Z" fill="none" stroke="#ff3030" stroke-width="0.7" stroke-opacity="0.60"/><path d="M405.6,1059.0 C405.6,1059.1 405.6,1059.3 405.6,1059.4 C405.5,1059.5 405.5,1059.6 405.4,1059.7 C405.4,1059.8 405.3,1059.9 405.2,1059.9 C405.2,1060.0 405.1,1060.0 405.0,1060.0 C404.9,1060.0 404.8,1060.0 404.8,1059.9 C404.7,1059.9 404.6,1059.8 404.6,1059.7 C404.5,1059.6 404.5,1059.5 404.4,1059.4 C404.4,1059.3 404.4,1059.1 404.4,1059.0 C404.4,1058.9 404.4,1058.7 404.4,1058.6 C404.5,1058.5 404.5,1058.4 404.6,1058.3 C404.6,1058.2 404.7,1058.1 404.8,1058.1 C404.8,1058.0 404.9,1058.0 405.0,1058.0 C405.1,1058.0 405.2,1058.0 405.2,1058.1 C405.3,1058.1 405.4,1058.2 405.4,1058.3 C405.5,1058.4 405.5,1058.5 405.6,1058.6 C405.6,1058.7 405.6,1058.9 405.6,1059.0Z" fill="none" stroke="#ff3030" stroke-width="0.7" stroke-opacity="0.48"/><path d="M366.4,1006.0 C366.6,1006.8 366.6,1007.7 366.6,1008.5 C366.6,1009.3 366.4,1010.1 366.2,1010.7 C366.0,1011.3 365.7,1011.9 365.3,1012.3 C364.9,1012.7 364.5,1012.9 364.0,1013.0 C363.6,1013.1 363.1,1013.0 362.6,1012.8 C362.1,1012.5 361.6,1012.1 361.2,1011.6 C360.8,1011.0 360.4,1010.4 360.1,1009.6 C359.8,1008.9 359.5,1008.0 359.4,1007.2 C359.2,1006.4 359.2,1005.5 359.2,1004.7 C359.2,1003.9 359.4,1003.1 359.6,1002.5 C359.8,1001.9 360.1,1001.3 360.5,1000.9 C360.9,1000.5 361.3,1000.3 361.8,1000.2 C362.2,1000.1 362.7,1000.2 363.2,1000.4 C363.7,1000.7 364.2,1001.1 364.6,1001.6 C365.0,1002.2 365.4,1002.8 365.7,1003.6 C366.0,1004.3 366.3,1005.2 366.4,1006.0Z" fill="none" stroke="#ff3030" stroke-width="0.6" stroke-opacity="0.50"/><path d="M363.8,1006.4 C363.8,1006.6 363.8,1006.9 363.8,1007.1 C363.8,1007.3 363.8,1007.5 363.7,1007.6 C363.7,1007.8 363.6,1007.9 363.5,1008.0 C363.4,1008.1 363.3,1008.2 363.2,1008.2 C363.1,1008.2 362.9,1008.2 362.8,1008.1 C362.7,1008.1 362.6,1008.0 362.5,1007.8 C362.4,1007.7 362.3,1007.5 362.2,1007.4 C362.1,1007.2 362.0,1007.0 362.0,1006.8 C362.0,1006.6 362.0,1006.3 362.0,1006.1 C362.0,1005.9 362.0,1005.7 362.1,1005.6 C362.1,1005.4 362.2,1005.3 362.3,1005.2 C362.4,1005.1 362.5,1005.0 362.6,1005.0 C362.7,1005.0 362.9,1005.0 363.0,1005.1 C363.1,1005.1 363.2,1005.2 363.3,1005.4 C363.4,1005.5 363.5,1005.7 363.6,1005.8 C363.7,1006.0 363.8,1006.2 363.8,1006.4Z" fill="none" stroke="#ff3030" stroke-width="0.6" stroke-opacity="0.40"/><path d="M337.8,1088.4 C337.8,1088.9 337.7,1089.4 337.6,1089.8 C337.5,1090.2 337.3,1090.6 337.1,1090.9 C336.9,1091.3 336.7,1091.6 336.4,1091.7 C336.1,1091.9 335.8,1092.0 335.5,1092.0 C335.2,1092.0 334.9,1091.9 334.6,1091.7 C334.3,1091.6 334.1,1091.3 333.9,1090.9 C333.7,1090.6 333.5,1090.2 333.4,1089.8 C333.3,1089.4 333.2,1088.9 333.2,1088.4 C333.2,1087.9 333.3,1087.4 333.4,1087.0 C333.5,1086.6 333.7,1086.2 333.9,1085.9 C334.1,1085.5 334.3,1085.2 334.6,1085.1 C334.9,1084.9 335.2,1084.8 335.5,1084.8 C335.8,1084.8 336.1,1084.9 336.4,1085.1 C336.7,1085.2 336.9,1085.5 337.1,1085.9 C337.3,1086.2 337.5,1086.6 337.6,1087.0 C337.7,1087.4 337.8,1087.9 337.8,1088.4Z" fill="none" stroke="#ff3030" stroke-width="0.6" stroke-opacity="0.50"/><path d="M321.7,1098.0 C321.7,1098.7 321.6,1099.5 321.4,1100.2 C321.1,1100.9 320.8,1101.6 320.4,1102.1 C320.0,1102.6 319.5,1103.1 318.9,1103.4 C318.4,1103.6 317.8,1103.8 317.2,1103.8 C316.6,1103.8 316.0,1103.6 315.5,1103.4 C314.9,1103.1 314.4,1102.6 314.0,1102.1 C313.6,1101.6 313.3,1100.9 313.0,1100.2 C312.8,1099.5 312.7,1098.7 312.7,1098.0 C312.7,1097.3 312.8,1096.5 313.0,1095.8 C313.3,1095.1 313.6,1094.4 314.0,1093.9 C314.4,1093.4 314.9,1092.9 315.5,1092.6 C316.0,1092.4 316.6,1092.2 317.2,1092.2 C317.8,1092.2 318.4,1092.4 318.9,1092.6 C319.5,1092.9 320.0,1093.4 320.4,1093.9 C320.8,1094.4 321.1,1095.1 321.4,1095.8 C321.6,1096.5 321.7,1097.3 321.7,1098.0Z" fill="none" stroke="#ff3030" stroke-width="0.6" stroke-opacity="0.55"/><path d="M318.3,1098.0 C318.3,1098.2 318.3,1098.4 318.2,1098.6 C318.2,1098.7 318.1,1098.9 318.0,1099.0 C317.9,1099.2 317.8,1099.3 317.6,1099.3 C317.5,1099.4 317.3,1099.5 317.2,1099.5 C317.1,1099.5 316.9,1099.4 316.8,1099.3 C316.6,1099.3 316.5,1099.2 316.4,1099.0 C316.3,1098.9 316.2,1098.7 316.2,1098.6 C316.1,1098.4 316.1,1098.2 316.1,1098.0 C316.1,1097.8 316.1,1097.6 316.2,1097.4 C316.2,1097.3 316.3,1097.1 316.4,1097.0 C316.5,1096.8 316.6,1096.7 316.8,1096.7 C316.9,1096.6 317.1,1096.5 317.2,1096.5 C317.3,1096.5 317.5,1096.6 317.6,1096.7 C317.8,1096.7 317.9,1096.8 318.0,1097.0 C318.1,1097.1 318.2,1097.3 318.2,1097.4 C318.3,1097.6 318.3,1097.8 318.3,1098.0Z" fill="none" stroke="#ff3030" stroke-width="0.6" stroke-opacity="0.44"/><path d="M239.60,240.70 C239.03,241.24 237.05,242.26 236.20,243.96 C235.36,245.65 234.95,247.87 234.55,250.87 C234.15,253.86 234.18,258.55 233.82,261.92 C233.45,265.30 233.04,268.75 232.35,271.10 C231.66,273.46 230.53,274.71 229.69,276.04 C228.85,277.37 228.02,278.18 227.30,279.10 C228.13,280.09 229.23,280.58 230.05,282.39 C230.88,284.20 231.75,286.83 232.26,289.97 C232.76,293.11 232.73,298.00 233.08,301.24 C233.43,304.48 233.82,307.31 234.37,309.42 C234.92,311.53 235.56,312.73 236.39,313.91 C237.21,315.09 238.84,316.07 239.32,316.50" fill="none" stroke="#000" stroke-width="4.1" stroke-linecap="round" stroke-linejoin="miter"/><path d="M243.80,373.60 C243.28,373.98 241.47,374.69 240.71,375.87 C239.94,377.04 239.57,378.59 239.20,380.67 C238.84,382.75 238.87,386.01 238.53,388.36 C238.20,390.70 237.82,393.10 237.20,394.74 C236.57,396.38 235.54,397.25 234.77,398.17 C234.01,399.10 233.25,399.66 232.60,400.30 C233.35,400.97 234.36,401.31 235.11,402.54 C235.86,403.78 236.65,405.57 237.11,407.71 C237.57,409.85 237.55,413.19 237.87,415.40 C238.19,417.61 238.53,419.53 239.04,420.97 C239.54,422.41 240.12,423.23 240.87,424.03 C241.63,424.84 243.10,425.51 243.55,425.80" fill="none" stroke="#000" stroke-width="4.1" stroke-linecap="round" stroke-linejoin="miter"/><path d="M243.80,441.50 C243.28,441.90 241.47,442.66 240.71,443.93 C239.94,445.19 239.57,446.84 239.20,449.07 C238.84,451.30 238.87,454.80 238.53,457.31 C238.20,459.82 237.82,462.39 237.20,464.14 C236.57,465.90 235.54,466.83 234.77,467.82 C234.01,468.81 233.25,469.42 232.60,470.10 C233.35,470.86 234.36,471.24 235.11,472.63 C235.86,474.02 236.65,476.03 237.11,478.44 C237.57,480.85 237.55,484.60 237.87,487.09 C238.19,489.58 238.53,491.75 239.04,493.37 C239.54,494.99 240.12,495.90 240.87,496.81 C241.63,497.72 243.10,498.47 243.55,498.80" fill="none" stroke="#000" stroke-width="4.1" stroke-linecap="round" stroke-linejoin="miter"/><path d="M244.30,734.10 C243.74,734.63 241.77,735.61 240.93,737.26 C240.10,738.90 239.69,741.05 239.29,743.95 C238.90,746.85 238.93,751.39 238.56,754.66 C238.20,757.93 237.79,761.27 237.11,763.55 C236.42,765.83 235.30,767.04 234.47,768.34 C233.63,769.63 232.81,770.41 232.10,771.30 C232.92,772.31 234.01,772.81 234.83,774.67 C235.65,776.53 236.52,779.22 237.02,782.43 C237.52,785.65 237.49,790.65 237.84,793.97 C238.18,797.29 238.56,800.19 239.11,802.35 C239.66,804.51 240.29,805.74 241.11,806.94 C241.93,808.15 243.54,809.16 244.03,809.60" fill="none" stroke="#000" stroke-width="4.1" stroke-linecap="round" stroke-linejoin="miter"/><path d="M239.70,824.80 C239.13,825.59 237.15,827.06 236.30,829.52 C235.46,831.97 235.05,835.19 234.65,839.52 C234.25,843.86 234.28,850.65 233.92,855.53 C233.55,860.41 233.14,865.42 232.45,868.82 C231.76,872.23 230.63,874.04 229.79,875.97 C228.95,877.90 228.12,879.07 227.40,880.40 C228.23,881.89 229.33,882.63 230.15,885.37 C230.98,888.11 231.85,892.08 232.36,896.82 C232.86,901.57 232.83,908.95 233.18,913.85 C233.53,918.74 233.92,923.01 234.47,926.20 C235.02,929.39 235.66,931.20 236.49,932.98 C237.31,934.77 238.94,936.25 239.42,936.90" fill="none" stroke="#000" stroke-width="4.1" stroke-linecap="round" stroke-linejoin="miter"/><path d="M239.90,1007.90 C239.33,1008.43 237.32,1009.43 236.48,1011.09 C235.63,1012.75 235.21,1014.92 234.81,1017.86 C234.41,1020.79 234.44,1025.38 234.07,1028.68 C233.70,1031.98 233.28,1035.37 232.59,1037.67 C231.90,1039.97 230.75,1041.20 229.91,1042.50 C229.06,1043.81 228.22,1044.60 227.50,1045.50 C228.33,1046.53 229.44,1047.04 230.28,1048.92 C231.11,1050.81 231.99,1053.54 232.50,1056.81 C233.01,1060.07 232.98,1065.16 233.33,1068.53 C233.68,1071.90 234.07,1074.84 234.63,1077.03 C235.18,1079.23 235.83,1080.48 236.66,1081.70 C237.49,1082.93 239.13,1083.95 239.62,1084.40" fill="none" stroke="#000" stroke-width="4.1" stroke-linecap="round" stroke-linejoin="miter"/></svg>
<svg width="1015" height="160" viewBox="0 0 1015 160"><rect x="3.8" y="147.9" width="15.4" height="1.6" fill="#888"/><circle cx="77.1" cy="53.9" r="1.0" fill="#000"/><circle cx="90.1" cy="53.9" r="1.0" fill="#000"/><circle cx="102.8" cy="53.9" r="1.0" fill="#000"/><circle cx="899.5" cy="99.2" r="1.0" fill="#000"/><circle cx="912.2" cy="99.2" r="1.0" fill="#000"/><circle cx="925.8" cy="99.2" r="1.0" fill="#000"/></svg>
<div class="t" style="font-family:'Liberation Serif';color:#111;transform:matrix(0.2486,0.0000,0.0000,0.2433,101.8373,-1.7358)">168</div>
<div class="t" style="font-family:'Liberation Serif';color:#111;transform:matrix(0.2486,0.0000,0.0000,0.2433,171.7873,-1.7358)">169</div>
<div class="t" style="font-family:'Liberation Serif';color:#111;transform:matrix(0.2486,0.0000,0.0000,0.2433,228.9373,-1.7358)">170</div>
<div class="t" style="font-family:'Liberation Serif';color:#111;transform:matrix(0.2486,0.0000,0.0000,0.2433,292.0359,-1.7358)">171</div>
<div class="t" style="font-family:'Liberation Serif';color:#111;transform:matrix(0.2486,0.0000,0.0000,0.2433,355.9116,-1.7358)">172</div>
<div class="t" style="font-family:'Liberation Serif';color:#111;transform:matrix(0.2486,0.0000,0.0000,0.2433,412.4873,-1.7358)">173</div>
<div class="t" style="font-family:'Liberation Serif';color:#111;transform:matrix(0.2486,0.0000,0.0000,0.2433,469.9145,-1.7358)">174</div>
<div class="t" style="font-family:'Liberation Serif';color:#111;transform:matrix(0.2486,0.0000,0.0000,0.2433,526.9373,-1.7358)">175</div>
<div class="t" style="font-family:'Liberation Serif';color:#111;transform:matrix(0.2486,0.0000,0.0000,0.2433,584.9130,-1.7358)">176</div>
<div class="t" style="font-family:'Liberation Serif';color:#111;transform:matrix(0.2486,0.0000,0.0000,0.2433,654.1630,-1.7358)">177</div>
<div class="t" style="font-family:'Liberation Serif';color:#111;transform:matrix(0.2486,0.0000,0.0000,0.2433,718.0873,-1.7358)">178</div>
<div class="t" style="font-family:'Liberation Serif';color:#111;transform:matrix(0.2486,0.0000,0.0000,0.2433,787.8373,-1.7358)">179</div>
<div class="t" style="font-family:'Liberation Serif';color:#111;transform:matrix(0.2486,0.0000,0.0000,0.2433,844.2373,-1.7358)">180</div>
<div class="t" style="font-family:'Liberation Serif';color:#111;transform:matrix(0.2509,0.0000,0.0000,0.2478,105.6918,129.0881)">180’</div>
<div class="t" style="font-family:'Liberation Serif';color:#111;transform:matrix(0.2509,0.0000,0.0000,0.2478,175.5418,129.0881)">179’</div>
<div class="t" style="font-family:'Liberation Serif';color:#111;transform:matrix(0.2509,0.0000,0.0000,0.2478,232.2418,129.0881)">178’</div>
<div class="t" style="font-family:'Liberation Serif';color:#111;transform:matrix(0.2509,0.0000,0.0000,0.2478,290.5418,129.0881)">177’</div>
<div class="t" style="font-family:'Liberation Serif';color:#111;transform:matrix(0.2509,0.0000,0.0000,0.2478,354.5418,129.0881)">176’</div>
<div class="t" style="font-family:'Liberation Serif';color:#111;transform:matrix(0.2509,0.0000,0.0000,0.2478,410.2418,129.0881)">175’</div>
<div class="t" style="font-family:'Liberation Serif';color:#111;transform:matrix(0.2509,0.0000,0.0000,0.2478,476.1418,129.0881)">174’</div>
<div class="t" style="font-family:'Liberation Serif';color:#111;transform:matrix(0.2509,0.0000,0.0000,0.2478,539.4918,129.0881)">173’</div>
<div class="t" style="font-family:'Liberation Serif';color:#111;transform:matrix(0.2509,0.0000,0.0000,0.2478,596.4918,129.0881)">172’</div>
<div class="t" style="font-family:'Liberation Serif';color:#111;transform:matrix(0.2509,0.0000,0.0000,0.2478,660.5418,129.0881)">171’</div>
<div class="t" style="font-family:'Liberation Serif';color:#111;transform:matrix(0.2509,0.0000,0.0000,0.2478,730.8418,129.0881)">170’</div>
<div class="t" style="font-family:'Liberation Serif';color:#111;transform:matrix(0.2509,0.0000,0.0000,0.2478,794.8418,129.0881)">169’</div>
<div class="t" style="font-family:'Liberation Serif';color:#111;transform:matrix(0.2509,0.0000,0.0000,0.2478,857.6418,129.0881)">168’</div>
<div class="t" style="font-family:'Liberation Serif';color:#111;transform:matrix(0.2408,0.0000,0.0000,0.2727,112.5816,33.3909)">W</div>
<div class="t" style="font-family:'Liberation Serif';color:#111;transform:matrix(0.2408,0.0000,0.0000,0.2727,181.1776,33.3909)">P</div>
<div class="t" style="font-family:'Liberation Serif';color:#111;transform:matrix(0.2408,0.0000,0.0000,0.2727,244.3602,33.3909)">A</div>
<div class="t" style="font-family:'Liberation Serif';color:#0000d0;transform:matrix(0.2408,0.0000,0.0000,0.2727,308.9347,33.3909)">T</div>
<div class="t" style="font-family:'Liberation Serif';color:#111;transform:matrix(0.2408,0.0000,0.0000,0.2727,370.2510,33.3909)">D</div>
<div class="t" style="font-family:'Liberation Serif';color:#111;transform:matrix(0.2408,0.0000,0.0000,0.2727,425.3898,33.3909)">K</div>
<div class="t" style="font-family:'Liberation Serif';color:#0000d0;transform:matrix(0.2408,0.0000,0.0000,0.2727,488.7347,33.3909)">T</div>
<div class="t" style="font-family:'Liberation Serif';color:#111;transform:matrix(0.2408,0.0000,0.0000,0.2727,547.4898,33.3909)">K</div>
<div class="t" style="font-family:'Liberation Serif';color:#111;transform:matrix(0.2408,0.0000,0.0000,0.2727,600.7714,33.3909)">R</div>
<div class="t" style="font-family:'Liberation Serif';color:#111;transform:matrix(0.2408,0.0000,0.0000,0.2727,674.5959,33.3909)">E</div>
<div class="t" style="font-family:'Liberation Serif';color:#111;transform:matrix(0.2408,0.0000,0.0000,0.2727,738.5959,33.3909)">E</div>
<div class="t" style="font-family:'Liberation Serif';color:#111;transform:matrix(0.2408,0.0000,0.0000,0.2727,801.5806,33.3909)">V</div>
<div class="t" style="font-family:'Liberation Serif';color:#111;transform:matrix(0.2408,0.0000,0.0000,0.2727,865.7010,33.3909)">D</div>
<div class="t" style="font-family:'Liberation Serif';color:#111;transform:matrix(0.2415,0.0000,0.0000,0.2727,114.0754,78.5909)">D</div>
<div class="t" style="font-family:'Liberation Serif';color:#111;transform:matrix(0.2415,0.0000,0.0000,0.2727,179.9546,78.5909)">V</div>
<div class="t" style="font-family:'Liberation Serif';color:#111;transform:matrix(0.2415,0.0000,0.0000,0.2727,242.9746,78.5909)">E</div>
<div class="t" style="font-family:'Liberation Serif';color:#111;transform:matrix(0.2415,0.0000,0.0000,0.2727,306.9746,78.5909)">E</div>
<div class="t" style="font-family:'Liberation Serif';color:#111;transform:matrix(0.2415,0.0000,0.0000,0.2727,368.2462,78.5909)">R</div>
<div class="t" style="font-family:'Liberation Serif';color:#111;transform:matrix(0.2415,0.0000,0.0000,0.2727,424.8131,78.5909)">K</div>
<div class="t" style="font-family:'Liberation Serif';color:#0000d0;transform:matrix(0.2415,0.0000,0.0000,0.2727,490.7123,78.5909)">T</div>
<div class="t" style="font-family:'Liberation Serif';color:#111;transform:matrix(0.2415,0.0000,0.0000,0.2727,547.1131,78.5909)">K</div>
<div class="t" style="font-family:'Liberation Serif';color:#111;transform:matrix(0.2415,0.0000,0.0000,0.2727,601.7754,78.5909)">D</div>
<div class="t" style="font-family:'Liberation Serif';color:#0000d0;transform:matrix(0.2415,0.0000,0.0000,0.2727,674.5123,78.5909)">T</div>
<div class="t" style="font-family:'Liberation Serif';color:#111;transform:matrix(0.2415,0.0000,0.0000,0.2727,739.1838,78.5909)">A</div>
<div class="t" style="font-family:'Liberation Serif';color:#111;transform:matrix(0.2415,0.0000,0.0000,0.2727,804.1577,78.5909)">P</div>
<div class="t" style="font-family:'Liberation Serif';color:#111;transform:matrix(0.2415,0.0000,0.0000,0.2727,866.4977,78.5909)">W</div>
<div class="t" style="font-family:'Liberation Sans';font-weight:bold;color:#000;transform:matrix(0.2822,0.0000,0.0000,0.3915,144.1178,254.0268)">T-C</div>
<div class="t" style="font-family:'Liberation Serif';color:#333;-webkit-text-stroke:2px #fff;transform:matrix(0.2625,0.0000,0.0000,0.3846,193.1375,255.6846)">γ</div>
<div class="t" style="font-family:'Liberation Sans';font-weight:bold;color:#000;transform:matrix(0.2863,0.0000,0.0000,0.3986,146.4958,370.6211)">R-C</div>
<div class="t" style="font-family:'Liberation Serif';color:#333;-webkit-text-stroke:2px #fff;transform:matrix(0.2750,0.0000,0.0000,0.3846,200.1250,372.2846)">γ</div>
<div class="t" style="font-family:'Liberation Sans';font-weight:bold;color:#000;transform:matrix(0.2899,0.0000,0.0000,0.3887,142.6708,441.8690)">R-C</div>
<div class="t" style="font-family:'Liberation Serif';color:#333;-webkit-text-stroke:2px #fff;transform:matrix(0.3128,0.0000,0.0000,0.3899,196.3103,442.8416)">β</div>
<div class="t" style="font-family:'Liberation Sans';font-weight:bold;color:#000;transform:matrix(0.2982,0.0000,0.0000,0.3958,142.3125,744.9634)">R-C</div>
<div class="t" style="font-family:'Liberation Serif';color:#333;-webkit-text-stroke:2px #fff;transform:matrix(0.3477,0.0000,0.0000,0.3717,195.7614,748.1457)">α</div>
<div class="t" style="font-family:'Liberation Sans';font-weight:bold;color:#000;transform:matrix(0.2898,0.0000,0.0000,0.3972,144.1102,851.2423)">T-C</div>
<div class="t" style="font-family:'Liberation Serif';color:#333;-webkit-text-stroke:2px #fff;transform:matrix(0.3705,0.0000,0.0000,0.3739,191.0477,854.3652)">α</div>
<div class="t" style="font-family:'Liberation Sans';font-weight:bold;color:#000;transform:matrix(0.2815,0.0000,0.0000,0.3901,142.5185,1019.0479)">T-C</div>
<div class="t" style="font-family:'Liberation Serif';color:#333;-webkit-text-stroke:2px #fff;transform:matrix(0.2974,0.0000,0.0000,0.3820,190.0179,1021.5517)">β</div>
<div class="t" style="font-family:'Liberation Sans';color:#2c0a44;-webkit-text-stroke:2.2px #2c0a44;transform:matrix(0.3244,0.0000,0.0000,0.4890,451.8293,258.8534)">RC’-TC</div>
<div class="t" style="font-family:'Liberation Serif';color:#2c0a44;transform:matrix(0.3500,0.0000,0.0000,0.4701,562.1000,260.9045)">γ</div>
<div class="t" style="font-family:'Liberation Sans';color:#2c0a44;-webkit-text-stroke:2.2px #2c0a44;transform:matrix(0.3264,0.0000,0.0000,0.4658,448.6736,428.2795)">TC’-RC</div>
<div class="t" style="font-family:'Liberation Serif';color:#2c0a44;transform:matrix(0.3095,0.0000,0.0000,0.4821,559.6000,427.8627)">γ</div>
<div class="t" style="font-family:'Liberation Sans';color:#2c0a44;-webkit-text-stroke:2.2px #2c0a44;transform:matrix(0.3264,0.0000,0.0000,0.4548,448.6736,499.6329)">TC’-RC</div>
<div class="t" style="font-family:'Liberation Serif';color:#2c0a44;transform:matrix(0.3780,0.0000,0.0000,0.4747,559.0317,499.8286)">β</div>
<div class="t" style="font-family:'Liberation Sans';color:#2c0a44;-webkit-text-stroke:2.2px #2c0a44;transform:matrix(0.3333,0.0000,0.0000,0.4740,448.6667,586.7644)">TC’-RC</div>
<div class="t" style="font-family:'Liberation Serif';color:#2c0a44;transform:matrix(0.3744,0.0000,0.0000,0.4634,559.5026,589.0761)">δ</div>
<div class="t" style="font-family:'Liberation Sans';color:#2c0a44;-webkit-text-stroke:2.2px #2c0a44;transform:matrix(0.3279,0.0000,0.0000,0.4863,446.8721,707.3918)">TC’-RC</div>
<div class="t" style="font-family:'Liberation Serif';color:#2c0a44;transform:matrix(0.3913,0.0000,0.0000,0.4854,556.8348,708.9250)">α</div>
<div class="t" style="font-family:'Liberation Sans';color:#2c0a44;-webkit-text-stroke:2.2px #2c0a44;transform:matrix(0.3299,0.0000,0.0000,0.4890,446.6904,858.8534)">RC’-TC</div>
<div class="t" style="font-family:'Liberation Serif';color:#2c0a44;transform:matrix(0.3935,0.0000,0.0000,0.4812,557.1261,860.9750)">α</div>
<div class="t" style="font-family:'Liberation Sans';font-weight:bold;color:#1010f0;transform:matrix(0.4347,0.0000,0.0000,0.4028,658.8570,369.2577)">M180-T</div>
<div class="t" style="font-family:'Liberation Sans';font-weight:bold;color:#76a030;transform:matrix(0.4303,0.0000,0.0000,0.4070,658.8876,426.5944)">M180-R</div>
<div class="t" style="font-family:'Liberation Sans';font-weight:bold;color:#ff2010;transform:matrix(0.4347,0.0000,0.0000,0.4054,658.8570,484.1351)">M180-T/R</div>
<div class="t" style="font-family:'Liberation Sans';-webkit-text-stroke:1.8px #fff;color:#111;transform:matrix(0.2786,0.0000,0.0000,0.3420,262.6714,1113.2275)">176</div>
<div class="t" style="font-family:'Liberation Sans';-webkit-text-stroke:1.8px #fff;color:#111;transform:matrix(0.2697,0.0000,0.0000,0.3309,322.0426,1113.2059)">174</div>
<div class="t" style="font-family:'Liberation Sans';-webkit-text-stroke:1.8px #fff;color:#111;transform:matrix(0.2817,0.0000,0.0000,0.3353,375.7464,1113.2353)">172</div>
<div class="t" style="font-family:'Liberation Sans';color:#333;transform:matrix(0.1677,0.0000,0.0000,0.1704,284.3586,1155.0437)">13</div>
<div class="t" style="font-family:'Liberation Sans';-webkit-text-stroke:1.8px #fff;color:#111;transform:matrix(0.3000,0.0000,0.0000,0.3942,304.3000,1157.4928)">C</div>
<div class="t" style="font-family:'Liberation Sans';-webkit-text-stroke:1.8px #fff;color:#111;transform:matrix(0.2834,0.0000,0.0000,0.4076,343.9162,1157.5011)">(ppm)</div>
<div class="t" style="font-family:'Liberation Sans';color:#333;transform:matrix(0.0000,-0.2182,0.1549,0.0000,190.4761,723.1455)">13</div>
<div class="t" style="font-family:'Liberation Sans';-webkit-text-stroke:1.8px #fff;color:#111;transform:matrix(0.0000,-0.4344,0.3014,0.0000,195.2768,704.5066)">C</div>
<div class="t" style="font-family:'Liberation Sans';-webkit-text-stroke:1.8px #fff;color:#111;transform:matrix(0.0000,-0.4097,0.3054,0.0000,196.1293,651.0680)">(ppm)</div>
<svg width="1015" height="160" viewBox="0 0 1015 160"><path d="M305.8,42.1 C306.2,39.8 307.3,37.1 309.1,35.6 C310.9,34.1 313.6,33.4 316.7,33.4 C319.8,33.4 323.5,34.3 327.5,35.6 C331.5,36.9 336.2,38.8 340.5,41.0 C344.8,43.2 349.4,45.7 353.5,48.6 C357.6,51.5 361.4,55.0 365.4,58.4 C369.4,61.8 373.8,65.2 377.4,69.2 C381.0,73.2 384.8,78.1 387.1,82.2 C389.5,86.3 390.9,90.3 391.5,94.1 C392.1,97.9 391.7,102.3 390.4,105.0 C389.1,107.7 386.8,109.7 383.9,110.4 C381.0,111.1 377.0,110.6 373.0,109.3 C369.0,108.0 364.5,105.3 360.0,102.8 C355.5,100.3 350.4,97.2 345.9,94.1 C341.4,91.0 336.9,87.8 332.9,84.4 C328.9,81.0 325.5,77.5 322.1,73.5 C318.7,69.5 314.9,64.5 312.3,60.5 C309.7,56.5 307.5,52.8 306.4,49.7 C305.3,46.6 305.4,44.5 305.8,42.1Z" fill="rgb(207,48,209)" fill-opacity="0.41"/><path d="M360.8,32.3 C362.2,30.1 364.6,29.6 367.3,29.1 C370.0,28.6 373.3,28.4 377.1,29.1 C380.9,29.8 386.0,31.6 390.1,33.4 C394.2,35.2 397.9,37.2 402.0,39.9 C406.1,42.6 411.0,46.6 415.0,49.7 C419.0,52.8 422.3,55.1 425.9,58.4 C429.5,61.6 434.0,65.6 436.7,69.2 C439.4,72.8 441.2,76.0 442.1,80.0 C443.0,84.0 443.2,89.0 442.1,93.0 C441.0,97.0 438.7,101.0 435.6,103.9 C432.5,106.8 428.0,108.8 423.7,110.4 C419.4,112.0 414.1,113.0 409.6,113.6 C405.1,114.2 400.6,114.4 396.6,114.2 C392.6,114.0 388.9,113.5 385.8,112.5 C382.7,111.5 380.4,110.5 378.2,108.2 C376.0,105.9 374.4,102.3 372.8,98.5 C371.2,94.7 369.8,89.8 368.4,85.4 C366.9,81.1 365.5,76.6 364.1,72.4 C362.7,68.2 360.8,64.1 359.8,60.5 C358.8,56.9 358.3,53.9 358.1,50.8 C357.9,47.7 358.2,45.2 358.7,42.1 C359.1,39.0 359.4,34.5 360.8,32.3Z" fill="rgb(132,245,255)" fill-opacity="0.3"/><path d="M598.1,39.9 C598.3,37.7 599.4,35.9 600.8,34.5 C602.2,33.1 603.6,31.7 606.3,31.3 C609.0,30.9 613.0,31.4 617.1,32.3 C621.2,33.2 626.3,34.7 631.2,36.7 C636.1,38.7 641.4,41.2 646.4,44.3 C651.4,47.4 656.8,51.3 661.5,55.1 C666.2,58.9 670.5,62.9 674.5,67.0 C678.5,71.2 682.5,75.7 685.4,80.0 C688.3,84.3 690.5,89.0 691.9,93.0 C693.3,97.0 694.4,100.8 694.0,103.9 C693.6,107.0 692.0,110.1 689.7,111.5 C687.4,112.9 684.0,113.0 680.0,112.5 C676.0,112.0 670.8,110.2 665.9,108.2 C661.0,106.2 655.6,103.3 650.7,100.6 C645.8,97.9 640.9,95.1 636.6,92.0 C632.3,88.9 628.3,86.0 624.7,82.2 C621.1,78.4 618.0,73.4 614.9,69.2 C611.8,65.0 608.8,60.9 606.3,57.3 C603.8,53.7 601.2,50.4 599.8,47.5 C598.4,44.6 597.9,42.1 598.1,39.9Z" fill="rgb(207,48,209)" fill-opacity="0.41"/><path d="M583.0,21.9 C586.7,21.9 589.2,22.6 592.0,23.5 C594.8,24.4 597.6,25.9 600.0,27.5 C602.4,29.1 604.3,30.1 606.3,33.4 C608.2,36.7 610.1,43.0 611.7,47.5 C613.3,52.0 614.9,56.4 616.0,60.5 C617.1,64.6 617.8,67.1 618.5,72.0 C619.2,76.9 620.1,84.5 620.3,90.0 C620.5,95.5 620.7,100.3 619.8,105.0 C618.9,109.7 617.1,115.3 615.0,118.0 C612.9,120.7 611.2,122.0 607.0,121.0 C602.8,120.0 594.9,115.4 589.6,111.9 C584.4,108.4 580.0,104.3 575.5,100.0 C571.0,95.7 566.5,90.4 562.5,85.9 C558.5,81.4 555.0,76.9 551.7,72.9 C548.5,68.9 544.7,65.2 543.0,62.0 C541.3,58.8 540.9,57.0 541.4,53.4 C541.9,49.8 543.7,44.3 546.3,40.3 C548.9,36.3 553.0,32.3 557.0,29.5 C561.0,26.7 565.7,24.8 570.0,23.5 C574.3,22.2 579.3,21.9 583.0,21.9Z" fill="rgb(132,245,255)" fill-opacity="0.3"/><rect x="34.40" y="26.20" width="5.80" height="3.00" fill="#000"/><rect x="45.25" y="26.20" width="7.00" height="3.00" fill="#000"/><rect x="58.23" y="26.20" width="7.00" height="3.00" fill="#000"/><rect x="71.21" y="26.20" width="7.00" height="3.00" fill="#000"/><rect x="84.19" y="26.20" width="7.00" height="3.00" fill="#000"/><rect x="97.17" y="26.20" width="7.00" height="3.00" fill="#000"/><rect x="110.15" y="26.20" width="7.00" height="3.00" fill="#000"/><rect x="123.13" y="26.20" width="7.00" height="3.00" fill="#000"/><rect x="136.11" y="26.20" width="7.00" height="3.00" fill="#000"/><rect x="149.09" y="26.20" width="7.00" height="3.00" fill="#000"/><rect x="162.07" y="26.20" width="7.00" height="3.00" fill="#000"/><rect x="175.05" y="26.20" width="7.00" height="3.00" fill="#000"/><rect x="188.03" y="26.20" width="7.00" height="3.00" fill="#000"/><rect x="201.01" y="26.20" width="7.00" height="3.00" fill="#000"/><rect x="213.99" y="26.20" width="7.00" height="3.00" fill="#000"/><rect x="226.97" y="26.20" width="7.00" height="3.00" fill="#000"/><rect x="239.95" y="26.20" width="7.00" height="3.00" fill="#000"/><rect x="252.93" y="26.20" width="7.00" height="3.00" fill="#000"/><rect x="265.91" y="26.20" width="7.00" height="3.00" fill="#000"/><rect x="278.89" y="26.20" width="7.00" height="3.00" fill="#000"/><rect x="291.87" y="26.20" width="7.00" height="3.00" fill="#000"/><rect x="304.85" y="26.20" width="7.00" height="3.00" fill="#000"/><rect x="317.83" y="26.20" width="7.00" height="3.00" fill="#000"/><rect x="330.81" y="26.20" width="7.00" height="3.00" fill="#000"/><rect x="343.79" y="26.20" width="7.00" height="3.00" fill="#000"/><rect x="356.77" y="26.20" width="7.00" height="3.00" fill="#000"/><rect x="369.75" y="26.20" width="7.00" height="3.00" fill="#000"/><rect x="382.73" y="26.20" width="7.00" height="3.00" fill="#000"/><rect x="395.71" y="26.20" width="7.00" height="3.00" fill="#000"/><rect x="408.69" y="26.20" width="7.00" height="3.00" fill="#000"/><rect x="421.67" y="26.20" width="7.00" height="3.00" fill="#000"/><rect x="434.65" y="26.20" width="7.00" height="3.00" fill="#000"/><rect x="447.63" y="26.20" width="7.00" height="3.00" fill="#000"/><rect x="460.61" y="26.20" width="7.00" height="3.00" fill="#000"/><rect x="473.59" y="26.20" width="7.00" height="3.00" fill="#000"/><rect x="486.57" y="26.20" width="7.00" height="3.00" fill="#000"/><rect x="499.55" y="26.20" width="7.00" height="3.00" fill="#000"/><rect x="512.53" y="26.20" width="7.00" height="3.00" fill="#000"/><rect x="525.51" y="26.20" width="7.00" height="3.00" fill="#000"/><rect x="538.49" y="26.20" width="7.00" height="3.00" fill="#000"/><rect x="551.47" y="26.20" width="7.00" height="3.00" fill="#000"/><rect x="564.45" y="26.20" width="7.00" height="3.00" fill="#000"/><rect x="577.43" y="26.20" width="7.00" height="3.00" fill="#000"/><rect x="590.41" y="26.20" width="7.00" height="3.00" fill="#000"/><rect x="603.39" y="26.20" width="7.00" height="3.00" fill="#000"/><rect x="616.37" y="26.20" width="7.00" height="3.00" fill="#000"/><rect x="629.35" y="26.20" width="7.00" height="3.00" fill="#000"/><rect x="642.33" y="26.20" width="7.00" height="3.00" fill="#000"/><rect x="655.31" y="26.20" width="7.00" height="3.00" fill="#000"/><rect x="668.29" y="26.20" width="7.00" height="3.00" fill="#000"/><rect x="681.27" y="26.20" width="7.00" height="3.00" fill="#000"/><rect x="694.25" y="26.20" width="7.00" height="3.00" fill="#000"/><rect x="707.23" y="26.20" width="7.00" height="3.00" fill="#000"/><rect x="720.21" y="26.20" width="7.00" height="3.00" fill="#000"/><rect x="733.19" y="26.20" width="7.00" height="3.00" fill="#000"/><rect x="746.17" y="26.20" width="7.00" height="3.00" fill="#000"/><rect x="759.15" y="26.20" width="7.00" height="3.00" fill="#000"/><rect x="772.13" y="26.20" width="7.00" height="3.00" fill="#000"/><rect x="785.11" y="26.20" width="7.00" height="3.00" fill="#000"/><rect x="798.09" y="26.20" width="7.00" height="3.00" fill="#000"/><rect x="811.07" y="26.20" width="7.00" height="3.00" fill="#000"/><rect x="824.05" y="26.20" width="7.00" height="3.00" fill="#000"/><rect x="837.03" y="26.20" width="7.00" height="3.00" fill="#000"/><rect x="850.01" y="26.20" width="7.00" height="3.00" fill="#000"/><rect x="862.99" y="26.20" width="7.00" height="3.00" fill="#000"/><rect x="875.97" y="26.20" width="7.00" height="3.00" fill="#000"/><rect x="888.00" y="26.20" width="5.80" height="3.00" fill="#000"/><rect x="34.40" y="70.30" width="5.80" height="3.00" fill="#000"/><rect x="45.25" y="70.30" width="7.00" height="3.00" fill="#000"/><rect x="58.23" y="70.30" width="7.00" height="3.00" fill="#000"/><rect x="71.21" y="70.30" width="7.00" height="3.00" fill="#000"/><rect x="84.19" y="70.30" width="7.00" height="3.00" fill="#000"/><rect x="97.17" y="70.30" width="7.00" height="3.00" fill="#000"/><rect x="110.15" y="70.30" width="7.00" height="3.00" fill="#000"/><rect x="123.13" y="70.30" width="7.00" height="3.00" fill="#000"/><rect x="136.11" y="70.30" width="7.00" height="3.00" fill="#000"/><rect x="149.09" y="70.30" width="7.00" height="3.00" fill="#000"/><rect x="162.07" y="70.30" width="7.00" height="3.00" fill="#000"/><rect x="175.05" y="70.30" width="7.00" height="3.00" fill="#000"/><rect x="188.03" y="70.30" width="7.00" height="3.00" fill="#000"/><rect x="201.01" y="70.30" width="7.00" height="3.00" fill="#000"/><rect x="213.99" y="70.30" width="7.00" height="3.00" fill="#000"/><rect x="226.97" y="70.30" width="7.00" height="3.00" fill="#000"/><rect x="239.95" y="70.30" width="7.00" height="3.00" fill="#000"/><rect x="252.93" y="70.30" width="7.00" height="3.00" fill="#000"/><rect x="265.91" y="70.30" width="7.00" height="3.00" fill="#000"/><rect x="278.89" y="70.30" width="7.00" height="3.00" fill="#000"/><rect x="291.87" y="70.30" width="7.00" height="3.00" fill="#000"/><rect x="304.85" y="70.30" width="7.00" height="3.00" fill="#000"/><rect x="317.83" y="70.30" width="7.00" height="3.00" fill="#000"/><rect x="330.81" y="70.30" width="7.00" height="3.00" fill="#000"/><rect x="343.79" y="70.30" width="7.00" height="3.00" fill="#000"/><rect x="356.77" y="70.30" width="7.00" height="3.00" fill="#000"/><rect x="369.75" y="70.30" width="7.00" height="3.00" fill="#000"/><rect x="382.73" y="70.30" width="7.00" height="3.00" fill="#000"/><rect x="395.71" y="70.30" width="7.00" height="3.00" fill="#000"/><rect x="408.69" y="70.30" width="7.00" height="3.00" fill="#000"/><rect x="421.67" y="70.30" width="7.00" height="3.00" fill="#000"/><rect x="434.65" y="70.30" width="7.00" height="3.00" fill="#000"/><rect x="447.63" y="70.30" width="7.00" height="3.00" fill="#000"/><rect x="460.61" y="70.30" width="7.00" height="3.00" fill="#000"/><rect x="473.59" y="70.30" width="7.00" height="3.00" fill="#000"/><rect x="486.57" y="70.30" width="7.00" height="3.00" fill="#000"/><rect x="499.55" y="70.30" width="7.00" height="3.00" fill="#000"/><rect x="512.53" y="70.30" width="7.00" height="3.00" fill="#000"/><rect x="525.51" y="70.30" width="7.00" height="3.00" fill="#000"/><rect x="538.49" y="70.30" width="7.00" height="3.00" fill="#000"/><rect x="551.47" y="70.30" width="7.00" height="3.00" fill="#000"/><rect x="564.45" y="70.30" width="7.00" height="3.00" fill="#000"/><rect x="577.43" y="70.30" width="7.00" height="3.00" fill="#000"/><rect x="590.41" y="70.30" width="7.00" height="3.00" fill="#000"/><rect x="603.39" y="70.30" width="7.00" height="3.00" fill="#000"/><rect x="616.37" y="70.30" width="7.00" height="3.00" fill="#000"/><rect x="629.35" y="70.30" width="7.00" height="3.00" fill="#000"/><rect x="642.33" y="70.30" width="7.00" height="3.00" fill="#000"/><rect x="655.31" y="70.30" width="7.00" height="3.00" fill="#000"/><rect x="668.29" y="70.30" width="7.00" height="3.00" fill="#000"/><rect x="681.27" y="70.30" width="7.00" height="3.00" fill="#000"/><rect x="694.25" y="70.30" width="7.00" height="3.00" fill="#000"/><rect x="707.23" y="70.30" width="7.00" height="3.00" fill="#000"/><rect x="720.21" y="70.30" width="7.00" height="3.00" fill="#000"/><rect x="733.19" y="70.30" width="7.00" height="3.00" fill="#000"/><rect x="746.17" y="70.30" width="7.00" height="3.00" fill="#000"/><rect x="759.15" y="70.30" width="7.00" height="3.00" fill="#000"/><rect x="772.13" y="70.30" width="7.00" height="3.00" fill="#000"/><rect x="785.11" y="70.30" width="7.00" height="3.00" fill="#000"/><rect x="798.09" y="70.30" width="7.00" height="3.00" fill="#000"/><rect x="811.07" y="70.30" width="7.00" height="3.00" fill="#000"/><rect x="824.05" y="70.30" width="7.00" height="3.00" fill="#000"/><rect x="837.03" y="70.30" width="7.00" height="3.00" fill="#000"/><rect x="850.01" y="70.30" width="7.00" height="3.00" fill="#000"/><rect x="862.99" y="70.30" width="7.00" height="3.00" fill="#000"/><rect x="875.97" y="70.30" width="7.00" height="3.00" fill="#000"/><rect x="888.00" y="70.30" width="5.80" height="3.00" fill="#000"/><rect x="34.40" y="26.20" width="3.00" height="4.80" fill="#000"/><rect x="34.40" y="38.30" width="3.00" height="7.30" fill="#000"/><rect x="34.40" y="53.40" width="3.00" height="7.20" fill="#000"/><rect x="34.40" y="68.50" width="3.00" height="4.80" fill="#000"/><rect x="890.80" y="26.20" width="3.00" height="4.80" fill="#000"/><rect x="890.80" y="38.30" width="3.00" height="7.10" fill="#000"/><rect x="890.80" y="53.70" width="3.00" height="7.10" fill="#000"/><rect x="890.80" y="68.50" width="3.00" height="4.80" fill="#000"/><rect x="108.50" y="70.70" width="6.00" height="3.00" fill="#000"/><rect x="119.00" y="70.70" width="7.00" height="3.00" fill="#000"/><rect x="131.98" y="70.70" width="7.00" height="3.00" fill="#000"/><rect x="144.96" y="70.70" width="7.00" height="3.00" fill="#000"/><rect x="157.94" y="70.70" width="7.00" height="3.00" fill="#000"/><rect x="170.92" y="70.70" width="7.00" height="3.00" fill="#000"/><rect x="183.90" y="70.70" width="7.00" height="3.00" fill="#000"/><rect x="196.88" y="70.70" width="7.00" height="3.00" fill="#000"/><rect x="209.86" y="70.70" width="7.00" height="3.00" fill="#000"/><rect x="222.84" y="70.70" width="7.00" height="3.00" fill="#000"/><rect x="235.82" y="70.70" width="7.00" height="3.00" fill="#000"/><rect x="248.80" y="70.70" width="7.00" height="3.00" fill="#000"/><rect x="261.78" y="70.70" width="7.00" height="3.00" fill="#000"/><rect x="274.76" y="70.70" width="7.00" height="3.00" fill="#000"/><rect x="287.74" y="70.70" width="7.00" height="3.00" fill="#000"/><rect x="300.72" y="70.70" width="7.00" height="3.00" fill="#000"/><rect x="313.70" y="70.70" width="7.00" height="3.00" fill="#000"/><rect x="326.68" y="70.70" width="7.00" height="3.00" fill="#000"/><rect x="339.66" y="70.70" width="7.00" height="3.00" fill="#000"/><rect x="352.64" y="70.70" width="7.00" height="3.00" fill="#000"/><rect x="365.62" y="70.70" width="7.00" height="3.00" fill="#000"/><rect x="378.60" y="70.70" width="7.00" height="3.00" fill="#000"/><rect x="391.58" y="70.70" width="7.00" height="3.00" fill="#000"/><rect x="404.56" y="70.70" width="7.00" height="3.00" fill="#000"/><rect x="417.54" y="70.70" width="7.00" height="3.00" fill="#000"/><rect x="430.52" y="70.70" width="7.00" height="3.00" fill="#000"/><rect x="443.50" y="70.70" width="7.00" height="3.00" fill="#000"/><rect x="456.48" y="70.70" width="7.00" height="3.00" fill="#000"/><rect x="469.46" y="70.70" width="7.00" height="3.00" fill="#000"/><rect x="482.44" y="70.70" width="7.00" height="3.00" fill="#000"/><rect x="495.42" y="70.70" width="7.00" height="3.00" fill="#000"/><rect x="508.40" y="70.70" width="7.00" height="3.00" fill="#000"/><rect x="521.38" y="70.70" width="7.00" height="3.00" fill="#000"/><rect x="534.36" y="70.70" width="7.00" height="3.00" fill="#000"/><rect x="547.34" y="70.70" width="7.00" height="3.00" fill="#000"/><rect x="560.32" y="70.70" width="7.00" height="3.00" fill="#000"/><rect x="573.30" y="70.70" width="7.00" height="3.00" fill="#000"/><rect x="586.28" y="70.70" width="7.00" height="3.00" fill="#000"/><rect x="599.26" y="70.70" width="7.00" height="3.00" fill="#000"/><rect x="612.24" y="70.70" width="7.00" height="3.00" fill="#000"/><rect x="625.22" y="70.70" width="7.00" height="3.00" fill="#000"/><rect x="638.20" y="70.70" width="7.00" height="3.00" fill="#000"/><rect x="651.18" y="70.70" width="7.00" height="3.00" fill="#000"/><rect x="664.16" y="70.70" width="7.00" height="3.00" fill="#000"/><rect x="677.14" y="70.70" width="7.00" height="3.00" fill="#000"/><rect x="690.12" y="70.70" width="7.00" height="3.00" fill="#000"/><rect x="703.10" y="70.70" width="7.00" height="3.00" fill="#000"/><rect x="716.08" y="70.70" width="7.00" height="3.00" fill="#000"/><rect x="729.06" y="70.70" width="7.00" height="3.00" fill="#000"/><rect x="742.04" y="70.70" width="7.00" height="3.00" fill="#000"/><rect x="755.02" y="70.70" width="7.00" height="3.00" fill="#000"/><rect x="768.00" y="70.70" width="7.00" height="3.00" fill="#000"/><rect x="780.98" y="70.70" width="7.00" height="3.00" fill="#000"/><rect x="793.96" y="70.70" width="7.00" height="3.00" fill="#000"/><rect x="806.94" y="70.70" width="7.00" height="3.00" fill="#000"/><rect x="819.92" y="70.70" width="7.00" height="3.00" fill="#000"/><rect x="832.90" y="70.70" width="7.00" height="3.00" fill="#000"/><rect x="845.88" y="70.70" width="7.00" height="3.00" fill="#000"/><rect x="858.86" y="70.70" width="7.00" height="3.00" fill="#000"/><rect x="871.84" y="70.70" width="7.00" height="3.00" fill="#000"/><rect x="884.82" y="70.70" width="7.00" height="3.00" fill="#000"/><rect x="897.80" y="70.70" width="7.00" height="3.00" fill="#000"/><rect x="910.78" y="70.70" width="7.00" height="3.00" fill="#000"/><rect x="923.76" y="70.70" width="7.00" height="3.00" fill="#000"/><rect x="936.74" y="70.70" width="7.00" height="3.00" fill="#000"/><rect x="949.72" y="70.70" width="7.00" height="3.00" fill="#000"/><rect x="962.70" y="70.70" width="4.90" height="3.00" fill="#000"/><rect x="961.70" y="70.70" width="5.90" height="3.00" fill="#000"/><rect x="108.50" y="115.00" width="6.00" height="3.00" fill="#000"/><rect x="119.00" y="115.00" width="7.00" height="3.00" fill="#000"/><rect x="131.98" y="115.00" width="7.00" height="3.00" fill="#000"/><rect x="144.96" y="115.00" width="7.00" height="3.00" fill="#000"/><rect x="157.94" y="115.00" width="7.00" height="3.00" fill="#000"/><rect x="170.92" y="115.00" width="7.00" height="3.00" fill="#000"/><rect x="183.90" y="115.00" width="7.00" height="3.00" fill="#000"/><rect x="196.88" y="115.00" width="7.00" height="3.00" fill="#000"/><rect x="209.86" y="115.00" width="7.00" height="3.00" fill="#000"/><rect x="222.84" y="115.00" width="7.00" height="3.00" fill="#000"/><rect x="235.82" y="115.00" width="7.00" height="3.00" fill="#000"/><rect x="248.80" y="115.00" width="7.00" height="3.00" fill="#000"/><rect x="261.78" y="115.00" width="7.00" height="3.00" fill="#000"/><rect x="274.76" y="115.00" width="7.00" height="3.00" fill="#000"/><rect x="287.74" y="115.00" width="7.00" height="3.00" fill="#000"/><rect x="300.72" y="115.00" width="7.00" height="3.00" fill="#000"/><rect x="313.70" y="115.00" width="7.00" height="3.00" fill="#000"/><rect x="326.68" y="115.00" width="7.00" height="3.00" fill="#000"/><rect x="339.66" y="115.00" width="7.00" height="3.00" fill="#000"/><rect x="352.64" y="115.00" width="7.00" height="3.00" fill="#000"/><rect x="365.62" y="115.00" width="7.00" height="3.00" fill="#000"/><rect x="378.60" y="115.00" width="7.00" height="3.00" fill="#000"/><rect x="391.58" y="115.00" width="7.00" height="3.00" fill="#000"/><rect x="404.56" y="115.00" width="7.00" height="3.00" fill="#000"/><rect x="417.54" y="115.00" width="7.00" height="3.00" fill="#000"/><rect x="430.52" y="115.00" width="7.00" height="3.00" fill="#000"/><rect x="443.50" y="115.00" width="7.00" height="3.00" fill="#000"/><rect x="456.48" y="115.00" width="7.00" height="3.00" fill="#000"/><rect x="469.46" y="115.00" width="7.00" height="3.00" fill="#000"/><rect x="482.44" y="115.00" width="7.00" height="3.00" fill="#000"/><rect x="495.42" y="115.00" width="7.00" height="3.00" fill="#000"/><rect x="508.40" y="115.00" width="7.00" height="3.00" fill="#000"/><rect x="521.38" y="115.00" width="7.00" height="3.00" fill="#000"/><rect x="534.36" y="115.00" width="7.00" height="3.00" fill="#000"/><rect x="547.34" y="115.00" width="7.00" height="3.00" fill="#000"/><rect x="560.32" y="115.00" width="7.00" height="3.00" fill="#000"/><rect x="573.30" y="115.00" width="7.00" height="3.00" fill="#000"/><rect x="586.28" y="115.00" width="7.00" height="3.00" fill="#000"/><rect x="599.26" y="115.00" width="7.00" height="3.00" fill="#000"/><rect x="612.24" y="115.00" width="7.00" height="3.00" fill="#000"/><rect x="625.22" y="115.00" width="7.00" height="3.00" fill="#000"/><rect x="638.20" y="115.00" width="7.00" height="3.00" fill="#000"/><rect x="651.18" y="115.00" width="7.00" height="3.00" fill="#000"/><rect x="664.16" y="115.00" width="7.00" height="3.00" fill="#000"/><rect x="677.14" y="115.00" width="7.00" height="3.00" fill="#000"/><rect x="690.12" y="115.00" width="7.00" height="3.00" fill="#000"/><rect x="703.10" y="115.00" width="7.00" height="3.00" fill="#000"/><rect x="716.08" y="115.00" width="7.00" height="3.00" fill="#000"/><rect x="729.06" y="115.00" width="7.00" height="3.00" fill="#000"/><rect x="742.04" y="115.00" width="7.00" height="3.00" fill="#000"/><rect x="755.02" y="115.00" width="7.00" height="3.00" fill="#000"/><rect x="768.00" y="115.00" width="7.00" height="3.00" fill="#000"/><rect x="780.98" y="115.00" width="7.00" height="3.00" fill="#000"/><rect x="793.96" y="115.00" width="7.00" height="3.00" fill="#000"/><rect x="806.94" y="115.00" width="7.00" height="3.00" fill="#000"/><rect x="819.92" y="115.00" width="7.00" height="3.00" fill="#000"/><rect x="832.90" y="115.00" width="7.00" height="3.00" fill="#000"/><rect x="845.88" y="115.00" width="7.00" height="3.00" fill="#000"/><rect x="858.86" y="115.00" width="7.00" height="3.00" fill="#000"/><rect x="871.84" y="115.00" width="7.00" height="3.00" fill="#000"/><rect x="884.82" y="115.00" width="7.00" height="3.00" fill="#000"/><rect x="897.80" y="115.00" width="7.00" height="3.00" fill="#000"/><rect x="910.78" y="115.00" width="7.00" height="3.00" fill="#000"/><rect x="923.76" y="115.00" width="7.00" height="3.00" fill="#000"/><rect x="936.74" y="115.00" width="7.00" height="3.00" fill="#000"/><rect x="949.72" y="115.00" width="7.00" height="3.00" fill="#000"/><rect x="962.70" y="115.00" width="4.90" height="3.00" fill="#000"/><rect x="961.70" y="115.00" width="5.90" height="3.00" fill="#000"/><rect x="108.50" y="70.70" width="3.00" height="4.80" fill="#000"/><rect x="108.50" y="83.00" width="3.00" height="7.50" fill="#000"/><rect x="108.50" y="98.00" width="3.00" height="7.50" fill="#000"/><rect x="108.50" y="113.50" width="3.00" height="4.50" fill="#000"/><rect x="964.60" y="70.70" width="3.00" height="4.60" fill="#000"/><rect x="964.60" y="82.80" width="3.00" height="7.60" fill="#000"/><rect x="964.60" y="98.30" width="3.00" height="7.60" fill="#000"/><rect x="964.60" y="113.40" width="3.00" height="4.60" fill="#000"/><polygon points="2.7,49.8 70.5,11.6 63.4,33.6 249.7,33.6 249.7,66 63.4,66 70.5,88" fill="rgb(142,235,93)" fill-opacity="0.45"/><polygon points="1012.2,94.3 944.9,57 951.5,77.5 754,77.5 754,111.2 951.5,111.2 944.9,131.5" fill="rgb(142,235,93)" fill-opacity="0.45"/></svg>
</body></html>
